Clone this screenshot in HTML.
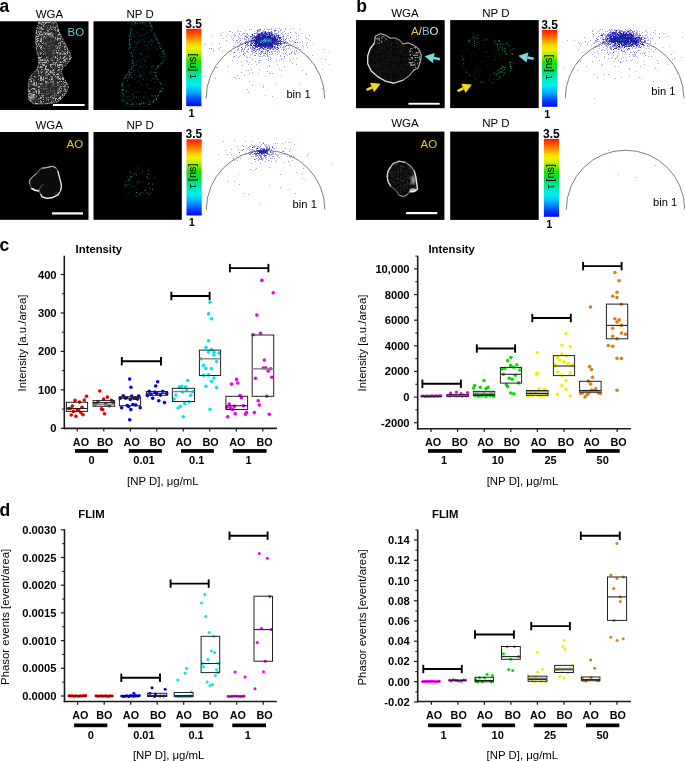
<!DOCTYPE html><html><head><meta charset="utf-8"><style>html,body{margin:0;padding:0;background:#fff}body{width:685px;height:761px;overflow:hidden}svg{display:block}text{font-family:"Liberation Sans",sans-serif}</style></head><body>
<svg width="685" height="761" viewBox="0 0 685 761"><g style="will-change:transform">
<defs>
<linearGradient id="cb" x1="0" y1="0" x2="0" y2="1">
<stop offset="0" stop-color="#ff1800"/>
<stop offset="0.1" stop-color="#ff7000"/>
<stop offset="0.2" stop-color="#ffd800"/>
<stop offset="0.25" stop-color="#f0f000"/>
<stop offset="0.32" stop-color="#b0f000"/>
<stop offset="0.42" stop-color="#20e000"/>
<stop offset="0.52" stop-color="#00e050"/>
<stop offset="0.62" stop-color="#00e8b0"/>
<stop offset="0.72" stop-color="#00f0f0"/>
<stop offset="0.82" stop-color="#00a8ff"/>
<stop offset="0.92" stop-color="#0040ff"/>
<stop offset="1" stop-color="#0808f0"/>
</linearGradient>
<filter id="mesh" x="0" y="0" width="100%" height="100%" color-interpolation-filters="sRGB">
<feTurbulence type="turbulence" baseFrequency="0.42" numOctaves="3" seed="4" result="t"/>
<feColorMatrix in="t" type="matrix" values="0 0 0 0 1  0 0 0 0 1  0 0 0 0 1  4.2 0 0 0 -1.05" result="w"/>
<feGaussianBlur stdDeviation="0.5"/>
<feComposite in2="SourceGraphic" operator="in"/>
</filter>
<filter id="speckg" x="0" y="0" width="100%" height="100%" color-interpolation-filters="sRGB">
<feTurbulence type="fractalNoise" baseFrequency="0.8" numOctaves="1" seed="9" result="t"/>
<feColorMatrix in="t" type="matrix" values="0 0 0 0 0.15  0 0 0 0 0.75  0 0 0 0 0.6  0 0 0 12 -8.2" result="w"/>
<feComposite in2="SourceGraphic" operator="in"/>
</filter>
<filter id="blur1" color-interpolation-filters="sRGB"><feGaussianBlur stdDeviation="1.2"/></filter>
<filter id="blur03" x="-5%" y="-5%" width="110%" height="110%" color-interpolation-filters="sRGB"><feGaussianBlur stdDeviation="0.3"/></filter>
<filter id="blur05" color-interpolation-filters="sRGB"><feGaussianBlur stdDeviation="0.5"/></filter>
</defs>
<text x="-0.6" y="12" font-size="17.5" font-weight="bold" text-anchor="start" fill="#000" >a</text>
<text x="356.2" y="12" font-size="17.5" font-weight="bold" text-anchor="start" fill="#000" >b</text>
<text x="-0.6" y="250.6" font-size="17.5" font-weight="bold" text-anchor="start" fill="#000" >c</text>
<text x="-0.6" y="515.6" font-size="17.5" font-weight="bold" text-anchor="start" fill="#000" >d</text>
<rect x="0" y="21.3" width="88.5" height="88.7" fill="#000" />
<rect x="93.5" y="21.3" width="88.5" height="88.7" fill="#000" />
<rect x="0" y="132" width="88.5" height="87.8" fill="#000" />
<rect x="93.5" y="132" width="88.3" height="87.8" fill="#000" />
<rect x="356" y="20.1" width="88.7" height="88.1" fill="#000" />
<rect x="450.2" y="20.1" width="88.5" height="88.0" fill="#000" />
<rect x="356" y="131.6" width="88.4" height="88.3" fill="#000" />
<rect x="450.2" y="131.6" width="88.5" height="88.3" fill="#000" />
<path d="M38.9,22 L56.4,22 L59,31.4 L63.1,39.5 L67.1,47.5 L70.5,54.3 L71.2,58.3 L68.5,62.3 L63.1,67.7 L61.1,71.7 L63.8,78.4 L67.8,83.8 L68.5,87.8 L65.8,93.2 L61.8,98.6 L56.4,102.6 L44.3,104 L33.6,104 L28.9,99.9 L28.2,90.5 L28.9,79.8 L32.2,74.4 L36.9,69 L38.9,63.7 L38.3,57 L36.3,48.9 L35.6,39.5 L36.3,30.1 Z" fill="#262626" stroke="#a0a0a0" stroke-width="1.0" stroke-dasharray="2 1 1 1"/>
<path d="M38.9,22 L56.4,22 L59,31.4 L63.1,39.5 L67.1,47.5 L70.5,54.3 L71.2,58.3 L68.5,62.3 L63.1,67.7 L61.1,71.7 L63.8,78.4 L67.8,83.8 L68.5,87.8 L65.8,93.2 L61.8,98.6 L56.4,102.6 L44.3,104 L33.6,104 L28.9,99.9 L28.2,90.5 L28.9,79.8 L32.2,74.4 L36.9,69 L38.9,63.7 L38.3,57 L36.3,48.9 L35.6,39.5 L36.3,30.1 Z" fill="#fff" filter="url(#mesh)" opacity="0.62"/>
<ellipse cx="50" cy="46" rx="6" ry="11" fill="#2a2a2a" opacity="0.7" filter="url(#blur1)"/>
<ellipse cx="49" cy="89" rx="9" ry="7" fill="#2a2a2a" opacity="0.65" filter="url(#blur1)"/>
<ellipse cx="32" cy="97" rx="3" ry="3" fill="#fff" opacity="0.45" filter="url(#blur1)"/>
<ellipse cx="51" cy="35" rx="2" ry="2.5" fill="#fff" opacity="0.4" filter="url(#blur1)"/>
<rect x="138.1" y="40.9" width="1" height="1" fill="#1a5a9a" opacity="0.66"/>
<rect x="138.3" y="95.5" width="1" height="1" fill="#188a60" opacity="0.50"/>
<rect x="138.2" y="82.0" width="1" height="1" fill="#30b070" opacity="0.25"/>
<rect x="132.4" y="103.8" width="1" height="1" fill="#137a7a" opacity="0.45"/>
<rect x="152.8" y="35.7" width="1" height="1" fill="#0e4a6a" opacity="0.56"/>
<rect x="146.8" y="31.8" width="1" height="1" fill="#30b070" opacity="0.26"/>
<rect x="159.0" y="91.0" width="1" height="1" fill="#1a5a9a" opacity="0.28"/>
<rect x="137.2" y="61.0" width="1" height="1" fill="#30b070" opacity="0.55"/>
<rect x="127.0" y="96.9" width="1" height="1" fill="#0e4a6a" opacity="0.66"/>
<rect x="146.5" y="57.7" width="1" height="1" fill="#137a7a" opacity="0.39"/>
<rect x="128.0" y="76.7" width="1" height="1" fill="#2a9a9a" opacity="0.26"/>
<rect x="149.9" y="92.5" width="1" height="1" fill="#1a5a9a" opacity="0.26"/>
<rect x="153.0" y="56.9" width="1" height="1" fill="#0e4a6a" opacity="0.38"/>
<rect x="141.6" y="36.5" width="1" height="1" fill="#137a7a" opacity="0.57"/>
<rect x="152.7" y="77.9" width="1" height="1" fill="#137a7a" opacity="0.69"/>
<rect x="152.0" y="95.4" width="1" height="1" fill="#2a9a9a" opacity="0.54"/>
<rect x="153.9" y="71.9" width="1" height="1" fill="#2a9a9a" opacity="0.52"/>
<rect x="126.0" y="99.5" width="1" height="1" fill="#1a5a9a" opacity="0.45"/>
<rect x="153.2" y="77.8" width="1" height="1" fill="#2a9a9a" opacity="0.61"/>
<rect x="125.3" y="76.8" width="1" height="1" fill="#30b070" opacity="0.35"/>
<rect x="151.2" y="44.7" width="1" height="1" fill="#0e4a6a" opacity="0.40"/>
<rect x="161.5" y="53.1" width="1" height="1" fill="#188a60" opacity="0.59"/>
<rect x="153.2" y="39.6" width="1" height="1" fill="#1a5a9a" opacity="0.35"/>
<rect x="132.1" y="103.0" width="1" height="1" fill="#30b070" opacity="0.51"/>
<rect x="131.5" y="77.4" width="1" height="1" fill="#137a7a" opacity="0.62"/>
<rect x="140.9" y="82.7" width="1" height="1" fill="#1a5a9a" opacity="0.50"/>
<rect x="143.1" y="101.6" width="1" height="1" fill="#188a60" opacity="0.62"/>
<rect x="143.8" y="75.3" width="1" height="1" fill="#1a5a9a" opacity="0.44"/>
<rect x="151.5" y="39.6" width="1" height="1" fill="#2a9a9a" opacity="0.66"/>
<rect x="128.2" y="92.0" width="1" height="1" fill="#30b070" opacity="0.35"/>
<rect x="127.0" y="79.9" width="1" height="1" fill="#30b070" opacity="0.51"/>
<rect x="134.7" y="87.4" width="1" height="1" fill="#0e4a6a" opacity="0.63"/>
<rect x="140.7" y="61.7" width="1" height="1" fill="#2a9a9a" opacity="0.38"/>
<rect x="132.3" y="60.7" width="1" height="1" fill="#30b070" opacity="0.62"/>
<rect x="124.0" y="89.7" width="1" height="1" fill="#0e4a6a" opacity="0.62"/>
<rect x="144.7" y="84.1" width="1" height="1" fill="#0e4a6a" opacity="0.34"/>
<rect x="156.2" y="48.4" width="1" height="1" fill="#188a60" opacity="0.51"/>
<rect x="140.1" y="23.3" width="1" height="1" fill="#1a5a9a" opacity="0.64"/>
<rect x="143.8" y="34.2" width="1" height="1" fill="#0e4a6a" opacity="0.52"/>
<rect x="137.8" y="41.1" width="1" height="1" fill="#188a60" opacity="0.53"/>
<rect x="145.6" y="65.1" width="1" height="1" fill="#1a5a9a" opacity="0.42"/>
<rect x="146.9" y="78.5" width="1" height="1" fill="#2a9a9a" opacity="0.28"/>
<rect x="144.8" y="25.3" width="1" height="1" fill="#188a60" opacity="0.33"/>
<rect x="142.5" y="83.8" width="1" height="1" fill="#2a9a9a" opacity="0.26"/>
<rect x="135.0" y="47.0" width="1" height="1" fill="#137a7a" opacity="0.50"/>
<rect x="160.1" y="48.1" width="1" height="1" fill="#2a9a9a" opacity="0.59"/>
<rect x="137.7" y="87.2" width="1" height="1" fill="#137a7a" opacity="0.28"/>
<rect x="138.4" y="35.2" width="1" height="1" fill="#2a9a9a" opacity="0.33"/>
<rect x="157.9" y="47.9" width="1" height="1" fill="#188a60" opacity="0.40"/>
<rect x="139.9" y="89.6" width="1" height="1" fill="#0e4a6a" opacity="0.30"/>
<rect x="152.7" y="65.1" width="1" height="1" fill="#188a60" opacity="0.41"/>
<rect x="128.9" y="95.8" width="1" height="1" fill="#2a9a9a" opacity="0.60"/>
<rect x="154.9" y="55.1" width="1" height="1" fill="#0e4a6a" opacity="0.36"/>
<rect x="151.2" y="65.7" width="1" height="1" fill="#188a60" opacity="0.51"/>
<rect x="128.6" y="98.9" width="1" height="1" fill="#137a7a" opacity="0.59"/>
<rect x="144.2" y="37.8" width="1" height="1" fill="#0e4a6a" opacity="0.39"/>
<rect x="133.9" y="98.0" width="1" height="1" fill="#188a60" opacity="0.37"/>
<rect x="125.7" y="91.3" width="1" height="1" fill="#30b070" opacity="0.39"/>
<rect x="139.1" y="66.7" width="1" height="1" fill="#0e4a6a" opacity="0.26"/>
<rect x="149.6" y="41.2" width="1" height="1" fill="#2a9a9a" opacity="0.52"/>
<rect x="150.3" y="56.4" width="1" height="1" fill="#1a5a9a" opacity="0.27"/>
<rect x="130.4" y="46.3" width="1" height="1" fill="#188a60" opacity="0.26"/>
<rect x="143.0" y="78.6" width="1" height="1" fill="#30b070" opacity="0.50"/>
<rect x="148.4" y="102.5" width="1" height="1" fill="#0e4a6a" opacity="0.30"/>
<rect x="139.1" y="75.9" width="1" height="1" fill="#30b070" opacity="0.65"/>
<rect x="160.2" y="88.0" width="1" height="1" fill="#0e4a6a" opacity="0.29"/>
<rect x="154.3" y="79.1" width="1" height="1" fill="#137a7a" opacity="0.29"/>
<rect x="151.0" y="44.5" width="1" height="1" fill="#2a9a9a" opacity="0.42"/>
<rect x="155.7" y="74.8" width="1" height="1" fill="#30b070" opacity="0.43"/>
<rect x="136.9" y="38.4" width="1" height="1" fill="#0e4a6a" opacity="0.68"/>
<rect x="144.1" y="63.9" width="1" height="1" fill="#0e4a6a" opacity="0.56"/>
<rect x="130.6" y="99.4" width="1" height="1" fill="#0e4a6a" opacity="0.37"/>
<rect x="133.3" y="62.4" width="1" height="1" fill="#137a7a" opacity="0.36"/>
<rect x="150.1" y="29.2" width="1" height="1" fill="#188a60" opacity="0.67"/>
<rect x="135.7" y="42.2" width="1" height="1" fill="#1a5a9a" opacity="0.31"/>
<rect x="132.6" y="36.0" width="1" height="1" fill="#30b070" opacity="0.25"/>
<rect x="142.9" y="28.7" width="1" height="1" fill="#30b070" opacity="0.57"/>
<rect x="133.7" y="41.9" width="1" height="1" fill="#137a7a" opacity="0.32"/>
<rect x="134.6" y="99.7" width="1" height="1" fill="#0e4a6a" opacity="0.28"/>
<rect x="152.5" y="41.9" width="1" height="1" fill="#1a5a9a" opacity="0.36"/>
<rect x="131.1" y="28.9" width="1" height="1" fill="#30b070" opacity="0.63"/>
<rect x="143.1" y="58.5" width="1" height="1" fill="#188a60" opacity="0.60"/>
<rect x="148.5" y="46.9" width="1" height="1" fill="#137a7a" opacity="0.26"/>
<rect x="141.4" y="34.6" width="1" height="1" fill="#2a9a9a" opacity="0.62"/>
<rect x="136.6" y="31.2" width="1" height="1" fill="#188a60" opacity="0.38"/>
<rect x="149.1" y="72.8" width="1" height="1" fill="#2a9a9a" opacity="0.59"/>
<rect x="150.5" y="70.6" width="1" height="1" fill="#137a7a" opacity="0.52"/>
<rect x="143.4" y="40.8" width="1" height="1" fill="#137a7a" opacity="0.53"/>
<rect x="128.4" y="74.5" width="1" height="1" fill="#30b070" opacity="0.68"/>
<rect x="132.3" y="55.5" width="1" height="1" fill="#188a60" opacity="0.68"/>
<rect x="138.8" y="80.4" width="1" height="1" fill="#2a9a9a" opacity="0.38"/>
<rect x="138.8" y="57.5" width="1" height="1" fill="#0e4a6a" opacity="0.39"/>
<rect x="151.0" y="73.7" width="1" height="1" fill="#137a7a" opacity="0.60"/>
<rect x="146.4" y="100.2" width="1" height="1" fill="#0e4a6a" opacity="0.28"/>
<rect x="141.9" y="66.4" width="1" height="1" fill="#2a9a9a" opacity="0.61"/>
<rect x="133.7" y="35.8" width="1" height="1" fill="#30b070" opacity="0.45"/>
<rect x="140.9" y="85.1" width="1" height="1" fill="#1a5a9a" opacity="0.61"/>
<rect x="143.4" y="23.7" width="1" height="1" fill="#1a5a9a" opacity="0.32"/>
<rect x="156.1" y="76.3" width="1" height="1" fill="#30b070" opacity="0.48"/>
<rect x="135.6" y="91.4" width="1" height="1" fill="#137a7a" opacity="0.67"/>
<rect x="145.2" y="23.2" width="1" height="1" fill="#137a7a" opacity="0.57"/>
<rect x="141.4" y="22.5" width="1" height="1" fill="#0e4a6a" opacity="0.52"/>
<rect x="128.5" y="76.2" width="1" height="1" fill="#137a7a" opacity="0.49"/>
<rect x="127.4" y="76.9" width="1" height="1" fill="#30b070" opacity="0.34"/>
<rect x="154.6" y="94.9" width="1" height="1" fill="#2a9a9a" opacity="0.59"/>
<rect x="128.5" y="85.5" width="1" height="1" fill="#1a5a9a" opacity="0.69"/>
<rect x="157.7" y="66.1" width="1" height="1" fill="#137a7a" opacity="0.43"/>
<rect x="125.1" y="100.1" width="1" height="1" fill="#188a60" opacity="0.27"/>
<rect x="129.7" y="44.7" width="1" height="1" fill="#2a9a9a" opacity="0.31"/>
<rect x="162.2" y="58.5" width="1" height="1" fill="#1a5a9a" opacity="0.38"/>
<rect x="140.5" y="75.4" width="1" height="1" fill="#30b070" opacity="0.48"/>
<rect x="136.1" y="43.4" width="1" height="1" fill="#137a7a" opacity="0.54"/>
<rect x="147.2" y="84.2" width="1" height="1" fill="#30b070" opacity="0.64"/>
<rect x="149.4" y="100.0" width="1" height="1" fill="#30b070" opacity="0.33"/>
<rect x="130.1" y="74.3" width="1" height="1" fill="#1a5a9a" opacity="0.37"/>
<rect x="150.8" y="39.6" width="1" height="1" fill="#137a7a" opacity="0.54"/>
<rect x="134.0" y="64.8" width="1" height="1" fill="#137a7a" opacity="0.46"/>
<rect x="129.1" y="90.8" width="1" height="1" fill="#0e4a6a" opacity="0.40"/>
<rect x="149.1" y="88.1" width="1" height="1" fill="#188a60" opacity="0.67"/>
<rect x="140.0" y="40.4" width="1" height="1" fill="#0e4a6a" opacity="0.59"/>
<rect x="145.2" y="92.2" width="1" height="1" fill="#30b070" opacity="0.56"/>
<rect x="155.1" y="95.9" width="1" height="1" fill="#30b070" opacity="0.26"/>
<rect x="136.8" y="103.1" width="1" height="1" fill="#188a60" opacity="0.46"/>
<rect x="136.1" y="64.2" width="1" height="1" fill="#1a5a9a" opacity="0.52"/>
<rect x="136.1" y="103.6" width="1" height="1" fill="#0e4a6a" opacity="0.70"/>
<rect x="145.9" y="37.4" width="1" height="1" fill="#0e4a6a" opacity="0.59"/>
<rect x="134.2" y="62.2" width="1" height="1" fill="#0e4a6a" opacity="0.38"/>
<rect x="155.6" y="65.2" width="1" height="1" fill="#0e4a6a" opacity="0.45"/>
<rect x="152.4" y="65.5" width="1" height="1" fill="#30b070" opacity="0.50"/>
<rect x="151.4" y="67.5" width="1" height="1" fill="#2a9a9a" opacity="0.69"/>
<rect x="134.3" y="73.8" width="1" height="1" fill="#137a7a" opacity="0.36"/>
<rect x="130.0" y="74.4" width="1" height="1" fill="#1a5a9a" opacity="0.67"/>
<rect x="130.7" y="76.3" width="1" height="1" fill="#2a9a9a" opacity="0.45"/>
<rect x="133.0" y="95.8" width="1" height="1" fill="#188a60" opacity="0.35"/>
<rect x="160.8" y="56.3" width="1" height="1" fill="#188a60" opacity="0.47"/>
<rect x="145.3" y="33.8" width="1" height="1" fill="#1a5a9a" opacity="0.57"/>
<rect x="161.2" y="84.1" width="1" height="1" fill="#137a7a" opacity="0.57"/>
<rect x="123.4" y="95.3" width="1" height="1" fill="#1a5a9a" opacity="0.61"/>
<rect x="136.5" y="75.7" width="1" height="1" fill="#188a60" opacity="0.50"/>
<rect x="159.0" y="92.3" width="1" height="1" fill="#30b070" opacity="0.43"/>
<rect x="150.9" y="79.8" width="1" height="1" fill="#2a9a9a" opacity="0.29"/>
<rect x="148.6" y="44.3" width="1" height="1" fill="#137a7a" opacity="0.35"/>
<rect x="140.3" y="53.4" width="1" height="1" fill="#137a7a" opacity="0.48"/>
<rect x="131.4" y="94.1" width="1" height="1" fill="#30b070" opacity="0.64"/>
<rect x="143.8" y="73.0" width="1" height="1" fill="#137a7a" opacity="0.32"/>
<rect x="157.0" y="88.6" width="1" height="1" fill="#1a5a9a" opacity="0.58"/>
<rect x="151.9" y="41.5" width="1" height="1" fill="#188a60" opacity="0.40"/>
<rect x="144.5" y="55.7" width="1" height="1" fill="#1a5a9a" opacity="0.41"/>
<rect x="139.7" y="66.0" width="1" height="1" fill="#1a5a9a" opacity="0.64"/>
<rect x="134.3" y="23.9" width="1" height="1" fill="#188a60" opacity="0.61"/>
<rect x="131.7" y="100.2" width="1" height="1" fill="#0e4a6a" opacity="0.38"/>
<rect x="131.3" y="89.2" width="1" height="1" fill="#1a5a9a" opacity="0.31"/>
<rect x="139.2" y="74.6" width="1" height="1" fill="#2a9a9a" opacity="0.33"/>
<rect x="156.4" y="92.5" width="1" height="1" fill="#137a7a" opacity="0.42"/>
<rect x="144.3" y="60.8" width="1" height="1" fill="#30b070" opacity="0.60"/>
<rect x="156.2" y="84.1" width="1" height="1" fill="#137a7a" opacity="0.29"/>
<rect x="136.0" y="96.9" width="1" height="1" fill="#188a60" opacity="0.59"/>
<rect x="142.7" y="72.0" width="1" height="1" fill="#137a7a" opacity="0.35"/>
<rect x="140.9" y="53.1" width="1" height="1" fill="#2a9a9a" opacity="0.43"/>
<rect x="133.6" y="90.6" width="1" height="1" fill="#2a9a9a" opacity="0.40"/>
<rect x="143.3" y="96.7" width="1" height="1" fill="#2a9a9a" opacity="0.64"/>
<rect x="131.1" y="72.1" width="1" height="1" fill="#2a9a9a" opacity="0.67"/>
<rect x="122.2" y="96.0" width="1" height="1" fill="#137a7a" opacity="0.51"/>
<rect x="134.0" y="36.7" width="1" height="1" fill="#0e4a6a" opacity="0.56"/>
<rect x="125.5" y="78.2" width="1" height="1" fill="#1a5a9a" opacity="0.60"/>
<rect x="135.1" y="65.1" width="1" height="1" fill="#2a9a9a" opacity="0.35"/>
<rect x="134.0" y="95.9" width="1" height="1" fill="#188a60" opacity="0.42"/>
<rect x="132.5" y="97.7" width="1" height="1" fill="#1a5a9a" opacity="0.55"/>
<rect x="149.4" y="62.4" width="1" height="1" fill="#0e4a6a" opacity="0.37"/>
<rect x="138.4" y="80.9" width="1" height="1" fill="#0e4a6a" opacity="0.28"/>
<rect x="150.0" y="26.3" width="1" height="1" fill="#30b070" opacity="0.27"/>
<rect x="127.1" y="102.6" width="1" height="1" fill="#1a5a9a" opacity="0.48"/>
<rect x="140.7" y="75.2" width="1" height="1" fill="#0e4a6a" opacity="0.56"/>
<rect x="139.6" y="38.8" width="1" height="1" fill="#30b070" opacity="0.30"/>
<rect x="129.3" y="70.5" width="1" height="1" fill="#188a60" opacity="0.46"/>
<rect x="134.4" y="78.8" width="1" height="1" fill="#137a7a" opacity="0.57"/>
<rect x="135.7" y="82.1" width="1" height="1" fill="#30b070" opacity="0.29"/>
<rect x="139.1" y="53.2" width="1" height="1" fill="#1a5a9a" opacity="0.27"/>
<rect x="151.0" y="26.7" width="1" height="1" fill="#188a60" opacity="0.30"/>
<rect x="145.8" y="49.9" width="1" height="1" fill="#137a7a" opacity="0.41"/>
<rect x="139.6" y="74.6" width="1" height="1" fill="#1a5a9a" opacity="0.29"/>
<rect x="126.3" y="96.1" width="1" height="1" fill="#188a60" opacity="0.49"/>
<rect x="145.6" y="25.4" width="1" height="1" fill="#137a7a" opacity="0.48"/>
<rect x="156.3" y="67.8" width="1" height="1" fill="#0e4a6a" opacity="0.53"/>
<rect x="136.2" y="46.4" width="1" height="1" fill="#1a5a9a" opacity="0.40"/>
<rect x="129.0" y="72.2" width="1" height="1" fill="#30b070" opacity="0.58"/>
<rect x="132.3" y="25.5" width="1" height="1" fill="#0e4a6a" opacity="0.70"/>
<rect x="151.4" y="71.7" width="1" height="1" fill="#30b070" opacity="0.51"/>
<rect x="144.4" y="59.6" width="1" height="1" fill="#0e4a6a" opacity="0.56"/>
<rect x="139.6" y="53.7" width="1" height="1" fill="#1a5a9a" opacity="0.61"/>
<rect x="130.0" y="36.9" width="1" height="1" fill="#2a9a9a" opacity="0.46"/>
<rect x="151.4" y="88.0" width="1" height="1" fill="#30b070" opacity="0.29"/>
<rect x="128.6" y="83.7" width="1" height="1" fill="#2a9a9a" opacity="0.37"/>
<rect x="151.0" y="95.3" width="1" height="1" fill="#2a9a9a" opacity="0.42"/>
<rect x="146.1" y="67.4" width="1" height="1" fill="#137a7a" opacity="0.60"/>
<rect x="133.4" y="50.0" width="1" height="1" fill="#30b070" opacity="0.51"/>
<rect x="129.8" y="73.2" width="1" height="1" fill="#188a60" opacity="0.30"/>
<rect x="150.3" y="39.3" width="1" height="1" fill="#0e4a6a" opacity="0.35"/>
<rect x="134.3" y="47.4" width="1" height="1" fill="#1a5a9a" opacity="0.58"/>
<rect x="122.7" y="99.2" width="1" height="1" fill="#2a9a9a" opacity="0.29"/>
<rect x="134.0" y="49.1" width="1" height="1" fill="#30b070" opacity="0.44"/>
<rect x="140.0" y="61.2" width="1" height="1" fill="#1a5a9a" opacity="0.33"/>
<rect x="134.7" y="56.4" width="1" height="1" fill="#1a5a9a" opacity="0.30"/>
<rect x="154.1" y="46.5" width="1" height="1" fill="#2a9a9a" opacity="0.34"/>
<rect x="130.9" y="37.2" width="1" height="1" fill="#188a60" opacity="0.26"/>
<rect x="128.9" y="77.7" width="1" height="1" fill="#30b070" opacity="0.25"/>
<rect x="139.3" y="35.6" width="1" height="1" fill="#188a60" opacity="0.37"/>
<rect x="146.1" y="87.0" width="1" height="1" fill="#137a7a" opacity="0.29"/>
<rect x="148.7" y="41.3" width="1" height="1" fill="#137a7a" opacity="0.68"/>
<rect x="140.3" y="73.8" width="1" height="1" fill="#137a7a" opacity="0.28"/>
<rect x="143.8" y="41.0" width="1" height="1" fill="#137a7a" opacity="0.52"/>
<rect x="132.9" y="69.8" width="1" height="1" fill="#137a7a" opacity="0.59"/>
<rect x="129.0" y="74.0" width="1" height="1" fill="#188a60" opacity="0.52"/>
<rect x="131.2" y="38.8" width="1" height="1" fill="#137a7a" opacity="0.53"/>
<rect x="153.5" y="33.9" width="1" height="1" fill="#0e4a6a" opacity="0.57"/>
<rect x="133.0" y="93.6" width="1" height="1" fill="#2a9a9a" opacity="0.46"/>
<rect x="137.3" y="42.5" width="1" height="1" fill="#30b070" opacity="0.50"/>
<rect x="157.6" y="79.5" width="1" height="1" fill="#137a7a" opacity="0.43"/>
<rect x="140.8" y="52.1" width="1" height="1" fill="#0e4a6a" opacity="0.46"/>
<rect x="159.2" y="54.2" width="1" height="1" fill="#188a60" opacity="0.40"/>
<rect x="133.1" y="92.1" width="1" height="1" fill="#0e4a6a" opacity="0.63"/>
<rect x="134.6" y="22.4" width="1" height="1" fill="#188a60" opacity="0.69"/>
<rect x="139.3" y="73.8" width="1" height="1" fill="#1a5a9a" opacity="0.62"/>
<rect x="139.0" y="33.3" width="1" height="1" fill="#137a7a" opacity="0.62"/>
<rect x="156.9" y="65.3" width="1" height="1" fill="#30b070" opacity="0.63"/>
<rect x="149.8" y="58.8" width="1" height="1" fill="#0e4a6a" opacity="0.39"/>
<rect x="142.8" y="38.9" width="1" height="1" fill="#188a60" opacity="0.45"/>
<rect x="130.6" y="100.0" width="1" height="1" fill="#2a9a9a" opacity="0.67"/>
<rect x="159.2" y="90.7" width="1" height="1" fill="#30b070" opacity="0.49"/>
<rect x="141.1" y="99.4" width="1" height="1" fill="#0e4a6a" opacity="0.66"/>
<rect x="143.7" y="45.2" width="1" height="1" fill="#137a7a" opacity="0.62"/>
<rect x="129.0" y="85.4" width="1" height="1" fill="#0e4a6a" opacity="0.37"/>
<rect x="147.3" y="55.8" width="1" height="1" fill="#1a5a9a" opacity="0.70"/>
<rect x="140.7" y="59.1" width="1" height="1" fill="#188a60" opacity="0.31"/>
<rect x="155.2" y="48.9" width="1" height="1" fill="#137a7a" opacity="0.47"/>
<rect x="131.8" y="33.7" width="1" height="1" fill="#1a5a9a" opacity="0.54"/>
<rect x="137.5" y="71.5" width="1" height="1" fill="#2a9a9a" opacity="0.49"/>
<rect x="143.1" y="75.1" width="1" height="1" fill="#2a9a9a" opacity="0.33"/>
<rect x="141.5" y="71.2" width="1" height="1" fill="#137a7a" opacity="0.39"/>
<rect x="161.3" y="62.6" width="1" height="1" fill="#2a9a9a" opacity="0.45"/>
<rect x="147.3" y="25.2" width="1" height="1" fill="#137a7a" opacity="0.67"/>
<rect x="148.2" y="47.7" width="1" height="1" fill="#2a9a9a" opacity="0.56"/>
<rect x="147.0" y="53.4" width="1" height="1" fill="#188a60" opacity="0.38"/>
<rect x="137.4" y="91.2" width="1" height="1" fill="#30b070" opacity="0.56"/>
<rect x="149.7" y="23.7" width="1" height="1" fill="#0e4a6a" opacity="0.34"/>
<rect x="155.0" y="82.0" width="1" height="1" fill="#0e4a6a" opacity="0.65"/>
<rect x="125.9" y="90.0" width="1" height="1" fill="#188a60" opacity="0.56"/>
<rect x="144.3" y="95.8" width="1" height="1" fill="#1a5a9a" opacity="0.47"/>
<rect x="135.2" y="52.3" width="1" height="1" fill="#0e4a6a" opacity="0.52"/>
<rect x="146.6" y="97.7" width="1" height="1" fill="#30b070" opacity="0.42"/>
<rect x="134.2" y="101.5" width="1" height="1" fill="#30b070" opacity="0.48"/>
<rect x="122.5" y="95.4" width="1" height="1" fill="#0e4a6a" opacity="0.54"/>
<rect x="157.8" y="81.5" width="1" height="1" fill="#30b070" opacity="0.43"/>
<rect x="139.1" y="59.3" width="1" height="1" fill="#0e4a6a" opacity="0.63"/>
<rect x="141.1" y="76.6" width="1" height="1" fill="#137a7a" opacity="0.47"/>
<rect x="136.3" y="32.2" width="1" height="1" fill="#0e4a6a" opacity="0.62"/>
<rect x="146.9" y="44.8" width="1" height="1" fill="#188a60" opacity="0.57"/>
<rect x="130.5" y="31.1" width="1" height="1" fill="#137a7a" opacity="0.67"/>
<rect x="146.7" y="31.9" width="1" height="1" fill="#1a5a9a" opacity="0.60"/>
<rect x="152.5" y="95.2" width="1" height="1" fill="#188a60" opacity="0.36"/>
<rect x="132.1" y="21.2" width="1.0" height="1.0" fill="#2a8fb0" opacity="0.87"/>
<rect x="134.8" y="21.9" width="1.0" height="1.0" fill="#30c070" opacity="0.57"/>
<rect x="134.9" y="22.6" width="1.0" height="1.0" fill="#1aa0a0" opacity="0.52"/>
<rect x="136.8" y="22.8" width="1.0" height="1.0" fill="#2a8fb0" opacity="0.76"/>
<rect x="139.3" y="22.6" width="1.0" height="1.0" fill="#1aa0a0" opacity="0.77"/>
<rect x="141.7" y="21.7" width="1.0" height="1.0" fill="#1aa0a0" opacity="0.68"/>
<rect x="142.3" y="22.6" width="1.0" height="1.0" fill="#20b8b0" opacity="0.78"/>
<rect x="143.8" y="21.8" width="1.0" height="1.0" fill="#20b8b0" opacity="0.55"/>
<rect x="148.8" y="21.7" width="1.0" height="1.0" fill="#2a8fb0" opacity="0.73"/>
<rect x="149.7" y="22.3" width="1.0" height="1.0" fill="#30c070" opacity="0.65"/>
<rect x="149.6" y="23.2" width="1.0" height="1.0" fill="#2a8fb0" opacity="0.64"/>
<rect x="151.3" y="24.6" width="1.0" height="1.0" fill="#2a8fb0" opacity="0.45"/>
<rect x="150.2" y="24.7" width="1.0" height="1.0" fill="#30c070" opacity="0.75"/>
<rect x="150.8" y="25.9" width="1.0" height="1.0" fill="#20b8b0" opacity="0.76"/>
<rect x="151.7" y="26.9" width="1.0" height="1.0" fill="#20b8b0" opacity="0.50"/>
<rect x="152.3" y="28.4" width="1.0" height="1.0" fill="#18a890" opacity="0.53"/>
<rect x="151.3" y="30.2" width="1.0" height="1.0" fill="#20b8b0" opacity="0.65"/>
<rect x="153.9" y="32.7" width="1.0" height="1.0" fill="#2a8fb0" opacity="0.78"/>
<rect x="153.7" y="34.8" width="1.0" height="1.0" fill="#2a8fb0" opacity="0.84"/>
<rect x="154.9" y="35.7" width="1.0" height="1.0" fill="#18a890" opacity="0.78"/>
<rect x="155.2" y="37.4" width="1.0" height="1.0" fill="#18a890" opacity="0.77"/>
<rect x="156.3" y="38.5" width="1.0" height="1.0" fill="#1aa0a0" opacity="0.58"/>
<rect x="156.6" y="39.4" width="1.0" height="1.0" fill="#20b8b0" opacity="0.90"/>
<rect x="157.4" y="41.0" width="1.0" height="1.0" fill="#2a8fb0" opacity="0.69"/>
<rect x="158.6" y="43.1" width="1.0" height="1.0" fill="#20b8b0" opacity="0.83"/>
<rect x="158.0" y="42.1" width="1.0" height="1.0" fill="#1aa0a0" opacity="0.58"/>
<rect x="159.1" y="46.0" width="1.0" height="1.0" fill="#2a8fb0" opacity="0.58"/>
<rect x="160.9" y="45.2" width="1.0" height="1.0" fill="#20b8b0" opacity="0.52"/>
<rect x="160.4" y="47.3" width="1.0" height="1.0" fill="#20b8b0" opacity="0.49"/>
<rect x="160.5" y="48.0" width="1.0" height="1.0" fill="#18a890" opacity="0.65"/>
<rect x="162.1" y="50.5" width="1.0" height="1.0" fill="#20b8b0" opacity="0.80"/>
<rect x="163.0" y="50.7" width="1.0" height="1.0" fill="#1fc0c0" opacity="0.84"/>
<rect x="162.8" y="52.4" width="1.0" height="1.0" fill="#30c070" opacity="0.54"/>
<rect x="163.8" y="53.8" width="1.0" height="1.0" fill="#1aa0a0" opacity="0.57"/>
<rect x="163.9" y="53.5" width="1.0" height="1.0" fill="#30c070" opacity="0.85"/>
<rect x="163.7" y="56.0" width="1.0" height="1.0" fill="#1aa0a0" opacity="0.70"/>
<rect x="163.8" y="58.6" width="1.0" height="1.0" fill="#30c070" opacity="0.54"/>
<rect x="163.2" y="60.7" width="1.0" height="1.0" fill="#1aa0a0" opacity="0.61"/>
<rect x="162.2" y="62.4" width="1.0" height="1.0" fill="#2a8fb0" opacity="0.70"/>
<rect x="160.3" y="63.2" width="1.0" height="1.0" fill="#30c070" opacity="0.64"/>
<rect x="159.7" y="64.8" width="1.0" height="1.0" fill="#2a8fb0" opacity="0.47"/>
<rect x="158.4" y="65.1" width="1.0" height="1.0" fill="#2a8fb0" opacity="0.68"/>
<rect x="157.6" y="66.6" width="1.0" height="1.0" fill="#1fc0c0" opacity="0.91"/>
<rect x="157.7" y="67.0" width="1.0" height="1.0" fill="#18a890" opacity="0.81"/>
<rect x="155.6" y="68.8" width="1.0" height="1.0" fill="#30c070" opacity="0.80"/>
<rect x="155.1" y="72.0" width="1.0" height="1.0" fill="#2a8fb0" opacity="0.60"/>
<rect x="153.7" y="71.6" width="1.0" height="1.0" fill="#1aa0a0" opacity="0.53"/>
<rect x="155.7" y="72.0" width="1.0" height="1.0" fill="#1aa0a0" opacity="0.73"/>
<rect x="154.9" y="75.0" width="1.0" height="1.0" fill="#1fc0c0" opacity="0.82"/>
<rect x="155.7" y="76.9" width="1.0" height="1.0" fill="#18a890" opacity="0.77"/>
<rect x="156.8" y="78.9" width="1.0" height="1.0" fill="#18a890" opacity="0.71"/>
<rect x="159.4" y="82.0" width="1.0" height="1.0" fill="#1fc0c0" opacity="0.64"/>
<rect x="159.9" y="83.2" width="1.0" height="1.0" fill="#18a890" opacity="0.78"/>
<rect x="161.1" y="83.6" width="1.0" height="1.0" fill="#20b8b0" opacity="0.47"/>
<rect x="161.8" y="87.8" width="1.0" height="1.0" fill="#30c070" opacity="0.67"/>
<rect x="163.0" y="88.6" width="1.0" height="1.0" fill="#20b8b0" opacity="0.50"/>
<rect x="159.9" y="90.0" width="1.0" height="1.0" fill="#18a890" opacity="0.53"/>
<rect x="161.2" y="90.2" width="1.0" height="1.0" fill="#1aa0a0" opacity="0.60"/>
<rect x="160.5" y="91.1" width="1.0" height="1.0" fill="#30c070" opacity="0.85"/>
<rect x="157.8" y="94.9" width="1.0" height="1.0" fill="#1fc0c0" opacity="0.94"/>
<rect x="157.7" y="96.5" width="1.0" height="1.0" fill="#30c070" opacity="0.75"/>
<rect x="155.6" y="97.0" width="1.0" height="1.0" fill="#18a890" opacity="0.53"/>
<rect x="155.8" y="98.5" width="1.0" height="1.0" fill="#1aa0a0" opacity="0.90"/>
<rect x="156.0" y="98.9" width="1.0" height="1.0" fill="#1fc0c0" opacity="0.86"/>
<rect x="154.2" y="99.6" width="1.0" height="1.0" fill="#30c070" opacity="0.70"/>
<rect x="153.3" y="99.6" width="1.0" height="1.0" fill="#1aa0a0" opacity="0.57"/>
<rect x="152.6" y="101.0" width="1.0" height="1.0" fill="#20b8b0" opacity="0.81"/>
<rect x="152.7" y="101.8" width="1.0" height="1.0" fill="#20b8b0" opacity="0.70"/>
<rect x="149.3" y="102.0" width="1.0" height="1.0" fill="#1aa0a0" opacity="0.80"/>
<rect x="149.5" y="103.7" width="1.0" height="1.0" fill="#1aa0a0" opacity="0.90"/>
<rect x="148.1" y="103.9" width="1.0" height="1.0" fill="#30c070" opacity="0.72"/>
<rect x="146.2" y="102.7" width="1.0" height="1.0" fill="#18a890" opacity="0.46"/>
<rect x="143.2" y="102.8" width="1.0" height="1.0" fill="#2a8fb0" opacity="0.77"/>
<rect x="143.5" y="103.1" width="1.0" height="1.0" fill="#2a8fb0" opacity="0.55"/>
<rect x="141.0" y="102.7" width="1.0" height="1.0" fill="#18a890" opacity="0.91"/>
<rect x="139.4" y="103.4" width="1.0" height="1.0" fill="#1fc0c0" opacity="0.86"/>
<rect x="138.9" y="104.0" width="1.0" height="1.0" fill="#2a8fb0" opacity="0.93"/>
<rect x="133.0" y="103.9" width="1.0" height="1.0" fill="#30c070" opacity="0.60"/>
<rect x="132.0" y="103.3" width="1.0" height="1.0" fill="#2a8fb0" opacity="0.84"/>
<rect x="130.3" y="104.6" width="1.0" height="1.0" fill="#2a8fb0" opacity="0.56"/>
<rect x="130.4" y="104.3" width="1.0" height="1.0" fill="#20b8b0" opacity="0.47"/>
<rect x="127.4" y="103.1" width="1.0" height="1.0" fill="#1fc0c0" opacity="0.56"/>
<rect x="126.4" y="103.4" width="1.0" height="1.0" fill="#1fc0c0" opacity="0.88"/>
<rect x="125.9" y="102.1" width="1.0" height="1.0" fill="#2a8fb0" opacity="0.56"/>
<rect x="123.7" y="100.8" width="1.0" height="1.0" fill="#20b8b0" opacity="0.70"/>
<rect x="121.8" y="100.4" width="1.0" height="1.0" fill="#30c070" opacity="0.81"/>
<rect x="122.3" y="99.1" width="1.0" height="1.0" fill="#1fc0c0" opacity="0.58"/>
<rect x="122.7" y="93.6" width="1.0" height="1.0" fill="#1aa0a0" opacity="0.82"/>
<rect x="122.6" y="94.4" width="1.0" height="1.0" fill="#18a890" opacity="0.50"/>
<rect x="121.4" y="92.0" width="1.0" height="1.0" fill="#20b8b0" opacity="0.70"/>
<rect x="121.5" y="90.0" width="1.0" height="1.0" fill="#1fc0c0" opacity="0.71"/>
<rect x="122.0" y="89.0" width="1.0" height="1.0" fill="#18a890" opacity="0.80"/>
<rect x="122.7" y="89.2" width="1.0" height="1.0" fill="#1fc0c0" opacity="0.71"/>
<rect x="121.8" y="85.6" width="1.0" height="1.0" fill="#30c070" opacity="0.93"/>
<rect x="121.5" y="84.5" width="1.0" height="1.0" fill="#18a890" opacity="0.52"/>
<rect x="121.3" y="84.4" width="1.0" height="1.0" fill="#1fc0c0" opacity="0.71"/>
<rect x="122.2" y="82.9" width="1.0" height="1.0" fill="#1fc0c0" opacity="0.90"/>
<rect x="123.6" y="78.1" width="1.0" height="1.0" fill="#18a890" opacity="0.61"/>
<rect x="124.1" y="77.3" width="1.0" height="1.0" fill="#20b8b0" opacity="0.55"/>
<rect x="124.8" y="76.5" width="1.0" height="1.0" fill="#30c070" opacity="0.51"/>
<rect x="125.6" y="75.7" width="1.0" height="1.0" fill="#1aa0a0" opacity="0.55"/>
<rect x="125.5" y="74.3" width="1.0" height="1.0" fill="#20b8b0" opacity="0.56"/>
<rect x="126.4" y="74.3" width="1.0" height="1.0" fill="#30c070" opacity="0.80"/>
<rect x="128.8" y="71.8" width="1.0" height="1.0" fill="#1fc0c0" opacity="0.63"/>
<rect x="127.8" y="70.6" width="1.0" height="1.0" fill="#30c070" opacity="0.69"/>
<rect x="129.1" y="69.0" width="1.0" height="1.0" fill="#18a890" opacity="0.84"/>
<rect x="131.1" y="68.4" width="1.0" height="1.0" fill="#1fc0c0" opacity="0.70"/>
<rect x="131.6" y="66.6" width="1.0" height="1.0" fill="#1aa0a0" opacity="0.59"/>
<rect x="131.1" y="66.8" width="1.0" height="1.0" fill="#1fc0c0" opacity="0.52"/>
<rect x="132.7" y="65.3" width="1.0" height="1.0" fill="#2a8fb0" opacity="0.90"/>
<rect x="132.4" y="62.6" width="1.0" height="1.0" fill="#30c070" opacity="0.80"/>
<rect x="131.5" y="62.7" width="1.0" height="1.0" fill="#18a890" opacity="0.81"/>
<rect x="131.6" y="60.9" width="1.0" height="1.0" fill="#2a8fb0" opacity="0.54"/>
<rect x="132.0" y="59.4" width="1.0" height="1.0" fill="#20b8b0" opacity="0.53"/>
<rect x="132.0" y="55.8" width="1.0" height="1.0" fill="#2a8fb0" opacity="0.57"/>
<rect x="131.8" y="55.7" width="1.0" height="1.0" fill="#1fc0c0" opacity="0.75"/>
<rect x="130.5" y="54.0" width="1.0" height="1.0" fill="#1fc0c0" opacity="0.52"/>
<rect x="130.9" y="52.1" width="1.0" height="1.0" fill="#1aa0a0" opacity="0.89"/>
<rect x="131.1" y="51.9" width="1.0" height="1.0" fill="#2a8fb0" opacity="0.86"/>
<rect x="128.6" y="48.3" width="1.0" height="1.0" fill="#20b8b0" opacity="0.85"/>
<rect x="129.7" y="46.8" width="1.0" height="1.0" fill="#1aa0a0" opacity="0.90"/>
<rect x="129.3" y="44.0" width="1.0" height="1.0" fill="#20b8b0" opacity="0.78"/>
<rect x="129.2" y="43.2" width="1.0" height="1.0" fill="#20b8b0" opacity="0.71"/>
<rect x="129.1" y="41.7" width="1.0" height="1.0" fill="#20b8b0" opacity="0.68"/>
<rect x="129.0" y="40.3" width="1.0" height="1.0" fill="#30c070" opacity="0.74"/>
<rect x="129.4" y="39.1" width="1.0" height="1.0" fill="#2a8fb0" opacity="0.93"/>
<rect x="129.2" y="38.5" width="1.0" height="1.0" fill="#2a8fb0" opacity="0.87"/>
<rect x="129.0" y="36.0" width="1.0" height="1.0" fill="#1fc0c0" opacity="0.58"/>
<rect x="128.6" y="35.2" width="1.0" height="1.0" fill="#1fc0c0" opacity="0.63"/>
<rect x="129.7" y="33.8" width="1.0" height="1.0" fill="#20b8b0" opacity="0.45"/>
<rect x="129.8" y="33.7" width="1.0" height="1.0" fill="#20b8b0" opacity="0.70"/>
<rect x="130.2" y="32.3" width="1.0" height="1.0" fill="#1fc0c0" opacity="0.73"/>
<rect x="130.6" y="30.0" width="1.0" height="1.0" fill="#1aa0a0" opacity="0.54"/>
<rect x="130.3" y="27.9" width="1.0" height="1.0" fill="#2a8fb0" opacity="0.85"/>
<rect x="131.9" y="23.5" width="1.0" height="1.0" fill="#2a8fb0" opacity="0.83"/>
<path d="M39.1,169.9 L42.1,168.2 L46.7,167.6 L52.6,166.2 L55.9,167.9 L57.9,171.2 L59.2,176.4 L60.8,182.3 L61.5,186.3 L60.5,190.9 L57.9,194.8 L52.6,197.5 L46.7,198.4 L42.1,196.8 L40.4,193.5 L38.8,190.9 L34.9,190.2 L31.6,188.3 L29.6,183.7 L29.6,180.4 L32.2,177.1 L36.2,173.8 L38.8,171.2 Z" fill="#0c0c0c" stroke="#555" stroke-width="1.3" filter="url(#blur05)"/>
<path d="M42.1,168.2 L46.7,167.6 L52.6,166.2 L55.9,167.9" fill="none" stroke="#c8c8c8" stroke-width="1.0" stroke-linecap="round" stroke-linejoin="round" opacity="1" filter="url(#blur05)"/>
<path d="M57.9,171.2 L59.2,176.4 L60.8,182.3 L61.5,186.3 L60.5,190.9" fill="none" stroke="#e8e8e8" stroke-width="1.2" stroke-linecap="round" stroke-linejoin="round" opacity="1" filter="url(#blur05)"/>
<path d="M59.5,192.5 L57.9,194.8 L52.6,197.5 L46.7,198.4 L42.1,196.8 L40.8,194.5" fill="none" stroke="#f0f0f0" stroke-width="1.3" stroke-linecap="round" stroke-linejoin="round" opacity="1" filter="url(#blur05)"/>
<path d="M38.5,190.9 L34.9,190.2 L31.6,188.3" fill="none" stroke="#f4f4f4" stroke-width="1.6" stroke-linecap="round" stroke-linejoin="round" opacity="1" filter="url(#blur05)"/>
<path d="M29.6,183.7 L29.6,180.4 L32.2,177.1 L36.2,173.8" fill="none" stroke="#b0b0b0" stroke-width="1.0" stroke-linecap="round" stroke-linejoin="round" opacity="1" filter="url(#blur05)"/>
<path d="M38.8,190.9 L40.5,187 L43,184.5" fill="none" stroke="#777" stroke-width="0.8" stroke-linecap="round" stroke-linejoin="round" opacity="1" filter="url(#blur05)"/>
<rect x="124.7" y="186.9" width="1" height="1" fill="#2a7fa0" opacity="0.60"/>
<rect x="147.7" y="170.5" width="1" height="1" fill="#2a7fa0" opacity="0.68"/>
<rect x="141.9" y="171.2" width="1" height="1" fill="#2fbf5f" opacity="0.64"/>
<rect x="148.9" y="173.7" width="1" height="1" fill="#2a7fa0" opacity="0.83"/>
<rect x="133.3" y="173.6" width="1" height="1" fill="#2fbf5f" opacity="0.77"/>
<rect x="152.6" y="188.3" width="1" height="1" fill="#3ad060" opacity="0.41"/>
<rect x="124.9" y="185.7" width="1" height="1" fill="#3ad060" opacity="0.51"/>
<rect x="136.4" y="191.9" width="1" height="1" fill="#30c040" opacity="0.58"/>
<rect x="138.3" y="182.1" width="1" height="1" fill="#30c040" opacity="0.54"/>
<rect x="140.2" y="192.1" width="1" height="1" fill="#2fbf5f" opacity="0.58"/>
<rect x="147.7" y="169.2" width="1" height="1" fill="#2fbf5f" opacity="0.50"/>
<rect x="149.3" y="177.0" width="1" height="1" fill="#2a7fa0" opacity="0.59"/>
<rect x="126.8" y="176.6" width="1" height="1" fill="#30c040" opacity="0.44"/>
<rect x="135.6" y="188.5" width="1" height="1" fill="#2fbf5f" opacity="0.46"/>
<rect x="135.8" y="170.1" width="1" height="1" fill="#2a7fa0" opacity="0.48"/>
<rect x="129.5" y="178.4" width="1" height="1" fill="#1a9a8a" opacity="0.59"/>
<rect x="127.5" y="193.1" width="1" height="1" fill="#2fbf5f" opacity="0.52"/>
<rect x="141.7" y="181.8" width="1" height="1" fill="#2fbf5f" opacity="0.49"/>
<rect x="134.5" y="186.0" width="1" height="1" fill="#2fbf5f" opacity="0.42"/>
<rect x="144.5" y="189.9" width="1" height="1" fill="#3ad060" opacity="0.55"/>
<rect x="136.2" y="191.9" width="1" height="1" fill="#3ad060" opacity="0.69"/>
<rect x="152.0" y="183.6" width="1" height="1" fill="#1a9a8a" opacity="0.83"/>
<rect x="124.4" y="183.9" width="1" height="1" fill="#1a9a8a" opacity="0.68"/>
<rect x="134.2" y="194.9" width="1" height="1" fill="#1a9a8a" opacity="0.47"/>
<rect x="129.7" y="172.1" width="1" height="1" fill="#2a7fa0" opacity="0.80"/>
<rect x="131.3" y="176.1" width="1" height="1" fill="#2fbf5f" opacity="0.63"/>
<rect x="138.6" y="194.4" width="1" height="1" fill="#2a7fa0" opacity="0.77"/>
<rect x="130.7" y="176.2" width="1" height="1" fill="#2fbf5f" opacity="0.46"/>
<rect x="126.1" y="184.1" width="1" height="1" fill="#2fbf5f" opacity="0.53"/>
<rect x="146.9" y="177.6" width="1" height="1" fill="#30c040" opacity="0.59"/>
<rect x="139.1" y="193.7" width="1" height="1" fill="#3ad060" opacity="0.66"/>
<rect x="149.0" y="193.7" width="1" height="1" fill="#30c040" opacity="0.70"/>
<rect x="135.4" y="172.6" width="1" height="1" fill="#2fbf5f" opacity="0.82"/>
<rect x="128.1" y="184.1" width="1" height="1" fill="#2fbf5f" opacity="0.41"/>
<rect x="130.0" y="171.4" width="1" height="1" fill="#30c040" opacity="0.46"/>
<rect x="149.2" y="187.6" width="1" height="1" fill="#2fbf5f" opacity="0.81"/>
<rect x="137.9" y="167.5" width="1" height="1" fill="#30c040" opacity="0.56"/>
<rect x="135.9" y="174.7" width="1" height="1" fill="#2a7fa0" opacity="0.82"/>
<rect x="147.9" y="184.1" width="1" height="1" fill="#2a7fa0" opacity="0.57"/>
<rect x="148.6" y="183.1" width="1" height="1" fill="#2fbf5f" opacity="0.85"/>
<rect x="147.4" y="174.0" width="1" height="1" fill="#3ad060" opacity="0.61"/>
<rect x="127.0" y="185.3" width="1" height="1" fill="#3ad060" opacity="0.41"/>
<rect x="130.6" y="175.8" width="1" height="1" fill="#2fbf5f" opacity="0.62"/>
<rect x="137.3" y="180.7" width="1" height="1" fill="#2fbf5f" opacity="0.57"/>
<rect x="146.7" y="192.5" width="1" height="1" fill="#30c040" opacity="0.70"/>
<rect x="136.3" y="183.4" width="1" height="1" fill="#30c040" opacity="0.49"/>
<rect x="131.5" y="185.9" width="1" height="1" fill="#1a9a8a" opacity="0.57"/>
<rect x="130.4" y="177.1" width="1" height="1" fill="#2a7fa0" opacity="0.56"/>
<rect x="146.5" y="176.3" width="1" height="1" fill="#30c040" opacity="0.77"/>
<rect x="150.4" y="192.6" width="1" height="1" fill="#2a7fa0" opacity="0.57"/>
<rect x="125.5" y="180.5" width="1" height="1" fill="#3ad060" opacity="0.60"/>
<rect x="152.1" y="189.3" width="1" height="1" fill="#2fbf5f" opacity="0.71"/>
<rect x="136.4" y="195.9" width="1" height="1" fill="#3ad060" opacity="0.41"/>
<rect x="145.0" y="189.6" width="1" height="1" fill="#30c040" opacity="0.51"/>
<rect x="147.3" y="192.9" width="1" height="1" fill="#2a7fa0" opacity="0.45"/>
<rect x="127.9" y="179.7" width="1" height="1" fill="#2fbf5f" opacity="0.71"/>
<rect x="142.2" y="192.4" width="1" height="1" fill="#2fbf5f" opacity="0.74"/>
<rect x="128.8" y="179.9" width="1" height="1" fill="#30c040" opacity="0.64"/>
<rect x="153.6" y="177.0" width="1" height="1" fill="#1a9a8a" opacity="0.58"/>
<rect x="139.2" y="181.5" width="1" height="1" fill="#2a7fa0" opacity="0.46"/>
<path d="M375.3,36.2 L380.4,33.7 L385.5,35.2 L390.7,38.3 L394.7,37.8 L399.9,40.3 L402.9,43.9 L408,42.9 L414.2,45.4 L419.3,49.5 L421.3,55.7 L420.3,61.8 L418.2,67.9 L413.1,71 L409,76.1 L402.9,80.2 L393.7,83.2 L385.5,81.2 L378.4,77.1 L371.2,71 L367.7,63.8 L367.7,55.7 L370.2,48.5 L374.3,43.4 L374.8,39.3 Z" fill="#080808" stroke="#404040" stroke-width="1.4" filter="url(#blur05)"/>
<path d="M375.3,36.2 L380.4,33.7 L385.5,35.2 L390.7,38.3 L394.7,37.8 L399.9,40.3 L402.9,43.9 L408,42.9 L414.2,45.4 L419.3,49.5 L421.3,55.7 L420.3,61.8 L418.2,67.9 L413.1,71 L409,76.1 L402.9,80.2 L393.7,83.2 L385.5,81.2 L378.4,77.1 L371.2,71 L367.7,63.8 L367.7,55.7 L370.2,48.5 L374.3,43.4 L374.8,39.3 Z" fill="#fff" filter="url(#mesh)" opacity="0.06"/>
<ellipse cx="414" cy="58" rx="6" ry="12" fill="#fff" filter="url(#mesh)" opacity="0.5"/>
<ellipse cx="381" cy="40" rx="6" ry="4" fill="#fff" filter="url(#mesh)" opacity="0.4"/>
<path d="M374.3,43.4 L374.8,39.3 L375.3,36.2 L380.4,33.7 L385.5,35.2 L390.7,38.3" fill="none" stroke="#b8b8b8" stroke-width="1.0" stroke-linecap="round" stroke-linejoin="round" opacity="1" filter="url(#blur05)"/>
<path d="M390.7,38.3 L394.7,37.8 L399.9,40.3 L402.9,43.9" fill="none" stroke="#909090" stroke-width="0.9" stroke-linecap="round" stroke-linejoin="round" opacity="1" filter="url(#blur05)"/>
<path d="M402.9,43.9 L408,42.9 L414.2,45.4 L419.3,49.5 L421.3,55.7 L420.3,61.8 L418.2,67.9" fill="none" stroke="#b0b0b0" stroke-width="1.0" stroke-linecap="round" stroke-linejoin="round" opacity="1" filter="url(#blur05)"/>
<path d="M418.2,67.9 L413.1,71 L409,76.1 L402.9,80.2" fill="none" stroke="#a8a8a8" stroke-width="1.0" stroke-linecap="round" stroke-linejoin="round" opacity="1" filter="url(#blur05)"/>
<path d="M402.9,80.2 L393.7,83.2 L385.5,81.2 L378.4,77.1" fill="none" stroke="#e0e0e0" stroke-width="1.2" stroke-linecap="round" stroke-linejoin="round" opacity="1" filter="url(#blur05)"/>
<path d="M378.4,77.1 L371.2,71 L367.7,63.8 L367.7,55.7 L370.2,48.5 L374.3,43.4" fill="none" stroke="#e8e8e8" stroke-width="1.2" stroke-linecap="round" stroke-linejoin="round" opacity="1" filter="url(#blur05)"/>
<rect x="469.6" y="56.6" width="1" height="1" fill="#0f5a5a" opacity="0.34"/>
<rect x="485.1" y="52.1" width="1" height="1" fill="#1a6a6a" opacity="0.32"/>
<rect x="470.5" y="75.0" width="1" height="1" fill="#1a4a7a" opacity="0.43"/>
<rect x="493.9" y="58.8" width="1" height="1" fill="#1a4a7a" opacity="0.31"/>
<rect x="477.8" y="77.7" width="1" height="1" fill="#0f5a5a" opacity="0.50"/>
<rect x="505.5" y="66.1" width="1" height="1" fill="#0f5a5a" opacity="0.23"/>
<rect x="495.3" y="72.7" width="1" height="1" fill="#187a50" opacity="0.30"/>
<rect x="497.5" y="55.4" width="1" height="1" fill="#1a4a7a" opacity="0.45"/>
<rect x="493.6" y="51.9" width="1" height="1" fill="#1a4a7a" opacity="0.40"/>
<rect x="497.4" y="48.4" width="1" height="1" fill="#187a50" opacity="0.41"/>
<rect x="490.6" y="55.6" width="1" height="1" fill="#0f5a5a" opacity="0.24"/>
<rect x="505.9" y="72.3" width="1" height="1" fill="#0f5a5a" opacity="0.42"/>
<rect x="488.6" y="80.1" width="1" height="1" fill="#1a6a6a" opacity="0.45"/>
<rect x="507.8" y="52.8" width="1" height="1" fill="#0f5a5a" opacity="0.23"/>
<rect x="483.6" y="67.6" width="1" height="1" fill="#1a6a6a" opacity="0.28"/>
<rect x="493.3" y="78.9" width="1" height="1" fill="#187a50" opacity="0.32"/>
<rect x="464.7" y="60.3" width="1" height="1" fill="#1a4a7a" opacity="0.41"/>
<rect x="472.0" y="44.4" width="1" height="1" fill="#1a6a6a" opacity="0.45"/>
<rect x="488.8" y="38.5" width="1" height="1" fill="#0f5a5a" opacity="0.36"/>
<rect x="494.8" y="59.0" width="1" height="1" fill="#0f5a5a" opacity="0.37"/>
<rect x="476.0" y="40.1" width="1" height="1" fill="#1a6a6a" opacity="0.25"/>
<rect x="468.6" y="64.5" width="1" height="1" fill="#1a4a7a" opacity="0.31"/>
<rect x="468.1" y="49.2" width="1" height="1" fill="#1a4a7a" opacity="0.36"/>
<rect x="470.0" y="45.7" width="1" height="1" fill="#1a4a7a" opacity="0.21"/>
<rect x="476.3" y="68.3" width="1" height="1" fill="#187a50" opacity="0.45"/>
<rect x="504.5" y="57.5" width="1" height="1" fill="#187a50" opacity="0.24"/>
<rect x="473.9" y="69.8" width="1" height="1" fill="#1a6a6a" opacity="0.49"/>
<rect x="470.0" y="61.9" width="1" height="1" fill="#1a6a6a" opacity="0.29"/>
<rect x="487.7" y="55.7" width="1" height="1" fill="#1a6a6a" opacity="0.45"/>
<rect x="494.6" y="69.5" width="1" height="1" fill="#0f5a5a" opacity="0.26"/>
<rect x="511.8" y="65.3" width="1" height="1" fill="#1a4a7a" opacity="0.38"/>
<rect x="509.2" y="68.3" width="1" height="1" fill="#1a4a7a" opacity="0.26"/>
<rect x="472.5" y="73.0" width="1" height="1" fill="#0f5a5a" opacity="0.28"/>
<rect x="488.0" y="56.6" width="1" height="1" fill="#187a50" opacity="0.22"/>
<rect x="486.5" y="68.1" width="1" height="1" fill="#1a6a6a" opacity="0.24"/>
<rect x="505.0" y="51.4" width="1" height="1" fill="#187a50" opacity="0.23"/>
<rect x="479.4" y="75.1" width="1" height="1" fill="#1a4a7a" opacity="0.27"/>
<rect x="486.7" y="52.2" width="1" height="1" fill="#1a6a6a" opacity="0.27"/>
<rect x="493.7" y="59.8" width="1" height="1" fill="#0f5a5a" opacity="0.48"/>
<rect x="478.1" y="40.2" width="1" height="1" fill="#1a4a7a" opacity="0.26"/>
<rect x="493.5" y="69.2" width="1" height="1" fill="#1a4a7a" opacity="0.28"/>
<rect x="488.7" y="78.9" width="1" height="1" fill="#1a4a7a" opacity="0.50"/>
<rect x="501.9" y="51.7" width="1" height="1" fill="#0f5a5a" opacity="0.45"/>
<rect x="478.4" y="71.2" width="1" height="1" fill="#187a50" opacity="0.23"/>
<rect x="492.5" y="59.3" width="1" height="1" fill="#0f5a5a" opacity="0.31"/>
<rect x="485.4" y="56.4" width="1" height="1" fill="#1a6a6a" opacity="0.36"/>
<rect x="500.4" y="57.5" width="1" height="1" fill="#0f5a5a" opacity="0.29"/>
<rect x="497.6" y="43.9" width="1" height="1" fill="#0f5a5a" opacity="0.40"/>
<rect x="491.1" y="57.4" width="1" height="1" fill="#1a4a7a" opacity="0.31"/>
<rect x="466.3" y="50.1" width="1" height="1" fill="#0f5a5a" opacity="0.23"/>
<rect x="491.7" y="49.6" width="1" height="1" fill="#0f5a5a" opacity="0.39"/>
<rect x="472.9" y="76.0" width="1" height="1" fill="#1a6a6a" opacity="0.34"/>
<rect x="473.6" y="38.9" width="1" height="1" fill="#1a4a7a" opacity="0.38"/>
<rect x="475.0" y="72.0" width="1" height="1" fill="#0f5a5a" opacity="0.47"/>
<rect x="494.9" y="58.5" width="1" height="1" fill="#1a4a7a" opacity="0.28"/>
<rect x="483.2" y="42.9" width="1" height="1" fill="#1a4a7a" opacity="0.39"/>
<rect x="479.1" y="73.3" width="1" height="1" fill="#1a6a6a" opacity="0.48"/>
<rect x="499.7" y="53.8" width="1" height="1" fill="#187a50" opacity="0.34"/>
<rect x="493.6" y="43.8" width="1" height="1" fill="#1a6a6a" opacity="0.39"/>
<rect x="489.9" y="74.2" width="1" height="1" fill="#1a6a6a" opacity="0.21"/>
<rect x="492.9" y="71.7" width="1" height="1" fill="#0f5a5a" opacity="0.22"/>
<rect x="505.5" y="53.2" width="1" height="1" fill="#1a6a6a" opacity="0.43"/>
<rect x="462.5" y="59.6" width="1" height="1" fill="#0f5a5a" opacity="0.40"/>
<rect x="465.3" y="70.1" width="1" height="1" fill="#0f5a5a" opacity="0.37"/>
<rect x="509.4" y="49.6" width="1" height="1" fill="#187a50" opacity="0.40"/>
<rect x="491.0" y="55.4" width="1" height="1" fill="#0f5a5a" opacity="0.21"/>
<rect x="476.4" y="75.5" width="1" height="1" fill="#187a50" opacity="0.21"/>
<rect x="512.2" y="53.4" width="1" height="1" fill="#187a50" opacity="0.43"/>
<rect x="501.6" y="60.5" width="1" height="1" fill="#1a6a6a" opacity="0.30"/>
<rect x="492.4" y="47.7" width="1" height="1" fill="#0f5a5a" opacity="0.35"/>
<rect x="488.9" y="42.9" width="1" height="1" fill="#0f5a5a" opacity="0.33"/>
<rect x="485.1" y="42.3" width="1" height="1" fill="#187a50" opacity="0.28"/>
<rect x="478.8" y="48.0" width="1" height="1" fill="#1a6a6a" opacity="0.43"/>
<rect x="503.5" y="66.4" width="1" height="1" fill="#1a6a6a" opacity="0.43"/>
<rect x="477.5" y="70.6" width="1" height="1" fill="#187a50" opacity="0.25"/>
<rect x="494.0" y="55.5" width="1" height="1" fill="#1a6a6a" opacity="0.37"/>
<rect x="476.4" y="65.0" width="1" height="1" fill="#187a50" opacity="0.29"/>
<rect x="465.1" y="68.9" width="1" height="1" fill="#1a4a7a" opacity="0.47"/>
<rect x="479.9" y="41.0" width="1" height="1" fill="#1a4a7a" opacity="0.21"/>
<rect x="504.7" y="46.9" width="1" height="1" fill="#1a4a7a" opacity="0.37"/>
<rect x="477.9" y="69.1" width="1" height="1" fill="#1a4a7a" opacity="0.36"/>
<rect x="496.2" y="71.0" width="1" height="1" fill="#0f5a5a" opacity="0.31"/>
<rect x="485.9" y="51.5" width="1" height="1" fill="#0f5a5a" opacity="0.40"/>
<rect x="484.2" y="50.9" width="1" height="1" fill="#0f5a5a" opacity="0.32"/>
<rect x="495.5" y="56.3" width="1" height="1" fill="#187a50" opacity="0.29"/>
<rect x="512.0" y="62.4" width="1" height="1" fill="#1a4a7a" opacity="0.45"/>
<rect x="480.0" y="69.6" width="1" height="1" fill="#1a6a6a" opacity="0.41"/>
<rect x="477.8" y="41.7" width="1" height="1" fill="#1a4a7a" opacity="0.33"/>
<rect x="493.4" y="52.3" width="1" height="1" fill="#187a50" opacity="0.27"/>
<rect x="474.7" y="45.1" width="1" height="1" fill="#0f5a5a" opacity="0.29"/>
<rect x="479.4" y="47.7" width="1" height="1" fill="#1a6a6a" opacity="0.38"/>
<rect x="464.0" y="62.0" width="1" height="1" fill="#0f5a5a" opacity="0.21"/>
<rect x="483.3" y="39.9" width="1" height="1" fill="#1a4a7a" opacity="0.48"/>
<rect x="492.4" y="73.7" width="1" height="1" fill="#0f5a5a" opacity="0.50"/>
<rect x="475.2" y="73.3" width="1" height="1" fill="#0f5a5a" opacity="0.34"/>
<rect x="503.9" y="49.9" width="1" height="1" fill="#1a6a6a" opacity="0.39"/>
<rect x="506.9" y="67.1" width="1" height="1" fill="#187a50" opacity="0.40"/>
<rect x="510.6" y="64.0" width="1" height="1" fill="#1a6a6a" opacity="0.37"/>
<rect x="466.9" y="48.2" width="1" height="1" fill="#1a6a6a" opacity="0.34"/>
<rect x="506.6" y="63.1" width="1" height="1" fill="#0f5a5a" opacity="0.47"/>
<rect x="486.3" y="66.0" width="1" height="1" fill="#187a50" opacity="0.32"/>
<rect x="471.0" y="54.3" width="1" height="1" fill="#1a6a6a" opacity="0.36"/>
<rect x="468.2" y="72.8" width="1" height="1" fill="#0f5a5a" opacity="0.32"/>
<rect x="509.4" y="66.6" width="1" height="1" fill="#1a6a6a" opacity="0.28"/>
<rect x="504.9" y="50.0" width="1" height="1" fill="#187a50" opacity="0.46"/>
<rect x="482.4" y="60.9" width="1" height="1" fill="#187a50" opacity="0.42"/>
<rect x="490.3" y="63.8" width="1" height="1" fill="#0f5a5a" opacity="0.30"/>
<rect x="481.2" y="40.2" width="1" height="1" fill="#1a6a6a" opacity="0.49"/>
<rect x="489.1" y="75.0" width="1" height="1" fill="#1a4a7a" opacity="0.40"/>
<rect x="492.4" y="79.1" width="1" height="1" fill="#1a4a7a" opacity="0.35"/>
<rect x="482.1" y="44.4" width="1" height="1" fill="#1a6a6a" opacity="0.35"/>
<rect x="485.5" y="44.4" width="1" height="1" fill="#1a4a7a" opacity="0.27"/>
<rect x="475.8" y="38.1" width="1" height="1" fill="#0f5a5a" opacity="0.25"/>
<rect x="512.0" y="49.0" width="1" height="1" fill="#0f5a5a" opacity="0.34"/>
<rect x="498.9" y="44.9" width="1" height="1" fill="#0f5a5a" opacity="0.40"/>
<rect x="476.8" y="54.1" width="1" height="1" fill="#1a4a7a" opacity="0.47"/>
<rect x="468.5" y="44.4" width="1" height="1" fill="#1a6a6a" opacity="0.26"/>
<rect x="476.0" y="50.3" width="1" height="1" fill="#187a50" opacity="0.22"/>
<rect x="499.5" y="46.0" width="1" height="1" fill="#187a50" opacity="0.50"/>
<rect x="473.3" y="53.3" width="1" height="1" fill="#1a6a6a" opacity="0.42"/>
<rect x="472.6" y="33.3" width="1.0" height="1.0" fill="#309050" opacity="0.54"/>
<rect x="486.6" y="38.7" width="1.0" height="1.0" fill="#1a7a7a" opacity="0.82"/>
<rect x="492.4" y="40.6" width="1.0" height="1.0" fill="#208a80" opacity="0.51"/>
<rect x="494.6" y="40.2" width="1.0" height="1.0" fill="#208a80" opacity="0.95"/>
<rect x="494.5" y="42.2" width="1.0" height="1.0" fill="#208a80" opacity="0.71"/>
<rect x="495.6" y="43.4" width="1.0" height="1.0" fill="#309050" opacity="0.65"/>
<rect x="497.2" y="44.0" width="1.0" height="1.0" fill="#309050" opacity="0.88"/>
<rect x="499.7" y="44.2" width="1.0" height="1.0" fill="#1a7a7a" opacity="0.48"/>
<rect x="500.6" y="43.6" width="1.0" height="1.0" fill="#2a6f90" opacity="0.68"/>
<rect x="509.0" y="45.7" width="1.0" height="1.0" fill="#2a6f90" opacity="0.83"/>
<rect x="513.0" y="48.1" width="1.0" height="1.0" fill="#187858" opacity="0.89"/>
<rect x="514.2" y="63.2" width="1.0" height="1.0" fill="#2a6f90" opacity="0.58"/>
<rect x="511.5" y="68.6" width="1.0" height="1.0" fill="#187858" opacity="0.53"/>
<rect x="509.8" y="69.8" width="1.0" height="1.0" fill="#208a80" opacity="0.83"/>
<rect x="492.9" y="82.0" width="1.0" height="1.0" fill="#309050" opacity="0.49"/>
<rect x="491.2" y="81.9" width="1.0" height="1.0" fill="#309050" opacity="0.49"/>
<rect x="483.0" y="81.6" width="1.0" height="1.0" fill="#1a7a7a" opacity="0.86"/>
<rect x="481.2" y="81.6" width="1.0" height="1.0" fill="#208a80" opacity="0.85"/>
<rect x="480.1" y="81.6" width="1.0" height="1.0" fill="#2a6f90" opacity="0.88"/>
<rect x="475.2" y="78.0" width="1.0" height="1.0" fill="#309050" opacity="0.61"/>
<rect x="469.4" y="75.7" width="1.0" height="1.0" fill="#187858" opacity="0.55"/>
<rect x="469.1" y="74.4" width="1.0" height="1.0" fill="#1a7a7a" opacity="0.54"/>
<rect x="465.9" y="72.1" width="1.0" height="1.0" fill="#187858" opacity="0.77"/>
<rect x="465.6" y="71.0" width="1.0" height="1.0" fill="#187858" opacity="0.54"/>
<rect x="463.2" y="67.4" width="1.0" height="1.0" fill="#2a6f90" opacity="0.67"/>
<rect x="462.5" y="64.8" width="1.0" height="1.0" fill="#1a7a7a" opacity="0.59"/>
<rect x="462.9" y="62.7" width="1.0" height="1.0" fill="#208a80" opacity="0.77"/>
<rect x="462.0" y="58.8" width="1.0" height="1.0" fill="#208a80" opacity="0.79"/>
<rect x="462.6" y="58.4" width="1.0" height="1.0" fill="#309050" opacity="0.89"/>
<rect x="461.6" y="55.4" width="1.0" height="1.0" fill="#208a80" opacity="0.89"/>
<rect x="463.5" y="50.3" width="1.0" height="1.0" fill="#2a6f90" opacity="0.57"/>
<rect x="468.8" y="41.0" width="1.0" height="1.0" fill="#208a80" opacity="0.86"/>
<rect x="469.2" y="39.8" width="1.0" height="1.0" fill="#208a80" opacity="0.87"/>
<rect x="469.3" y="38.8" width="1.0" height="1.0" fill="#309050" opacity="0.66"/>
<rect x="509.9" y="66.0" width="1" height="1" fill="#30d040" opacity="0.8"/>
<rect x="503.2" y="74.9" width="1" height="1" fill="#28b868" opacity="0.8"/>
<rect x="510.9" y="67.8" width="1" height="1" fill="#30d040" opacity="0.8"/>
<rect x="511.7" y="53.3" width="1" height="1" fill="#2a9a7a" opacity="0.8"/>
<rect x="509.2" y="61.9" width="1" height="1" fill="#30d040" opacity="0.8"/>
<rect x="504.2" y="68.8" width="1" height="1" fill="#28b868" opacity="0.8"/>
<rect x="499.6" y="76.9" width="1" height="1" fill="#28b868" opacity="0.8"/>
<rect x="500.6" y="67.7" width="1" height="1" fill="#2a9a7a" opacity="0.8"/>
<rect x="498.2" y="49.2" width="1" height="1" fill="#30d040" opacity="0.8"/>
<rect x="502.0" y="49.7" width="1" height="1" fill="#28b868" opacity="0.8"/>
<rect x="498.9" y="71.9" width="1" height="1" fill="#28b868" opacity="0.8"/>
<rect x="510.3" y="61.9" width="1" height="1" fill="#28b868" opacity="0.8"/>
<rect x="507.2" y="43.9" width="1" height="1" fill="#28b868" opacity="0.8"/>
<rect x="497.6" y="79.2" width="1" height="1" fill="#40e040" opacity="0.8"/>
<rect x="497.0" y="43.7" width="1" height="1" fill="#28b868" opacity="0.8"/>
<rect x="504.3" y="50.8" width="1" height="1" fill="#30d040" opacity="0.8"/>
<rect x="510.0" y="64.6" width="1" height="1" fill="#30d040" opacity="0.8"/>
<rect x="510.0" y="50.4" width="1" height="1" fill="#2a9a7a" opacity="0.8"/>
<rect x="503.0" y="66.5" width="1" height="1" fill="#2a9a7a" opacity="0.8"/>
<rect x="501.7" y="66.0" width="1" height="1" fill="#30d040" opacity="0.8"/>
<rect x="496.3" y="73.9" width="1" height="1" fill="#2a9a7a" opacity="0.8"/>
<rect x="498.5" y="40.3" width="1" height="1" fill="#40e040" opacity="0.8"/>
<rect x="511.5" y="53.6" width="1" height="1" fill="#2a9a7a" opacity="0.8"/>
<rect x="496.9" y="46.2" width="1" height="1" fill="#28b868" opacity="0.8"/>
<rect x="499.7" y="47.2" width="1" height="1" fill="#2a9a7a" opacity="0.8"/>
<rect x="506.1" y="53.6" width="1" height="1" fill="#40e040" opacity="0.8"/>
<rect x="500.5" y="68.2" width="1" height="1" fill="#40e040" opacity="0.8"/>
<rect x="497.7" y="69.6" width="1" height="1" fill="#30d040" opacity="0.8"/>
<rect x="504.5" y="47.9" width="1" height="1" fill="#40e040" opacity="0.8"/>
<rect x="497.5" y="73.2" width="1" height="1" fill="#30d040" opacity="0.8"/>
<rect x="505.2" y="52.6" width="1" height="1" fill="#28b868" opacity="0.8"/>
<rect x="503.8" y="72.5" width="1" height="1" fill="#40e040" opacity="0.8"/>
<rect x="493.8" y="72.7" width="1" height="1" fill="#30d040" opacity="0.8"/>
<rect x="500.5" y="43.4" width="1" height="1" fill="#2a9a7a" opacity="0.8"/>
<rect x="499.0" y="41.0" width="1" height="1" fill="#40e040" opacity="0.8"/>
<rect x="501.6" y="72.1" width="1" height="1" fill="#2a9a7a" opacity="0.8"/>
<rect x="505.8" y="42.4" width="1" height="1" fill="#30d040" opacity="0.8"/>
<rect x="501.5" y="70.5" width="1" height="1" fill="#28b868" opacity="0.8"/>
<rect x="503.4" y="43.8" width="1" height="1" fill="#28b868" opacity="0.8"/>
<rect x="510.2" y="66.5" width="1" height="1" fill="#30d040" opacity="0.8"/>
<rect x="502.2" y="47.5" width="1" height="1" fill="#30d040" opacity="0.8"/>
<rect x="499.9" y="71.3" width="1" height="1" fill="#2a9a7a" opacity="0.8"/>
<rect x="498.7" y="75.8" width="1" height="1" fill="#28b868" opacity="0.8"/>
<rect x="495.5" y="75.2" width="1" height="1" fill="#2a9a7a" opacity="0.8"/>
<rect x="504.4" y="66.9" width="1" height="1" fill="#40e040" opacity="0.8"/>
<rect x="474.0" y="43.0" width="1" height="1" fill="#30c060" opacity="0.7"/>
<rect x="477.4" y="42.3" width="1" height="1" fill="#30c060" opacity="0.7"/>
<rect x="485.1" y="39.4" width="1" height="1" fill="#30c060" opacity="0.7"/>
<rect x="471.7" y="37.5" width="1" height="1" fill="#30c060" opacity="0.7"/>
<rect x="474.1" y="41.1" width="1" height="1" fill="#30c060" opacity="0.7"/>
<rect x="474.0" y="45.2" width="1" height="1" fill="#30c060" opacity="0.7"/>
<rect x="477.5" y="37.9" width="1" height="1" fill="#30c060" opacity="0.7"/>
<rect x="476.6" y="35.0" width="1" height="1" fill="#30c060" opacity="0.7"/>
<rect x="473.0" y="35.8" width="1" height="1" fill="#30c060" opacity="0.7"/>
<rect x="475.2" y="37.2" width="1" height="1" fill="#30c060" opacity="0.7"/>
<rect x="474.1" y="37.7" width="1" height="1" fill="#30c060" opacity="0.7"/>
<rect x="468.2" y="40.5" width="1" height="1" fill="#30c060" opacity="0.7"/>
<path d="M389.9,168.1 L393.1,163.5 L399.1,161.2 L405,162.2 L410.2,165.5 L414.2,170.8 L415.8,176.7 L416.8,183.9 L417.5,189.2 L414.2,191.5 L409.6,191.8 L407.6,194.4 L403.7,196.7 L399.1,195.1 L395.8,190.5 L390.5,185.9 L387.9,181.3 L387.2,176 L387.9,171.4 Z" fill="#0a0a0a" stroke="#505050" stroke-width="1.3" filter="url(#blur05)"/>
<path d="M389.9,168.1 L393.1,163.5 L399.1,161.2 L405,162.2" fill="none" stroke="#d0d0d0" stroke-width="1.1" stroke-linecap="round" stroke-linejoin="round" opacity="1" filter="url(#blur05)"/>
<path d="M405,162.2 L410.2,165.5 L414.2,170.8" fill="none" stroke="#a0a0a0" stroke-width="0.9" stroke-linecap="round" stroke-linejoin="round" opacity="1" filter="url(#blur05)"/>
<path d="M414.2,170.8 L415.8,176.7 L416.8,183.9 L417.5,189.2 L414.2,191.5 L409.6,191.8" fill="none" stroke="#e8e8e8" stroke-width="1.3" stroke-linecap="round" stroke-linejoin="round" opacity="1" filter="url(#blur05)"/>
<path d="M407.6,194.4 L403.7,196.7 L399.1,195.1" fill="none" stroke="#909090" stroke-width="0.9" stroke-linecap="round" stroke-linejoin="round" opacity="1" filter="url(#blur05)"/>
<path d="M390.5,185.9 L387.9,181.3 L387.2,176 L387.9,171.4 L389.9,168.1" fill="none" stroke="#e0e0e0" stroke-width="1.2" stroke-linecap="round" stroke-linejoin="round" opacity="1" filter="url(#blur05)"/>
<path d="M389.9,168.1 L393.1,163.5 L399.1,161.2 L405,162.2 L410.2,165.5 L414.2,170.8 L415.8,176.7 L416.8,183.9 L417.5,189.2 L414.2,191.5 L409.6,191.8 L407.6,194.4 L403.7,196.7 L399.1,195.1 L395.8,190.5 L390.5,185.9 L387.9,181.3 L387.2,176 L387.9,171.4 Z" fill="#fff" filter="url(#mesh)" opacity="0.12"/>
<ellipse cx="413.2" cy="180" rx="2.3" ry="4.5" fill="#e8e8e8" opacity="0.6" filter="url(#blur1)"/>
<ellipse cx="413" cy="190" rx="3.5" ry="1.8" fill="#f0f0f0" opacity="0.75" filter="url(#blur05)"/>
<rect x="53" y="104" width="31.6" height="2" fill="#fff" />
<rect x="52.1" y="212.3" width="30.9" height="2.2" fill="#fff" />
<rect x="408.4" y="102.8" width="31.3" height="1.9" fill="#fff" />
<rect x="406.1" y="212" width="31.2" height="2.2" fill="#fff" />
<text x="67.6" y="35.6" font-size="11.5" font-weight="normal" text-anchor="start" fill="#62c8d2" >BO</text>
<text x="66.6" y="148.3" font-size="11.5" font-weight="normal" text-anchor="start" fill="#eec810" >AO</text>
<text x="420.6" y="147.6" font-size="11.5" font-weight="normal" text-anchor="start" fill="#eec810" >AO</text>
<text x="411" y="35.2" font-size="11.5" fill="#eec810">A<tspan fill="#e8e8e8">/</tspan><tspan fill="#62c8d2">B</tspan><tspan fill="#e8e8e8">O</tspan></text>
<line x1="366.6" y1="89.9" x2="372.1" y2="87.5" stroke="#f6da12" stroke-width="2.6"/>
<polygon points="380.6,83.8 374.1,92.2 370.0,82.8" fill="#f6da12"/>
<line x1="439.9" y1="59.2" x2="433.7" y2="58.0" stroke="#7ad8e0" stroke-width="2.6"/>
<polygon points="424.6,56.3 434.7,53.0 432.8,63.0" fill="#7ad8e0"/>
<line x1="457.5" y1="91.1" x2="463.5" y2="88.3" stroke="#f6da12" stroke-width="2.6"/>
<polygon points="471.9,84.4 465.6,92.9 461.3,83.7" fill="#f6da12"/>
<line x1="533.7" y1="58.7" x2="527.4" y2="57.5" stroke="#7ad8e0" stroke-width="2.6"/>
<polygon points="518.3,55.7 528.4,52.5 526.5,62.5" fill="#7ad8e0"/>
<text x="49.4" y="17.8" font-size="11.5" font-weight="normal" text-anchor="middle" fill="#000" >WGA</text>
<text x="140.1" y="17.8" font-size="11.5" font-weight="normal" text-anchor="middle" fill="#000" >NP D</text>
<text x="49.2" y="129" font-size="11.5" font-weight="normal" text-anchor="middle" fill="#000" >WGA</text>
<text x="140.1" y="129" font-size="11.5" font-weight="normal" text-anchor="middle" fill="#000" >NP D</text>
<text x="405" y="16.5" font-size="11.5" font-weight="normal" text-anchor="middle" fill="#000" >WGA</text>
<text x="495.9" y="16.5" font-size="11.5" font-weight="normal" text-anchor="middle" fill="#000" >NP D</text>
<text x="405" y="127.2" font-size="11.5" font-weight="normal" text-anchor="middle" fill="#000" >WGA</text>
<text x="495.9" y="127.2" font-size="11.5" font-weight="normal" text-anchor="middle" fill="#000" >NP D</text>
<rect x="186.2" y="28.8" width="15.2" height="77.4" fill="url(#cb)" />
<text x="196.1" y="66.1" font-size="11" text-anchor="middle" fill="#000" transform="rotate(-90 196.1 66.1)">τ [ns]</text>
<text x="193.6" y="27.900000000000002" font-size="12" font-weight="bold" text-anchor="middle" fill="#000" >3.5</text>
<text x="191.49999999999997" y="117.10000000000001" font-size="11" font-weight="bold" text-anchor="middle" fill="#000" >1</text>
<rect x="186.5" y="139.3" width="15.2" height="76.19999999999999" fill="url(#cb)" />
<text x="196.4" y="176.0" font-size="11" text-anchor="middle" fill="#000" transform="rotate(-90 196.4 176.0)">τ [ns]</text>
<text x="193.9" y="138.4" font-size="12" font-weight="bold" text-anchor="middle" fill="#000" >3.5</text>
<text x="191.79999999999998" y="226.4" font-size="11" font-weight="bold" text-anchor="middle" fill="#000" >1</text>
<rect x="542.1" y="29.9" width="15.2" height="76.9" fill="url(#cb)" />
<text x="552.0" y="66.9" font-size="11" text-anchor="middle" fill="#000" transform="rotate(-90 552.0 66.9)">τ [ns]</text>
<text x="549.5" y="29.0" font-size="12" font-weight="bold" text-anchor="middle" fill="#000" >3.5</text>
<text x="547.4000000000001" y="117.7" font-size="11" font-weight="bold" text-anchor="middle" fill="#000" >1</text>
<rect x="543.9" y="138.9" width="15.2" height="77.9" fill="url(#cb)" />
<text x="553.8" y="176.5" font-size="11" text-anchor="middle" fill="#000" transform="rotate(-90 553.8 176.5)">τ [ns]</text>
<text x="551.3" y="138.0" font-size="12" font-weight="bold" text-anchor="middle" fill="#000" >3.5</text>
<text x="549.2" y="227.70000000000002" font-size="11" font-weight="bold" text-anchor="middle" fill="#000" >1</text>
<path d="M206.09999999999997,98.4 A59.3,59.3 0 0 1 324.7,98.4" fill="none" stroke="#707070" stroke-width="0.9"/>
<g filter="url(#blur03)">
<rect x="268" y="40" width="1" height="1" fill="#20c0a8"/>
<rect x="271" y="43" width="1" height="1" fill="#1a1a98"/>
<rect x="267" y="37" width="1" height="1" fill="#1a1a98"/>
<rect x="256" y="40" width="1" height="1" fill="#1a1a98"/>
<rect x="271" y="44" width="1" height="1" fill="#1a1a98"/>
<rect x="268" y="41" width="1" height="1" fill="#1088b8"/>
<rect x="261" y="35" width="1" height="1" fill="#2525b0" opacity="0.95"/>
<rect x="269" y="36" width="1" height="1" fill="#1a1a98"/>
<rect x="268" y="34" width="1" height="1" fill="#3535c0" opacity="0.75"/>
<rect x="267" y="48" width="1" height="1" fill="#2525b0" opacity="0.95"/>
<rect x="265" y="34" width="1" height="1" fill="#2525b0" opacity="0.95"/>
<rect x="269" y="40" width="1" height="1" fill="#1088b8"/>
<rect x="260" y="48" width="1" height="1" fill="#3535c0" opacity="0.75"/>
<rect x="264" y="45" width="1" height="1" fill="#1a1a98"/>
<rect x="262" y="46" width="1" height="1" fill="#3535c0" opacity="0.75"/>
<rect x="269" y="38" width="1" height="1" fill="#1a40a8"/>
<rect x="265" y="43" width="1" height="1" fill="#1a40a8"/>
<rect x="263" y="53" width="1" height="1" fill="#5050d0" opacity="0.5"/>
<rect x="260" y="40" width="1" height="1" fill="#1a40a8"/>
<rect x="263" y="42" width="1" height="1" fill="#1088b8"/>
<rect x="265" y="39" width="1" height="1" fill="#1088b8"/>
<rect x="263" y="40" width="1" height="1" fill="#20c0a8"/>
<rect x="274" y="42" width="1" height="1" fill="#1a1a98"/>
<rect x="272" y="46" width="1" height="1" fill="#2525b0" opacity="0.95"/>
<rect x="246" y="37" width="1" height="1" fill="#3535c0" opacity="0.75"/>
<rect x="252" y="35" width="1" height="1" fill="#3535c0" opacity="0.75"/>
<rect x="264" y="40" width="1" height="1" fill="#1088b8"/>
<rect x="262" y="41" width="1" height="1" fill="#1088b8"/>
<rect x="267" y="46" width="1" height="1" fill="#1a1a98"/>
<rect x="267" y="43" width="1" height="1" fill="#1a40a8"/>
<rect x="280" y="38" width="1" height="1" fill="#2525b0" opacity="0.95"/>
<rect x="257" y="43" width="1" height="1" fill="#2525b0" opacity="0.95"/>
<rect x="262" y="45" width="1" height="1" fill="#1a1a98"/>
<rect x="279" y="41" width="1" height="1" fill="#2525b0" opacity="0.95"/>
<rect x="270" y="39" width="1" height="1" fill="#1088b8"/>
<rect x="270" y="43" width="1" height="1" fill="#1a1a98"/>
<rect x="262" y="39" width="1" height="1" fill="#1a40a8"/>
<rect x="254" y="33" width="1" height="1" fill="#3535c0" opacity="0.75"/>
<rect x="266" y="46" width="1" height="1" fill="#3535c0" opacity="0.75"/>
<rect x="266" y="35" width="1" height="1" fill="#5050d0" opacity="0.5"/>
<rect x="257" y="39" width="1" height="1" fill="#1a1a98"/>
<rect x="260" y="39" width="1" height="1" fill="#1a1a98"/>
<rect x="258" y="39" width="1" height="1" fill="#1a1a98"/>
<rect x="264" y="35" width="1" height="1" fill="#1a1a98"/>
<rect x="266" y="42" width="1" height="1" fill="#1a40a8"/>
<rect x="265" y="40" width="1" height="1" fill="#20c0a8"/>
<rect x="262" y="40" width="1" height="1" fill="#1088b8"/>
<rect x="269" y="45" width="1" height="1" fill="#1a1a98"/>
<rect x="271" y="45" width="1" height="1" fill="#2525b0" opacity="0.95"/>
<rect x="259" y="48" width="1" height="1" fill="#3535c0" opacity="0.75"/>
<rect x="270" y="42" width="1" height="1" fill="#1a40a8"/>
<rect x="262" y="34" width="1" height="1" fill="#2525b0" opacity="0.95"/>
<rect x="271" y="41" width="1" height="1" fill="#1088b8"/>
<rect x="258" y="40" width="1" height="1" fill="#1a40a8"/>
<rect x="272" y="41" width="1" height="1" fill="#1a1a98"/>
<rect x="265" y="38" width="1" height="1" fill="#1a40a8"/>
<rect x="256" y="37" width="1" height="1" fill="#1a1a98"/>
<rect x="263" y="43" width="1" height="1" fill="#1a40a8"/>
<rect x="265" y="44" width="1" height="1" fill="#1a1a98"/>
<rect x="267" y="36" width="1" height="1" fill="#1a1a98"/>
<rect x="258" y="42" width="1" height="1" fill="#1a40a8"/>
<rect x="257" y="40" width="1" height="1" fill="#1a40a8"/>
<rect x="266" y="39" width="1" height="1" fill="#1088b8"/>
<rect x="262" y="43" width="1" height="1" fill="#1a40a8"/>
<rect x="267" y="40" width="1" height="1" fill="#1088b8"/>
<rect x="270" y="38" width="1" height="1" fill="#1a1a98"/>
<rect x="254" y="41" width="1" height="1" fill="#3535c0" opacity="0.75"/>
<rect x="267" y="32" width="1" height="1" fill="#3535c0" opacity="0.75"/>
<rect x="274" y="38" width="1" height="1" fill="#1a1a98"/>
<rect x="263" y="39" width="1" height="1" fill="#1a40a8"/>
<rect x="259" y="35" width="1" height="1" fill="#1a1a98"/>
<rect x="270" y="41" width="1" height="1" fill="#1088b8"/>
<rect x="267" y="41" width="1" height="1" fill="#1a40a8"/>
<rect x="271" y="38" width="1" height="1" fill="#1a40a8"/>
<rect x="255" y="43" width="1" height="1" fill="#2525b0" opacity="0.95"/>
<rect x="262" y="37" width="1" height="1" fill="#1a1a98"/>
<rect x="271" y="42" width="1" height="1" fill="#1a40a8"/>
<rect x="266" y="44" width="1" height="1" fill="#1a1a98"/>
<rect x="254" y="40" width="1" height="1" fill="#1a1a98"/>
<rect x="257" y="37" width="1" height="1" fill="#2525b0" opacity="0.95"/>
<rect x="271" y="37" width="1" height="1" fill="#1a40a8"/>
<rect x="261" y="36" width="1" height="1" fill="#5050d0" opacity="0.5"/>
<rect x="265" y="48" width="1" height="1" fill="#5050d0" opacity="0.5"/>
<rect x="268" y="38" width="1" height="1" fill="#1a1a98"/>
<rect x="268" y="42" width="1" height="1" fill="#1a40a8"/>
<rect x="264" y="39" width="1" height="1" fill="#20c0a8"/>
<rect x="263" y="35" width="1" height="1" fill="#1a1a98"/>
<rect x="272" y="47" width="1" height="1" fill="#2525b0" opacity="0.95"/>
<rect x="249" y="40" width="1" height="1" fill="#5050d0" opacity="0.5"/>
<rect x="264" y="41" width="1" height="1" fill="#20c0a8"/>
<rect x="265" y="41" width="1" height="1" fill="#1088b8"/>
<rect x="255" y="45" width="1" height="1" fill="#2525b0" opacity="0.95"/>
<rect x="261" y="45" width="1" height="1" fill="#1a1a98"/>
<rect x="274" y="37" width="1" height="1" fill="#1a1a98"/>
<rect x="268" y="32" width="1" height="1" fill="#3535c0" opacity="0.75"/>
<rect x="259" y="39" width="1" height="1" fill="#1a40a8"/>
<rect x="254" y="36" width="1" height="1" fill="#2525b0" opacity="0.95"/>
<rect x="277" y="51" width="1" height="1" fill="#5050d0" opacity="0.5"/>
<rect x="264" y="46" width="1" height="1" fill="#2525b0" opacity="0.95"/>
<rect x="260" y="45" width="1" height="1" fill="#1a1a98"/>
<rect x="266" y="38" width="1" height="1" fill="#1a40a8"/>
<rect x="264" y="48" width="1" height="1" fill="#5050d0" opacity="0.5"/>
<rect x="271" y="33" width="1" height="1" fill="#2525b0" opacity="0.95"/>
<rect x="265" y="35" width="1" height="1" fill="#1a1a98"/>
<rect x="265" y="37" width="1" height="1" fill="#1a40a8"/>
<rect x="260" y="36" width="1" height="1" fill="#3535c0" opacity="0.75"/>
<rect x="258" y="41" width="1" height="1" fill="#1a40a8"/>
<rect x="270" y="48" width="1" height="1" fill="#2525b0" opacity="0.95"/>
<rect x="276" y="44" width="1" height="1" fill="#2525b0" opacity="0.95"/>
<rect x="254" y="45" width="1" height="1" fill="#2525b0" opacity="0.95"/>
<rect x="248" y="42" width="1" height="1" fill="#3535c0" opacity="0.75"/>
<rect x="283" y="37" width="1" height="1" fill="#5050d0" opacity="0.5"/>
<rect x="258" y="34" width="1" height="1" fill="#1a1a98"/>
<rect x="269" y="39" width="1" height="1" fill="#1088b8"/>
<rect x="259" y="43" width="1" height="1" fill="#1a1a98"/>
<rect x="262" y="33" width="1" height="1" fill="#2525b0" opacity="0.95"/>
<rect x="269" y="41" width="1" height="1" fill="#1a40a8"/>
<rect x="262" y="36" width="1" height="1" fill="#1a1a98"/>
<rect x="267" y="42" width="1" height="1" fill="#1a40a8"/>
<rect x="259" y="37" width="1" height="1" fill="#1a1a98"/>
<rect x="257" y="38" width="1" height="1" fill="#1a1a98"/>
<rect x="275" y="41" width="1" height="1" fill="#2525b0" opacity="0.95"/>
<rect x="265" y="33" width="1" height="1" fill="#1a1a98"/>
<rect x="262" y="42" width="1" height="1" fill="#1a1a98"/>
<rect x="264" y="44" width="1" height="1" fill="#1a40a8"/>
<rect x="268" y="43" width="1" height="1" fill="#1a1a98"/>
<rect x="257" y="36" width="1" height="1" fill="#1a1a98"/>
<rect x="261" y="44" width="1" height="1" fill="#1a1a98"/>
<rect x="258" y="37" width="1" height="1" fill="#1a1a98"/>
<rect x="259" y="44" width="1" height="1" fill="#1a1a98"/>
<rect x="276" y="36" width="1" height="1" fill="#3535c0" opacity="0.75"/>
<rect x="257" y="42" width="1" height="1" fill="#1a1a98"/>
<rect x="266" y="40" width="1" height="1" fill="#1088b8"/>
<rect x="250" y="48" width="1" height="1" fill="#5050d0" opacity="0.5"/>
<rect x="261" y="37" width="1" height="1" fill="#1a1a98"/>
<rect x="261" y="33" width="1" height="1" fill="#2525b0" opacity="0.95"/>
<rect x="266" y="37" width="1" height="1" fill="#1a40a8"/>
<rect x="265" y="49" width="1" height="1" fill="#5050d0" opacity="0.5"/>
<rect x="266" y="45" width="1" height="1" fill="#1a1a98"/>
<rect x="253" y="40" width="1" height="1" fill="#1a1a98"/>
<rect x="271" y="34" width="1" height="1" fill="#2525b0" opacity="0.95"/>
<rect x="270" y="44" width="1" height="1" fill="#1a1a98"/>
<rect x="274" y="39" width="1" height="1" fill="#1a1a98"/>
<rect x="266" y="41" width="1" height="1" fill="#1088b8"/>
<rect x="285" y="33" width="1" height="1" fill="#5050d0" opacity="0.5"/>
<rect x="260" y="44" width="1" height="1" fill="#1a40a8"/>
<rect x="274" y="41" width="1" height="1" fill="#1a1a98"/>
<rect x="246" y="42" width="1" height="1" fill="#2525b0" opacity="0.95"/>
<rect x="265" y="36" width="1" height="1" fill="#1a1a98"/>
<rect x="273" y="46" width="1" height="1" fill="#2525b0" opacity="0.95"/>
<rect x="269" y="47" width="1" height="1" fill="#3535c0" opacity="0.75"/>
<rect x="278" y="34" width="1" height="1" fill="#5050d0" opacity="0.5"/>
<rect x="279" y="43" width="1" height="1" fill="#2525b0" opacity="0.95"/>
<rect x="258" y="45" width="1" height="1" fill="#2525b0" opacity="0.95"/>
<rect x="260" y="33" width="1" height="1" fill="#3535c0" opacity="0.75"/>
<rect x="278" y="41" width="1" height="1" fill="#2525b0" opacity="0.95"/>
<rect x="258" y="29" width="1" height="1" fill="#5050d0" opacity="0.5"/>
<rect x="269" y="29" width="1" height="1" fill="#5050d0" opacity="0.5"/>
<rect x="263" y="44" width="1" height="1" fill="#1a1a98"/>
<rect x="264" y="33" width="1" height="1" fill="#2525b0" opacity="0.95"/>
<rect x="262" y="47" width="1" height="1" fill="#2525b0" opacity="0.95"/>
<rect x="264" y="47" width="1" height="1" fill="#2525b0" opacity="0.95"/>
<rect x="263" y="38" width="1" height="1" fill="#1a40a8"/>
<rect x="264" y="37" width="1" height="1" fill="#1a40a8"/>
<rect x="260" y="43" width="1" height="1" fill="#1a1a98"/>
<rect x="256" y="51" width="1" height="1" fill="#5050d0" opacity="0.5"/>
<rect x="269" y="44" width="1" height="1" fill="#1a1a98"/>
<rect x="257" y="30" width="1" height="1" fill="#2525b0" opacity="0.95"/>
<rect x="260" y="35" width="1" height="1" fill="#2525b0" opacity="0.95"/>
<rect x="251" y="40" width="1" height="1" fill="#2525b0" opacity="0.95"/>
<rect x="268" y="39" width="1" height="1" fill="#1a40a8"/>
<rect x="255" y="40" width="1" height="1" fill="#1a1a98"/>
<rect x="260" y="46" width="1" height="1" fill="#1a1a98"/>
<rect x="266" y="36" width="1" height="1" fill="#1a1a98"/>
<rect x="267" y="38" width="1" height="1" fill="#1088b8"/>
<rect x="278" y="38" width="1" height="1" fill="#5050d0" opacity="0.5"/>
<rect x="261" y="39" width="1" height="1" fill="#1a40a8"/>
<rect x="267" y="44" width="1" height="1" fill="#2525b0" opacity="0.95"/>
<rect x="265" y="42" width="1" height="1" fill="#1a40a8"/>
<rect x="259" y="40" width="1" height="1" fill="#1a40a8"/>
<rect x="259" y="41" width="1" height="1" fill="#1a1a98"/>
<rect x="265" y="47" width="1" height="1" fill="#2525b0" opacity="0.95"/>
<rect x="271" y="46" width="1" height="1" fill="#2525b0" opacity="0.95"/>
<rect x="267" y="39" width="1" height="1" fill="#1a40a8"/>
<rect x="248" y="39" width="1" height="1" fill="#5050d0" opacity="0.5"/>
<rect x="287" y="45" width="1" height="1" fill="#5050d0" opacity="0.5"/>
<rect x="260" y="29" width="1" height="1" fill="#2525b0" opacity="0.95"/>
<rect x="260" y="41" width="1" height="1" fill="#1088b8"/>
<rect x="271" y="32" width="1" height="1" fill="#3535c0" opacity="0.75"/>
<rect x="253" y="45" width="1" height="1" fill="#2525b0" opacity="0.95"/>
<rect x="269" y="37" width="1" height="1" fill="#1a1a98"/>
<rect x="271" y="31" width="1" height="1" fill="#3535c0" opacity="0.75"/>
<rect x="263" y="46" width="1" height="1" fill="#1a1a98"/>
<rect x="269" y="42" width="1" height="1" fill="#1a40a8"/>
<rect x="259" y="45" width="1" height="1" fill="#2525b0" opacity="0.95"/>
<rect x="268" y="37" width="1" height="1" fill="#1a1a98"/>
<rect x="260" y="47" width="1" height="1" fill="#3535c0" opacity="0.75"/>
<rect x="272" y="45" width="1" height="1" fill="#1a1a98"/>
<rect x="266" y="43" width="1" height="1" fill="#1a1a98"/>
<rect x="278" y="43" width="1" height="1" fill="#1a1a98"/>
<rect x="264" y="36" width="1" height="1" fill="#1a1a98"/>
<rect x="266" y="33" width="1" height="1" fill="#1a1a98"/>
<rect x="275" y="40" width="1" height="1" fill="#1a40a8"/>
<rect x="272" y="42" width="1" height="1" fill="#1a1a98"/>
<rect x="263" y="37" width="1" height="1" fill="#1a1a98"/>
<rect x="261" y="40" width="1" height="1" fill="#1088b8"/>
<rect x="259" y="38" width="1" height="1" fill="#1a1a98"/>
<rect x="255" y="38" width="1" height="1" fill="#1a1a98"/>
<rect x="253" y="41" width="1" height="1" fill="#3535c0" opacity="0.75"/>
<rect x="275" y="48" width="1" height="1" fill="#3535c0" opacity="0.75"/>
<rect x="261" y="42" width="1" height="1" fill="#1088b8"/>
<rect x="259" y="34" width="1" height="1" fill="#1a1a98"/>
<rect x="261" y="34" width="1" height="1" fill="#2525b0" opacity="0.95"/>
<rect x="273" y="39" width="1" height="1" fill="#1a1a98"/>
<rect x="256" y="43" width="1" height="1" fill="#1a1a98"/>
<rect x="268" y="45" width="1" height="1" fill="#2525b0" opacity="0.95"/>
<rect x="276" y="34" width="1" height="1" fill="#5050d0" opacity="0.5"/>
<rect x="249" y="38" width="1" height="1" fill="#5050d0" opacity="0.5"/>
<rect x="262" y="38" width="1" height="1" fill="#2525b0" opacity="0.95"/>
<rect x="269" y="34" width="1" height="1" fill="#1a1a98"/>
<rect x="261" y="38" width="1" height="1" fill="#1a1a98"/>
<rect x="253" y="47" width="1" height="1" fill="#3535c0" opacity="0.75"/>
<rect x="271" y="39" width="1" height="1" fill="#1a40a8"/>
<rect x="258" y="46" width="1" height="1" fill="#2525b0" opacity="0.95"/>
<rect x="269" y="33" width="1" height="1" fill="#2525b0" opacity="0.95"/>
<rect x="270" y="40" width="1" height="1" fill="#1088b8"/>
<rect x="272" y="39" width="1" height="1" fill="#1a1a98"/>
<rect x="260" y="34" width="1" height="1" fill="#3535c0" opacity="0.75"/>
<rect x="273" y="37" width="1" height="1" fill="#3535c0" opacity="0.75"/>
<rect x="280" y="35" width="1" height="1" fill="#5050d0" opacity="0.5"/>
<rect x="253" y="38" width="1" height="1" fill="#3535c0" opacity="0.75"/>
<rect x="261" y="43" width="1" height="1" fill="#1a1a98"/>
<rect x="274" y="35" width="1" height="1" fill="#2525b0" opacity="0.95"/>
<rect x="256" y="47" width="1" height="1" fill="#3535c0" opacity="0.75"/>
<rect x="272" y="36" width="1" height="1" fill="#3535c0" opacity="0.75"/>
<rect x="260" y="42" width="1" height="1" fill="#5050d0" opacity="0.5"/>
<rect x="265" y="45" width="1" height="1" fill="#1a1a98"/>
<rect x="272" y="34" width="1" height="1" fill="#2525b0" opacity="0.95"/>
<rect x="259" y="42" width="1" height="1" fill="#1a1a98"/>
<rect x="264" y="42" width="1" height="1" fill="#1a40a8"/>
<rect x="273" y="36" width="1" height="1" fill="#3535c0" opacity="0.75"/>
<rect x="253" y="42" width="1" height="1" fill="#2525b0" opacity="0.95"/>
<rect x="267" y="35" width="1" height="1" fill="#3535c0" opacity="0.75"/>
<rect x="259" y="30" width="1" height="1" fill="#5050d0" opacity="0.5"/>
<rect x="279" y="38" width="1" height="1" fill="#2525b0" opacity="0.95"/>
<rect x="254" y="35" width="1" height="1" fill="#3535c0" opacity="0.75"/>
<rect x="272" y="38" width="1" height="1" fill="#1a1a98"/>
<rect x="268" y="36" width="1" height="1" fill="#1a1a98"/>
<rect x="273" y="40" width="1" height="1" fill="#1a40a8"/>
<rect x="258" y="44" width="1" height="1" fill="#1a1a98"/>
<rect x="249" y="41" width="1" height="1" fill="#3535c0" opacity="0.75"/>
<rect x="270" y="36" width="1" height="1" fill="#1a1a98"/>
<rect x="263" y="36" width="1" height="1" fill="#1a1a98"/>
<rect x="257" y="34" width="1" height="1" fill="#2525b0" opacity="0.95"/>
<rect x="272" y="35" width="1" height="1" fill="#2525b0" opacity="0.95"/>
<rect x="275" y="39" width="1" height="1" fill="#1a1a98"/>
<rect x="277" y="44" width="1" height="1" fill="#3535c0" opacity="0.75"/>
<rect x="266" y="47" width="1" height="1" fill="#3535c0" opacity="0.75"/>
<rect x="257" y="41" width="1" height="1" fill="#1a1a98"/>
<rect x="257" y="45" width="1" height="1" fill="#1a1a98"/>
<rect x="280" y="43" width="1" height="1" fill="#2525b0" opacity="0.95"/>
<rect x="265" y="31" width="1" height="1" fill="#2525b0" opacity="0.95"/>
<rect x="264" y="38" width="1" height="1" fill="#1a40a8"/>
<rect x="278" y="37" width="1" height="1" fill="#3535c0" opacity="0.75"/>
<rect x="277" y="36" width="1" height="1" fill="#5050d0" opacity="0.5"/>
<rect x="266" y="32" width="1" height="1" fill="#5050d0" opacity="0.5"/>
<rect x="276" y="41" width="1" height="1" fill="#2525b0" opacity="0.95"/>
<rect x="270" y="45" width="1" height="1" fill="#1a1a98"/>
<rect x="267" y="45" width="1" height="1" fill="#1a1a98"/>
<rect x="269" y="46" width="1" height="1" fill="#2525b0" opacity="0.95"/>
<rect x="269" y="35" width="1" height="1" fill="#1a1a98"/>
<rect x="283" y="39" width="1" height="1" fill="#3535c0" opacity="0.75"/>
<rect x="274" y="47" width="1" height="1" fill="#2525b0" opacity="0.95"/>
<rect x="273" y="43" width="1" height="1" fill="#2525b0" opacity="0.95"/>
<rect x="250" y="43" width="1" height="1" fill="#3535c0" opacity="0.75"/>
<rect x="256" y="45" width="1" height="1" fill="#3535c0" opacity="0.75"/>
<rect x="280" y="41" width="1" height="1" fill="#3535c0" opacity="0.75"/>
<rect x="255" y="44" width="1" height="1" fill="#1a1a98"/>
<rect x="277" y="47" width="1" height="1" fill="#2525b0" opacity="0.95"/>
<rect x="256" y="44" width="1" height="1" fill="#1a1a98"/>
<rect x="271" y="40" width="1" height="1" fill="#1a40a8"/>
<rect x="269" y="43" width="1" height="1" fill="#1a1a98"/>
<rect x="276" y="40" width="1" height="1" fill="#1a1a98"/>
<rect x="281" y="39" width="1" height="1" fill="#3535c0" opacity="0.75"/>
<rect x="275" y="35" width="1" height="1" fill="#5050d0" opacity="0.5"/>
<rect x="255" y="41" width="1" height="1" fill="#1a1a98"/>
<rect x="251" y="50" width="1" height="1" fill="#5050d0" opacity="0.5"/>
<rect x="261" y="32" width="1" height="1" fill="#1a1a98"/>
<rect x="256" y="39" width="1" height="1" fill="#1a1a98"/>
<rect x="273" y="42" width="1" height="1" fill="#2525b0" opacity="0.95"/>
<rect x="264" y="34" width="1" height="1" fill="#3535c0" opacity="0.75"/>
<rect x="257" y="46" width="1" height="1" fill="#2525b0" opacity="0.95"/>
<rect x="261" y="41" width="1" height="1" fill="#1a40a8"/>
<rect x="255" y="37" width="1" height="1" fill="#1a1a98"/>
<rect x="272" y="40" width="1" height="1" fill="#1a1a98"/>
<rect x="272" y="44" width="1" height="1" fill="#2525b0" opacity="0.95"/>
<rect x="261" y="47" width="1" height="1" fill="#2525b0" opacity="0.95"/>
<rect x="252" y="40" width="1" height="1" fill="#2525b0" opacity="0.95"/>
<rect x="278" y="44" width="1" height="1" fill="#3535c0" opacity="0.75"/>
<rect x="252" y="47" width="1" height="1" fill="#3535c0" opacity="0.75"/>
<rect x="256" y="35" width="1" height="1" fill="#3535c0" opacity="0.75"/>
<rect x="272" y="43" width="1" height="1" fill="#1a1a98"/>
<rect x="259" y="36" width="1" height="1" fill="#1a1a98"/>
<rect x="244" y="39" width="1" height="1" fill="#5050d0" opacity="0.5"/>
<rect x="262" y="35" width="1" height="1" fill="#2525b0" opacity="0.95"/>
<rect x="274" y="33" width="1" height="1" fill="#5050d0" opacity="0.5"/>
<rect x="254" y="39" width="1" height="1" fill="#1a1a98"/>
<rect x="259" y="49" width="1" height="1" fill="#3535c0" opacity="0.75"/>
<rect x="270" y="46" width="1" height="1" fill="#1a1a98"/>
<rect x="278" y="40" width="1" height="1" fill="#5050d0" opacity="0.5"/>
<rect x="268" y="44" width="1" height="1" fill="#2525b0" opacity="0.95"/>
<rect x="278" y="36" width="1" height="1" fill="#2525b0" opacity="0.95"/>
<rect x="263" y="45" width="1" height="1" fill="#2525b0" opacity="0.95"/>
<rect x="255" y="42" width="1" height="1" fill="#1a1a98"/>
<rect x="277" y="43" width="1" height="1" fill="#1a1a98"/>
<rect x="284" y="43" width="1" height="1" fill="#2525b0" opacity="0.95"/>
<rect x="278" y="42" width="1" height="1" fill="#3535c0" opacity="0.75"/>
<rect x="277" y="38" width="1" height="1" fill="#3535c0" opacity="0.75"/>
<rect x="252" y="42" width="1" height="1" fill="#5050d0" opacity="0.5"/>
<rect x="272" y="37" width="1" height="1" fill="#1a1a98"/>
<rect x="270" y="35" width="1" height="1" fill="#2525b0" opacity="0.95"/>
<rect x="273" y="38" width="1" height="1" fill="#2525b0" opacity="0.95"/>
<rect x="253" y="39" width="1" height="1" fill="#5050d0" opacity="0.5"/>
<rect x="254" y="50" width="1" height="1" fill="#3535c0" opacity="0.75"/>
<rect x="258" y="35" width="1" height="1" fill="#2525b0" opacity="0.95"/>
<rect x="255" y="47" width="1" height="1" fill="#3535c0" opacity="0.75"/>
<rect x="250" y="41" width="1" height="1" fill="#5050d0" opacity="0.5"/>
<rect x="251" y="42" width="1" height="1" fill="#3535c0" opacity="0.75"/>
<rect x="278" y="47" width="1" height="1" fill="#5050d0" opacity="0.5"/>
<rect x="250" y="42" width="1" height="1" fill="#5050d0" opacity="0.5"/>
<rect x="255" y="36" width="1" height="1" fill="#3535c0" opacity="0.75"/>
<rect x="276" y="42" width="1" height="1" fill="#2525b0" opacity="0.95"/>
<rect x="267" y="34" width="1" height="1" fill="#2525b0" opacity="0.95"/>
<rect x="246" y="41" width="1" height="1" fill="#5050d0" opacity="0.5"/>
<rect x="258" y="43" width="1" height="1" fill="#2525b0" opacity="0.95"/>
<rect x="263" y="41" width="1" height="1" fill="#1a40a8"/>
<rect x="260" y="38" width="1" height="1" fill="#1a1a98"/>
<rect x="253" y="44" width="1" height="1" fill="#5050d0" opacity="0.5"/>
<rect x="240" y="40" width="1" height="1" fill="#5050d0" opacity="0.5"/>
<rect x="249" y="36" width="1" height="1" fill="#5050d0" opacity="0.5"/>
<rect x="279" y="39" width="1" height="1" fill="#3535c0" opacity="0.75"/>
<rect x="277" y="48" width="1" height="1" fill="#5050d0" opacity="0.5"/>
<rect x="276" y="35" width="1" height="1" fill="#3535c0" opacity="0.75"/>
<rect x="277" y="39" width="1" height="1" fill="#1a1a98"/>
<rect x="258" y="38" width="1" height="1" fill="#2525b0" opacity="0.95"/>
<rect x="272" y="33" width="1" height="1" fill="#5050d0" opacity="0.5"/>
<rect x="274" y="43" width="1" height="1" fill="#2525b0" opacity="0.95"/>
<rect x="262" y="44" width="1" height="1" fill="#1a1a98"/>
<rect x="257" y="35" width="1" height="1" fill="#3535c0" opacity="0.75"/>
<rect x="268" y="46" width="1" height="1" fill="#2525b0" opacity="0.95"/>
<rect x="259" y="46" width="1" height="1" fill="#2525b0" opacity="0.95"/>
<rect x="270" y="37" width="1" height="1" fill="#1a1a98"/>
<rect x="277" y="42" width="1" height="1" fill="#3535c0" opacity="0.75"/>
<rect x="252" y="38" width="1" height="1" fill="#2525b0" opacity="0.95"/>
<rect x="272" y="32" width="1" height="1" fill="#5050d0" opacity="0.5"/>
<rect x="265" y="32" width="1" height="1" fill="#2525b0" opacity="0.95"/>
<rect x="250" y="36" width="1" height="1" fill="#3535c0" opacity="0.75"/>
<rect x="250" y="45" width="1" height="1" fill="#2525b0" opacity="0.95"/>
<rect x="275" y="43" width="1" height="1" fill="#2525b0" opacity="0.95"/>
<rect x="254" y="43" width="1" height="1" fill="#1a1a98"/>
<rect x="274" y="40" width="1" height="1" fill="#1a1a98"/>
<rect x="247" y="44" width="1" height="1" fill="#3535c0" opacity="0.75"/>
<rect x="253" y="37" width="1" height="1" fill="#2525b0" opacity="0.95"/>
<rect x="258" y="36" width="1" height="1" fill="#1a1a98"/>
<rect x="277" y="41" width="1" height="1" fill="#2525b0" opacity="0.95"/>
<rect x="256" y="38" width="1" height="1" fill="#2525b0" opacity="0.95"/>
<rect x="263" y="32" width="1" height="1" fill="#5050d0" opacity="0.5"/>
<rect x="268" y="47" width="1" height="1" fill="#2525b0" opacity="0.95"/>
<rect x="263" y="48" width="1" height="1" fill="#2525b0" opacity="0.95"/>
<rect x="256" y="36" width="1" height="1" fill="#2525b0" opacity="0.95"/>
<rect x="264" y="43" width="1" height="1" fill="#1a1a98"/>
<rect x="273" y="45" width="1" height="1" fill="#5050d0" opacity="0.5"/>
<rect x="250" y="44" width="1" height="1" fill="#3535c0" opacity="0.75"/>
<rect x="262" y="32" width="1" height="1" fill="#3535c0" opacity="0.75"/>
<rect x="276" y="39" width="1" height="1" fill="#2525b0" opacity="0.95"/>
<rect x="291" y="41" width="1" height="1" fill="#5050d0" opacity="0.5"/>
<rect x="275" y="31" width="1" height="1" fill="#5050d0" opacity="0.5"/>
<rect x="276" y="43" width="1" height="1" fill="#2525b0" opacity="0.95"/>
<rect x="275" y="37" width="1" height="1" fill="#2525b0" opacity="0.95"/>
<rect x="256" y="46" width="1" height="1" fill="#2525b0" opacity="0.95"/>
<rect x="256" y="41" width="1" height="1" fill="#1a1a98"/>
<rect x="277" y="37" width="1" height="1" fill="#2525b0" opacity="0.95"/>
<rect x="271" y="29" width="1" height="1" fill="#5050d0" opacity="0.5"/>
<rect x="281" y="43" width="1" height="1" fill="#2525b0" opacity="0.95"/>
<rect x="280" y="44" width="1" height="1" fill="#2525b0" opacity="0.95"/>
<rect x="250" y="39" width="1" height="1" fill="#5050d0" opacity="0.5"/>
<rect x="252" y="43" width="1" height="1" fill="#2525b0" opacity="0.95"/>
<rect x="254" y="47" width="1" height="1" fill="#5050d0" opacity="0.5"/>
<rect x="255" y="49" width="1" height="1" fill="#5050d0" opacity="0.5"/>
<rect x="265" y="46" width="1" height="1" fill="#2525b0" opacity="0.95"/>
<rect x="278" y="45" width="1" height="1" fill="#5050d0" opacity="0.5"/>
<rect x="266" y="34" width="1" height="1" fill="#1a1a98"/>
<rect x="270" y="49" width="1" height="1" fill="#3535c0" opacity="0.75"/>
<rect x="259" y="33" width="1" height="1" fill="#3535c0" opacity="0.75"/>
<rect x="263" y="30" width="1" height="1" fill="#5050d0" opacity="0.5"/>
<rect x="272" y="53" width="1" height="1" fill="#3535c0" opacity="0.75"/>
<rect x="281" y="41" width="1" height="1" fill="#3535c0" opacity="0.75"/>
<rect x="263" y="49" width="1" height="1" fill="#3535c0" opacity="0.75"/>
<rect x="280" y="40" width="1" height="1" fill="#2525b0" opacity="0.95"/>
<rect x="248" y="45" width="1" height="1" fill="#3535c0" opacity="0.75"/>
<rect x="262" y="51" width="1" height="1" fill="#5050d0" opacity="0.5"/>
<rect x="247" y="37" width="1" height="1" fill="#3535c0" opacity="0.75"/>
<rect x="252" y="34" width="1" height="1" fill="#2525b0" opacity="0.95"/>
<rect x="283" y="36" width="1" height="1" fill="#3535c0" opacity="0.75"/>
<rect x="268" y="48" width="1" height="1" fill="#3535c0" opacity="0.75"/>
<rect x="263" y="34" width="1" height="1" fill="#2525b0" opacity="0.95"/>
<rect x="271" y="35" width="1" height="1" fill="#2525b0" opacity="0.95"/>
<rect x="275" y="42" width="1" height="1" fill="#3535c0" opacity="0.75"/>
<rect x="248" y="38" width="1" height="1" fill="#5050d0" opacity="0.5"/>
<rect x="245" y="39" width="1" height="1" fill="#5050d0" opacity="0.5"/>
<rect x="266" y="49" width="1" height="1" fill="#3535c0" opacity="0.75"/>
<rect x="250" y="37" width="1" height="1" fill="#5050d0" opacity="0.5"/>
<rect x="272" y="48" width="1" height="1" fill="#5050d0" opacity="0.5"/>
<rect x="264" y="31" width="1" height="1" fill="#5050d0" opacity="0.5"/>
<rect x="262" y="48" width="1" height="1" fill="#3535c0" opacity="0.75"/>
<rect x="278" y="35" width="1" height="1" fill="#2525b0" opacity="0.95"/>
<rect x="279" y="37" width="1" height="1" fill="#2525b0" opacity="0.95"/>
<rect x="260" y="37" width="1" height="1" fill="#1a1a98"/>
<rect x="272" y="51" width="1" height="1" fill="#5050d0" opacity="0.5"/>
<rect x="269" y="32" width="1" height="1" fill="#2525b0" opacity="0.95"/>
<rect x="254" y="48" width="1" height="1" fill="#2525b0" opacity="0.95"/>
<rect x="251" y="36" width="1" height="1" fill="#3535c0" opacity="0.75"/>
<rect x="271" y="47" width="1" height="1" fill="#2525b0" opacity="0.95"/>
<rect x="276" y="30" width="1" height="1" fill="#5050d0" opacity="0.5"/>
<rect x="273" y="34" width="1" height="1" fill="#5050d0" opacity="0.5"/>
<rect x="273" y="48" width="1" height="1" fill="#5050d0" opacity="0.5"/>
<rect x="283" y="35" width="1" height="1" fill="#5050d0" opacity="0.5"/>
<rect x="245" y="36" width="1" height="1" fill="#3535c0" opacity="0.75"/>
<rect x="279" y="35" width="1" height="1" fill="#5050d0" opacity="0.5"/>
<rect x="257" y="47" width="1" height="1" fill="#3535c0" opacity="0.75"/>
<rect x="267" y="51" width="1" height="1" fill="#3535c0" opacity="0.75"/>
<rect x="271" y="36" width="1" height="1" fill="#5050d0" opacity="0.5"/>
<rect x="275" y="46" width="1" height="1" fill="#5050d0" opacity="0.5"/>
<rect x="282" y="41" width="1" height="1" fill="#5050d0" opacity="0.5"/>
<rect x="277" y="35" width="1" height="1" fill="#3535c0" opacity="0.75"/>
<rect x="257" y="44" width="1" height="1" fill="#5050d0" opacity="0.5"/>
<rect x="256" y="42" width="1" height="1" fill="#2525b0" opacity="0.95"/>
<rect x="274" y="44" width="1" height="1" fill="#2525b0" opacity="0.95"/>
<rect x="276" y="33" width="1" height="1" fill="#5050d0" opacity="0.5"/>
<rect x="271" y="48" width="1" height="1" fill="#5050d0" opacity="0.5"/>
<rect x="283" y="41" width="1" height="1" fill="#5050d0" opacity="0.5"/>
<rect x="255" y="55" width="1" height="1" fill="#3535c0" opacity="0.75"/>
<rect x="248" y="43" width="1" height="1" fill="#5050d0" opacity="0.5"/>
<rect x="270" y="47" width="1" height="1" fill="#3535c0" opacity="0.75"/>
<rect x="251" y="45" width="1" height="1" fill="#2525b0" opacity="0.95"/>
<rect x="271" y="28" width="1" height="1" fill="#5050d0" opacity="0.5"/>
<rect x="268" y="50" width="1" height="1" fill="#3535c0" opacity="0.75"/>
<rect x="277" y="45" width="1" height="1" fill="#2525b0" opacity="0.95"/>
<rect x="275" y="34" width="1" height="1" fill="#5050d0" opacity="0.5"/>
<rect x="267" y="52" width="1" height="1" fill="#5050d0" opacity="0.5"/>
<rect x="247" y="45" width="1" height="1" fill="#5050d0" opacity="0.5"/>
<rect x="254" y="44" width="1" height="1" fill="#5050d0" opacity="0.5"/>
<rect x="261" y="49" width="1" height="1" fill="#5050d0" opacity="0.5"/>
<rect x="274" y="49" width="1" height="1" fill="#5050d0" opacity="0.5"/>
<rect x="273" y="49" width="1" height="1" fill="#3535c0" opacity="0.75"/>
<rect x="281" y="45" width="1" height="1" fill="#5050d0" opacity="0.5"/>
<rect x="261" y="53" width="1" height="1" fill="#5050d0" opacity="0.5"/>
<rect x="259" y="31" width="1" height="1" fill="#5050d0" opacity="0.5"/>
<rect x="282" y="43" width="1" height="1" fill="#5050d0" opacity="0.5"/>
<rect x="247" y="41" width="1" height="1" fill="#3535c0" opacity="0.75"/>
<rect x="270" y="32" width="1" height="1" fill="#3535c0" opacity="0.75"/>
<rect x="274" y="34" width="1" height="1" fill="#5050d0" opacity="0.5"/>
<rect x="256" y="33" width="1" height="1" fill="#5050d0" opacity="0.5"/>
<rect x="254" y="37" width="1" height="1" fill="#3535c0" opacity="0.75"/>
<rect x="252" y="36" width="1" height="1" fill="#5050d0" opacity="0.5"/>
<rect x="268" y="33" width="1" height="1" fill="#3535c0" opacity="0.75"/>
<rect x="284" y="42" width="1" height="1" fill="#3535c0" opacity="0.75"/>
<rect x="273" y="41" width="1" height="1" fill="#1a1a98"/>
<rect x="287" y="35" width="1" height="1" fill="#5050d0" opacity="0.5"/>
<rect x="277" y="46" width="1" height="1" fill="#5050d0" opacity="0.5"/>
<rect x="270" y="33" width="1" height="1" fill="#3535c0" opacity="0.75"/>
<rect x="256" y="50" width="1" height="1" fill="#5050d0" opacity="0.5"/>
<rect x="248" y="35" width="1" height="1" fill="#5050d0" opacity="0.5"/>
<rect x="257" y="31" width="1" height="1" fill="#5050d0" opacity="0.5"/>
<rect x="260" y="30" width="1" height="1" fill="#5050d0" opacity="0.5"/>
<rect x="261" y="51" width="1" height="1" fill="#2525b0" opacity="0.95"/>
<rect x="275" y="36" width="1" height="1" fill="#3535c0" opacity="0.75"/>
<rect x="253" y="50" width="1" height="1" fill="#3535c0" opacity="0.75"/>
<rect x="246" y="44" width="1" height="1" fill="#5050d0" opacity="0.5"/>
<rect x="280" y="42" width="1" height="1" fill="#3535c0" opacity="0.75"/>
<rect x="252" y="39" width="1" height="1" fill="#5050d0" opacity="0.5"/>
<rect x="258" y="31" width="1" height="1" fill="#5050d0" opacity="0.5"/>
<rect x="254" y="46" width="1" height="1" fill="#5050d0" opacity="0.5"/>
<rect x="251" y="41" width="1" height="1" fill="#2525b0" opacity="0.95"/>
<rect x="260" y="54" width="1" height="1" fill="#3535c0" opacity="0.75"/>
<rect x="280" y="37" width="1" height="1" fill="#2525b0" opacity="0.95"/>
<rect x="285" y="39" width="1" height="1" fill="#3535c0" opacity="0.75"/>
<rect x="263" y="31" width="1" height="1" fill="#5050d0" opacity="0.5"/>
<rect x="277" y="33" width="1" height="1" fill="#5050d0" opacity="0.5"/>
<rect x="273" y="44" width="1" height="1" fill="#5050d0" opacity="0.5"/>
<rect x="261" y="46" width="1" height="1" fill="#2525b0" opacity="0.95"/>
<rect x="255" y="39" width="1" height="1" fill="#5050d0" opacity="0.5"/>
<rect x="257" y="32" width="1" height="1" fill="#5050d0" opacity="0.5"/>
<rect x="247" y="34" width="1" height="1" fill="#5050d0" opacity="0.5"/>
<rect x="275" y="38" width="1" height="1" fill="#2525b0" opacity="0.95"/>
<rect x="283" y="43" width="1" height="1" fill="#5050d0" opacity="0.5"/>
<rect x="248" y="49" width="1" height="1" fill="#5050d0" opacity="0.5"/>
<rect x="267" y="33" width="1" height="1" fill="#5050d0" opacity="0.5"/>
<rect x="253" y="48" width="1" height="1" fill="#5050d0" opacity="0.5"/>
<rect x="250" y="40" width="1" height="1" fill="#5050d0" opacity="0.5"/>
<rect x="274" y="46" width="1" height="1" fill="#3535c0" opacity="0.75"/>
<rect x="275" y="45" width="1" height="1" fill="#5050d0" opacity="0.5"/>
<rect x="283" y="53" width="1" height="1" fill="#5050d0" opacity="0.5"/>
<rect x="254" y="42" width="1" height="1" fill="#5050d0" opacity="0.5"/>
<rect x="267" y="47" width="1" height="1" fill="#5050d0" opacity="0.5"/>
<rect x="252" y="41" width="1" height="1" fill="#5050d0" opacity="0.5"/>
<rect x="267" y="50" width="1" height="1" fill="#3535c0" opacity="0.75"/>
<rect x="274" y="36" width="1" height="1" fill="#2525b0" opacity="0.95"/>
<rect x="248" y="40" width="1" height="1" fill="#5050d0" opacity="0.5"/>
<rect x="251" y="39" width="1" height="1" fill="#5050d0" opacity="0.5"/>
<rect x="283" y="48" width="1" height="1" fill="#5050d0" opacity="0.5"/>
<rect x="276" y="38" width="1" height="1" fill="#5050d0" opacity="0.5"/>
<rect x="264" y="29" width="1" height="1" fill="#5050d0" opacity="0.5"/>
<rect x="273" y="35" width="1" height="1" fill="#5050d0" opacity="0.5"/>
<rect x="283" y="46" width="1" height="1" fill="#5050d0" opacity="0.5"/>
<rect x="275" y="44" width="1" height="1" fill="#2525b0" opacity="0.95"/>
<rect x="275" y="33" width="1" height="1" fill="#5050d0" opacity="0.5"/>
<rect x="275" y="28" width="1" height="1" fill="#5050d0" opacity="0.5"/>
<rect x="283" y="38" width="1" height="1" fill="#5050d0" opacity="0.5"/>
<rect x="255" y="46" width="1" height="1" fill="#2525b0" opacity="0.95"/>
<rect x="275" y="47" width="1" height="1" fill="#5050d0" opacity="0.5"/>
<rect x="262" y="50" width="1" height="1" fill="#5050d0" opacity="0.5"/>
<rect x="280" y="46" width="1" height="1" fill="#5050d0" opacity="0.5"/>
<rect x="279" y="40" width="1" height="1" fill="#5050d0" opacity="0.5"/>
<rect x="258" y="33" width="1" height="1" fill="#3535c0" opacity="0.75"/>
<rect x="246" y="36" width="1" height="1" fill="#5050d0" opacity="0.5"/>
<rect x="255" y="33" width="1" height="1" fill="#5050d0" opacity="0.5"/>
<rect x="274" y="31" width="1" height="1" fill="#5050d0" opacity="0.5"/>
<rect x="275" y="30" width="1" height="1" fill="#3535c0" opacity="0.75"/>
<rect x="286" y="38" width="1" height="1" fill="#3535c0" opacity="0.75"/>
<rect x="264" y="49" width="1" height="1" fill="#5050d0" opacity="0.5"/>
<rect x="262" y="31" width="1" height="1" fill="#5050d0" opacity="0.5"/>
<rect x="274" y="30" width="1" height="1" fill="#3535c0" opacity="0.75"/>
<rect x="256" y="32" width="1" height="1" fill="#5050d0" opacity="0.5"/>
<rect x="235" y="35" width="1" height="1" fill="#5050d0" opacity="0.5"/>
<rect x="239" y="38" width="1" height="1" fill="#5050d0" opacity="0.5"/>
<rect x="237" y="42" width="1" height="1" fill="#5050d0" opacity="0.5"/>
<rect x="284" y="49" width="1" height="1" fill="#5050d0" opacity="0.5"/>
<rect x="249" y="62" width="1" height="1" fill="#5050d0" opacity="0.5"/>
<rect x="237" y="40" width="1" height="1" fill="#5050d0" opacity="0.5"/>
<rect x="236" y="55" width="1" height="1" fill="#5050d0" opacity="0.5"/>
<rect x="237" y="50" width="1" height="1" fill="#5050d0" opacity="0.5"/>
<rect x="295" y="42" width="1" height="1" fill="#3535c0" opacity="0.75"/>
<rect x="277" y="49" width="1" height="1" fill="#3535c0" opacity="0.75"/>
<rect x="290" y="29" width="1" height="1" fill="#5050d0" opacity="0.5"/>
<rect x="270" y="34" width="1" height="1" fill="#5050d0" opacity="0.5"/>
<rect x="242" y="49" width="1" height="1" fill="#5050d0" opacity="0.5"/>
<rect x="268" y="31" width="1" height="1" fill="#5050d0" opacity="0.5"/>
<rect x="244" y="55" width="1" height="1" fill="#5050d0" opacity="0.5"/>
<rect x="276" y="49" width="1" height="1" fill="#3535c0" opacity="0.75"/>
<rect x="209" y="48" width="1" height="1" fill="#5050d0" opacity="0.5"/>
<rect x="300" y="49" width="1" height="1" fill="#5050d0" opacity="0.5"/>
<rect x="247" y="42" width="1" height="1" fill="#5050d0" opacity="0.5"/>
<rect x="227" y="34" width="1" height="1" fill="#5050d0" opacity="0.5"/>
<rect x="310" y="40" width="1" height="1" fill="#5050d0" opacity="0.5"/>
<rect x="211" y="48" width="1" height="1" fill="#3535c0" opacity="0.75"/>
<rect x="226" y="40" width="1" height="1" fill="#5050d0" opacity="0.5"/>
<rect x="245" y="43" width="1" height="1" fill="#2525b0" opacity="0.95"/>
<rect x="262" y="52" width="1" height="1" fill="#5050d0" opacity="0.5"/>
<rect x="280" y="30" width="1" height="1" fill="#3535c0" opacity="0.75"/>
<rect x="275" y="53" width="1" height="1" fill="#5050d0" opacity="0.5"/>
<rect x="252" y="49" width="1" height="1" fill="#3535c0" opacity="0.75"/>
<rect x="258" y="55" width="1" height="1" fill="#5050d0" opacity="0.5"/>
<rect x="267" y="55" width="1" height="1" fill="#5050d0" opacity="0.5"/>
<rect x="241" y="44" width="1" height="1" fill="#3535c0" opacity="0.75"/>
<rect x="245" y="53" width="1" height="1" fill="#5050d0" opacity="0.5"/>
<rect x="273" y="29" width="1" height="1" fill="#5050d0" opacity="0.5"/>
<rect x="267" y="29" width="1" height="1" fill="#5050d0" opacity="0.5"/>
<rect x="257" y="49" width="1" height="1" fill="#2525b0" opacity="0.95"/>
<rect x="230" y="31" width="1" height="1" fill="#5050d0" opacity="0.5"/>
<rect x="284" y="47" width="1" height="1" fill="#5050d0" opacity="0.5"/>
<rect x="244" y="33" width="1" height="1" fill="#5050d0" opacity="0.5"/>
<rect x="252" y="37" width="1" height="1" fill="#3535c0" opacity="0.75"/>
<rect x="260" y="53" width="1" height="1" fill="#5050d0" opacity="0.5"/>
<rect x="251" y="48" width="1" height="1" fill="#5050d0" opacity="0.5"/>
<rect x="233" y="38" width="1" height="1" fill="#5050d0" opacity="0.5"/>
<rect x="282" y="36" width="1" height="1" fill="#5050d0" opacity="0.5"/>
<rect x="252" y="46" width="1" height="1" fill="#3535c0" opacity="0.75"/>
<rect x="220" y="47" width="1" height="1" fill="#5050d0" opacity="0.5"/>
<rect x="250" y="57" width="1" height="1" fill="#5050d0" opacity="0.5"/>
<rect x="279" y="45" width="1" height="1" fill="#3535c0" opacity="0.75"/>
<rect x="283" y="40" width="1" height="1" fill="#5050d0" opacity="0.5"/>
<rect x="241" y="47" width="1" height="1" fill="#2525b0" opacity="0.95"/>
<rect x="263" y="55" width="1" height="1" fill="#5050d0" opacity="0.5"/>
<rect x="233" y="57" width="1" height="1" fill="#5050d0" opacity="0.5"/>
<rect x="284" y="66" width="1" height="1" fill="#5050d0" opacity="0.5"/>
<rect x="233" y="52" width="1" height="1" fill="#5050d0" opacity="0.5"/>
<rect x="240" y="38" width="1" height="1" fill="#5050d0" opacity="0.5"/>
<rect x="285" y="50" width="1" height="1" fill="#5050d0" opacity="0.5"/>
<rect x="254" y="55" width="1" height="1" fill="#5050d0" opacity="0.5"/>
<rect x="269" y="49" width="1" height="1" fill="#5050d0" opacity="0.5"/>
<rect x="239" y="52" width="1" height="1" fill="#5050d0" opacity="0.5"/>
<rect x="285" y="46" width="1" height="1" fill="#3535c0" opacity="0.75"/>
<rect x="290" y="32" width="1" height="1" fill="#5050d0" opacity="0.5"/>
<rect x="243" y="33" width="1" height="1" fill="#5050d0" opacity="0.5"/>
<rect x="251" y="44" width="1" height="1" fill="#3535c0" opacity="0.75"/>
<rect x="237" y="30" width="1" height="1" fill="#5050d0" opacity="0.5"/>
<rect x="237" y="49" width="1" height="1" fill="#5050d0" opacity="0.5"/>
<rect x="235" y="42" width="1" height="1" fill="#5050d0" opacity="0.5"/>
<rect x="265" y="53" width="1" height="1" fill="#2525b0" opacity="0.95"/>
<rect x="243" y="51" width="1" height="1" fill="#3535c0" opacity="0.75"/>
<rect x="268" y="29" width="1" height="1" fill="#5050d0" opacity="0.5"/>
<rect x="276" y="61" width="1" height="1" fill="#5050d0" opacity="0.5"/>
<rect x="258" y="48" width="1" height="1" fill="#5050d0" opacity="0.5"/>
<rect x="244" y="48" width="1" height="1" fill="#5050d0" opacity="0.5"/>
<rect x="236" y="40" width="1" height="1" fill="#5050d0" opacity="0.5"/>
<rect x="294" y="42" width="1" height="1" fill="#5050d0" opacity="0.5"/>
<rect x="251" y="69" width="1" height="1" fill="#5050d0" opacity="0.5"/>
<rect x="230" y="35" width="1" height="1" fill="#5050d0" opacity="0.5"/>
<rect x="308" y="39" width="1" height="1" fill="#5050d0" opacity="0.5"/>
<rect x="306" y="43" width="1" height="1" fill="#5050d0" opacity="0.5"/>
<rect x="286" y="36" width="1" height="1" fill="#5050d0" opacity="0.5"/>
<rect x="252" y="51" width="1" height="1" fill="#3535c0" opacity="0.75"/>
<rect x="212" y="44" width="1" height="1" fill="#5050d0" opacity="0.5"/>
<rect x="293" y="58" width="1" height="1" fill="#5050d0" opacity="0.5"/>
<rect x="223" y="38" width="1" height="1" fill="#5050d0" opacity="0.5"/>
<rect x="283" y="50" width="1" height="1" fill="#5050d0" opacity="0.5"/>
<rect x="294" y="52" width="1" height="1" fill="#5050d0" opacity="0.5"/>
<rect x="268" y="56" width="1" height="1" fill="#5050d0" opacity="0.5"/>
<rect x="289" y="54" width="1" height="1" fill="#5050d0" opacity="0.5"/>
<rect x="251" y="51" width="1" height="1" fill="#5050d0" opacity="0.5"/>
<rect x="220" y="35" width="1" height="1" fill="#5050d0" opacity="0.5"/>
<rect x="234" y="56" width="1" height="1" fill="#3535c0" opacity="0.75"/>
<rect x="286" y="41" width="1" height="1" fill="#5050d0" opacity="0.5"/>
<rect x="245" y="45" width="1" height="1" fill="#5050d0" opacity="0.5"/>
<rect x="296" y="58" width="1" height="1" fill="#5050d0" opacity="0.5"/>
<rect x="247" y="43" width="1" height="1" fill="#5050d0" opacity="0.5"/>
<rect x="257" y="33" width="1" height="1" fill="#5050d0" opacity="0.5"/>
<rect x="232" y="60" width="1" height="1" fill="#5050d0" opacity="0.5"/>
<rect x="240" y="43" width="1" height="1" fill="#3535c0" opacity="0.75"/>
<rect x="289" y="53" width="1" height="1" fill="#5050d0" opacity="0.5"/>
<rect x="246" y="60" width="1" height="1" fill="#5050d0" opacity="0.5"/>
<rect x="306" y="45" width="1" height="1" fill="#5050d0" opacity="0.5"/>
<rect x="284" y="31" width="1" height="1" fill="#5050d0" opacity="0.5"/>
<rect x="244" y="38" width="1" height="1" fill="#5050d0" opacity="0.5"/>
<rect x="242" y="38" width="1" height="1" fill="#5050d0" opacity="0.5"/>
<rect x="284" y="40" width="1" height="1" fill="#5050d0" opacity="0.5"/>
<rect x="259" y="50" width="1" height="1" fill="#5050d0" opacity="0.5"/>
<rect x="262" y="56" width="1" height="1" fill="#5050d0" opacity="0.5"/>
<rect x="277" y="52" width="1" height="1" fill="#5050d0" opacity="0.5"/>
<rect x="270" y="57" width="1" height="1" fill="#3535c0" opacity="0.75"/>
<rect x="241" y="51" width="1" height="1" fill="#5050d0" opacity="0.5"/>
<rect x="240" y="55" width="1" height="1" fill="#5050d0" opacity="0.5"/>
<rect x="305" y="37" width="1" height="1" fill="#5050d0" opacity="0.5"/>
<rect x="241" y="50" width="1" height="1" fill="#5050d0" opacity="0.5"/>
<rect x="252" y="59" width="1" height="1" fill="#5050d0" opacity="0.5"/>
<rect x="286" y="48" width="1" height="1" fill="#5050d0" opacity="0.5"/>
<rect x="293" y="44" width="1" height="1" fill="#5050d0" opacity="0.5"/>
<rect x="222" y="32" width="1" height="1" fill="#5050d0" opacity="0.5"/>
<rect x="254" y="49" width="1" height="1" fill="#5050d0" opacity="0.5"/>
<rect x="281" y="58" width="1" height="1" fill="#5050d0" opacity="0.5"/>
<rect x="280" y="47" width="1" height="1" fill="#5050d0" opacity="0.5"/>
<rect x="267" y="53" width="1" height="1" fill="#5050d0" opacity="0.5"/>
<rect x="269" y="54" width="1" height="1" fill="#5050d0" opacity="0.5"/>
<rect x="288" y="45" width="1" height="1" fill="#3535c0" opacity="0.75"/>
<rect x="274" y="48" width="1" height="1" fill="#5050d0" opacity="0.5"/>
<rect x="288" y="35" width="1" height="1" fill="#5050d0" opacity="0.5"/>
<rect x="281" y="37" width="1" height="1" fill="#5050d0" opacity="0.5"/>
<rect x="278" y="50" width="1" height="1" fill="#5050d0" opacity="0.5"/>
<rect x="298" y="47" width="1" height="1" fill="#5050d0" opacity="0.5"/>
<rect x="255" y="51" width="1" height="1" fill="#3535c0" opacity="0.75"/>
<rect x="256" y="49" width="1" height="1" fill="#5050d0" opacity="0.5"/>
<rect x="250" y="47" width="1" height="1" fill="#3535c0" opacity="0.75"/>
<rect x="238" y="48" width="1" height="1" fill="#5050d0" opacity="0.5"/>
<rect x="294" y="50" width="1" height="1" fill="#5050d0" opacity="0.5"/>
<rect x="232" y="39" width="1" height="1" fill="#5050d0" opacity="0.5"/>
<rect x="284" y="56" width="1" height="1" fill="#3535c0" opacity="0.75"/>
<rect x="244" y="42" width="1" height="1" fill="#5050d0" opacity="0.5"/>
<rect x="250" y="55" width="1" height="1" fill="#5050d0" opacity="0.5"/>
<rect x="260" y="52" width="1" height="1" fill="#5050d0" opacity="0.5"/>
<rect x="296" y="50" width="1" height="1" fill="#5050d0" opacity="0.5"/>
<rect x="252" y="48" width="1" height="1" fill="#5050d0" opacity="0.5"/>
<rect x="285" y="28" width="1" height="1" fill="#5050d0" opacity="0.5"/>
<rect x="253" y="49" width="1" height="1" fill="#5050d0" opacity="0.5"/>
<rect x="274" y="51" width="1" height="1" fill="#5050d0" opacity="0.5"/>
<rect x="233" y="46" width="1" height="1" fill="#5050d0" opacity="0.5"/>
<rect x="238" y="36" width="1" height="1" fill="#5050d0" opacity="0.5"/>
<rect x="264" y="53" width="1" height="1" fill="#5050d0" opacity="0.5"/>
<rect x="278" y="48" width="1" height="1" fill="#2525b0" opacity="0.95"/>
<rect x="272" y="49" width="1" height="1" fill="#5050d0" opacity="0.5"/>
<rect x="278" y="31" width="1" height="1" fill="#5050d0" opacity="0.5"/>
<rect x="231" y="37" width="1" height="1" fill="#5050d0" opacity="0.5"/>
<rect x="246" y="51" width="1" height="1" fill="#5050d0" opacity="0.5"/>
<rect x="302" y="45" width="1" height="1" fill="#5050d0" opacity="0.5"/>
<rect x="238" y="39" width="1" height="1" fill="#5050d0" opacity="0.5"/>
<rect x="296" y="33" width="1" height="1" fill="#5050d0" opacity="0.5"/>
<rect x="219" y="43" width="1" height="1" fill="#5050d0" opacity="0.5"/>
<rect x="258" y="49" width="1" height="1" fill="#5050d0" opacity="0.5"/>
<rect x="243" y="53" width="1" height="1" fill="#5050d0" opacity="0.5"/>
<rect x="234" y="52" width="1" height="1" fill="#3535c0" opacity="0.75"/>
<rect x="238" y="37" width="1" height="1" fill="#5050d0" opacity="0.5"/>
<rect x="296" y="36" width="1" height="1" fill="#5050d0" opacity="0.5"/>
<rect x="254" y="52" width="1" height="1" fill="#5050d0" opacity="0.5"/>
<rect x="240" y="31" width="1" height="1" fill="#5050d0" opacity="0.5"/>
<rect x="259" y="47" width="1" height="1" fill="#5050d0" opacity="0.5"/>
<rect x="286" y="45" width="1" height="1" fill="#2525b0" opacity="0.95"/>
<rect x="238" y="46" width="1" height="1" fill="#5050d0" opacity="0.5"/>
<rect x="245" y="47" width="1" height="1" fill="#3535c0" opacity="0.75"/>
<rect x="293" y="28" width="1" height="1" fill="#5050d0" opacity="0.5"/>
<rect x="269" y="52" width="1" height="1" fill="#3535c0" opacity="0.75"/>
<rect x="264" y="32" width="1" height="1" fill="#3535c0" opacity="0.75"/>
<rect x="282" y="47" width="1" height="1" fill="#5050d0" opacity="0.5"/>
<rect x="306" y="38" width="1" height="1" fill="#5050d0" opacity="0.5"/>
<rect x="307" y="56" width="1" height="1" fill="#3535c0" opacity="0.75"/>
<rect x="271" y="54" width="1" height="1" fill="#5050d0" opacity="0.5"/>
<rect x="268" y="51" width="1" height="1" fill="#5050d0" opacity="0.5"/>
<rect x="242" y="48" width="1" height="1" fill="#5050d0" opacity="0.5"/>
<rect x="288" y="48" width="1" height="1" fill="#5050d0" opacity="0.5"/>
<rect x="244" y="49" width="1" height="1" fill="#3535c0" opacity="0.75"/>
<rect x="268" y="58" width="1" height="1" fill="#5050d0" opacity="0.5"/>
<rect x="286" y="52" width="1" height="1" fill="#5050d0" opacity="0.5"/>
<rect x="283" y="47" width="1" height="1" fill="#5050d0" opacity="0.5"/>
<rect x="295" y="54" width="1" height="1" fill="#5050d0" opacity="0.5"/>
<rect x="275" y="50" width="1" height="1" fill="#5050d0" opacity="0.5"/>
<rect x="289" y="47" width="1" height="1" fill="#5050d0" opacity="0.5"/>
<rect x="233" y="40" width="1" height="1" fill="#5050d0" opacity="0.5"/>
<rect x="213" y="51" width="1" height="1" fill="#5050d0" opacity="0.5"/>
<rect x="248" y="52" width="1" height="1" fill="#5050d0" opacity="0.5"/>
<rect x="221" y="35" width="1" height="1" fill="#5050d0" opacity="0.5"/>
<rect x="277" y="54" width="1" height="1" fill="#5050d0" opacity="0.5"/>
<rect x="271" y="51" width="1" height="1" fill="#5050d0" opacity="0.5"/>
<rect x="239" y="56" width="1" height="1" fill="#5050d0" opacity="0.5"/>
<rect x="238" y="57" width="1" height="1" fill="#5050d0" opacity="0.5"/>
<rect x="290" y="59" width="1" height="1" fill="#5050d0" opacity="0.5"/>
<rect x="252" y="54" width="1" height="1" fill="#5050d0" opacity="0.5"/>
<rect x="289" y="40" width="1" height="1" fill="#5050d0" opacity="0.5"/>
<rect x="260" y="56" width="1" height="1" fill="#5050d0" opacity="0.5"/>
<rect x="282" y="32" width="1" height="1" fill="#5050d0" opacity="0.5"/>
<rect x="246" y="40" width="1" height="1" fill="#5050d0" opacity="0.5"/>
<rect x="239" y="46" width="1" height="1" fill="#5050d0" opacity="0.5"/>
<rect x="230" y="54" width="1" height="1" fill="#5050d0" opacity="0.5"/>
<rect x="238" y="49" width="1" height="1" fill="#5050d0" opacity="0.5"/>
<rect x="231" y="51" width="1" height="1" fill="#5050d0" opacity="0.5"/>
<rect x="268" y="35" width="1" height="1" fill="#3535c0" opacity="0.75"/>
<rect x="313" y="44" width="1" height="1" fill="#5050d0" opacity="0.5"/>
<rect x="302" y="33" width="1" height="1" fill="#5050d0" opacity="0.5"/>
<rect x="259" y="29" width="1" height="1" fill="#5050d0" opacity="0.5"/>
<rect x="293" y="41" width="1" height="1" fill="#5050d0" opacity="0.5"/>
<rect x="244" y="52" width="1" height="1" fill="#5050d0" opacity="0.5"/>
<rect x="253" y="52" width="1" height="1" fill="#5050d0" opacity="0.5"/>
<rect x="297" y="42" width="1" height="1" fill="#3535c0" opacity="0.75"/>
<rect x="292" y="40" width="1" height="1" fill="#5050d0" opacity="0.5"/>
<rect x="279" y="51" width="1" height="1" fill="#5050d0" opacity="0.5"/>
<rect x="278" y="32" width="1" height="1" fill="#5050d0" opacity="0.5"/>
<rect x="287" y="55" width="1" height="1" fill="#5050d0" opacity="0.5"/>
<rect x="248" y="48" width="1" height="1" fill="#5050d0" opacity="0.5"/>
<rect x="218" y="48" width="1" height="1" fill="#5050d0" opacity="0.5"/>
<rect x="258" y="51" width="1" height="1" fill="#5050d0" opacity="0.5"/>
<rect x="283" y="49" width="1" height="1" fill="#5050d0" opacity="0.5"/>
<rect x="292" y="51" width="1" height="1" fill="#5050d0" opacity="0.5"/>
<rect x="237" y="47" width="1" height="1" fill="#5050d0" opacity="0.5"/>
<rect x="329" y="52" width="1" height="1" fill="#5050d0" opacity="0.5"/>
<rect x="296" y="47" width="1" height="1" fill="#5050d0" opacity="0.5"/>
<rect x="281" y="33" width="1" height="1" fill="#5050d0" opacity="0.5"/>
<rect x="281" y="70" width="1" height="1" fill="#5050d0" opacity="0.5"/>
<rect x="290" y="37" width="1" height="1" fill="#3535c0" opacity="0.75"/>
<rect x="267" y="56" width="1" height="1" fill="#5050d0" opacity="0.5"/>
<rect x="288" y="38" width="1" height="1" fill="#5050d0" opacity="0.5"/>
<rect x="298" y="35" width="1" height="1" fill="#5050d0" opacity="0.5"/>
<rect x="239" y="34" width="1" height="1" fill="#5050d0" opacity="0.5"/>
<rect x="255" y="53" width="1" height="1" fill="#5050d0" opacity="0.5"/>
<rect x="284" y="58" width="1" height="1" fill="#5050d0" opacity="0.5"/>
<rect x="241" y="49" width="1" height="1" fill="#5050d0" opacity="0.5"/>
<rect x="252" y="53" width="1" height="1" fill="#5050d0" opacity="0.5"/>
<rect x="295" y="32" width="1" height="1" fill="#5050d0" opacity="0.5"/>
<rect x="245" y="30" width="1" height="1" fill="#5050d0" opacity="0.5"/>
<rect x="251" y="29" width="1" height="1" fill="#5050d0" opacity="0.5"/>
<rect x="285" y="29" width="1" height="1" fill="#5050d0" opacity="0.5"/>
<rect x="245" y="41" width="1" height="1" fill="#5050d0" opacity="0.5"/>
<rect x="242" y="65" width="1" height="1" fill="#5050d0" opacity="0.5"/>
<rect x="309" y="58" width="1" height="1" fill="#5050d0" opacity="0.5"/>
<rect x="246" y="33" width="1" height="1" fill="#5050d0" opacity="0.5"/>
<rect x="269" y="48" width="1" height="1" fill="#3535c0" opacity="0.75"/>
<rect x="244" y="35" width="1" height="1" fill="#5050d0" opacity="0.5"/>
<rect x="298" y="38" width="1" height="1" fill="#5050d0" opacity="0.5"/>
<rect x="233" y="35" width="1" height="1" fill="#5050d0" opacity="0.5"/>
<rect x="248" y="64" width="1" height="1" fill="#5050d0" opacity="0.5"/>
<rect x="247" y="33" width="1" height="1" fill="#5050d0" opacity="0.5"/>
<rect x="246" y="45" width="1" height="1" fill="#5050d0" opacity="0.5"/>
<rect x="285" y="42" width="1" height="1" fill="#5050d0" opacity="0.5"/>
<rect x="245" y="46" width="1" height="1" fill="#5050d0" opacity="0.5"/>
<rect x="261" y="52" width="1" height="1" fill="#5050d0" opacity="0.5"/>
<rect x="276" y="37" width="1" height="1" fill="#5050d0" opacity="0.5"/>
<rect x="282" y="34" width="1" height="1" fill="#5050d0" opacity="0.5"/>
<rect x="263" y="33" width="1" height="1" fill="#5050d0" opacity="0.5"/>
<rect x="241" y="35" width="1" height="1" fill="#5050d0" opacity="0.5"/>
<rect x="264" y="55" width="1" height="1" fill="#5050d0" opacity="0.5"/>
<rect x="243" y="54" width="1" height="1" fill="#5050d0" opacity="0.5"/>
<rect x="279" y="28" width="1" height="1" fill="#5050d0" opacity="0.5"/>
<rect x="276" y="47" width="1" height="1" fill="#5050d0" opacity="0.5"/>
<rect x="234" y="34" width="1" height="1" fill="#5050d0" opacity="0.5"/>
<rect x="242" y="44" width="1" height="1" fill="#5050d0" opacity="0.5"/>
<rect x="242" y="34" width="1" height="1" fill="#5050d0" opacity="0.5"/>
<rect x="263" y="51" width="1" height="1" fill="#5050d0" opacity="0.5"/>
<rect x="232" y="32" width="1" height="1" fill="#5050d0" opacity="0.5"/>
<rect x="281" y="49" width="1" height="1" fill="#5050d0" opacity="0.5"/>
<rect x="271" y="52" width="1" height="1" fill="#5050d0" opacity="0.5"/>
<rect x="294" y="53" width="1" height="1" fill="#5050d0" opacity="0.5"/>
<rect x="290" y="41" width="1" height="1" fill="#5050d0" opacity="0.5"/>
<rect x="307" y="47" width="1" height="1" fill="#5050d0" opacity="0.5"/>
<rect x="284" y="45" width="1" height="1" fill="#5050d0" opacity="0.5"/>
<rect x="220" y="33" width="1" height="1" fill="#5050d0" opacity="0.5"/>
<rect x="239" y="41" width="1" height="1" fill="#5050d0" opacity="0.5"/>
<rect x="289" y="45" width="1" height="1" fill="#5050d0" opacity="0.5"/>
<rect x="281" y="29" width="1" height="1" fill="#5050d0" opacity="0.5"/>
<rect x="296" y="39" width="1" height="1" fill="#5050d0" opacity="0.5"/>
<rect x="251" y="43" width="1" height="1" fill="#3535c0" opacity="0.75"/>
<rect x="285" y="53" width="1" height="1" fill="#5050d0" opacity="0.5"/>
<rect x="259" y="56" width="1" height="1" fill="#5050d0" opacity="0.5"/>
<rect x="258" y="30" width="1" height="1" fill="#5050d0" opacity="0.5"/>
<rect x="286" y="54" width="1" height="1" fill="#5050d0" opacity="0.5"/>
<rect x="247" y="51" width="1" height="1" fill="#3535c0" opacity="0.75"/>
<rect x="268" y="60" width="1" height="1" fill="#5050d0" opacity="0.5"/>
<rect x="265" y="51" width="1" height="1" fill="#3535c0" opacity="0.75"/>
<rect x="234" y="46" width="1" height="1" fill="#5050d0" opacity="0.5"/>
<rect x="246" y="56" width="1" height="1" fill="#5050d0" opacity="0.5"/>
<rect x="251" y="38" width="1" height="1" fill="#5050d0" opacity="0.5"/>
<rect x="265" y="52" width="1" height="1" fill="#5050d0" opacity="0.5"/>
<rect x="247" y="46" width="1" height="1" fill="#5050d0" opacity="0.5"/>
<rect x="303" y="46" width="1" height="1" fill="#5050d0" opacity="0.5"/>
<rect x="228" y="51" width="1" height="1" fill="#5050d0" opacity="0.5"/>
<rect x="249" y="45" width="1" height="1" fill="#5050d0" opacity="0.5"/>
<rect x="246" y="39" width="1" height="1" fill="#5050d0" opacity="0.5"/>
<rect x="253" y="35" width="1" height="1" fill="#5050d0" opacity="0.5"/>
<rect x="219" y="49" width="1" height="1" fill="#5050d0" opacity="0.5"/>
<rect x="292" y="46" width="1" height="1" fill="#5050d0" opacity="0.5"/>
<rect x="239" y="33" width="1" height="1" fill="#5050d0" opacity="0.5"/>
<rect x="205" y="44" width="1" height="1" fill="#5050d0" opacity="0.5"/>
<rect x="255" y="48" width="1" height="1" fill="#5050d0" opacity="0.5"/>
<rect x="297" y="53" width="1" height="1" fill="#5050d0" opacity="0.5"/>
<rect x="267" y="54" width="1" height="1" fill="#3535c0" opacity="0.75"/>
<rect x="266" y="59" width="1" height="1" fill="#5050d0" opacity="0.5"/>
<rect x="256" y="53" width="1" height="1" fill="#5050d0" opacity="0.5"/>
<rect x="226" y="36" width="1" height="1" fill="#5050d0" opacity="0.5"/>
<rect x="275" y="51" width="1" height="1" fill="#5050d0" opacity="0.5"/>
<rect x="291" y="53" width="1" height="1" fill="#5050d0" opacity="0.5"/>
<rect x="266" y="50" width="1" height="1" fill="#5050d0" opacity="0.5"/>
<rect x="234" y="36" width="1" height="1" fill="#5050d0" opacity="0.5"/>
<rect x="322" y="69" width="1" height="1" fill="#5050d0" opacity="0.5"/>
<rect x="256" y="64" width="1" height="1" fill="#5050d0" opacity="0.5"/>
<rect x="237" y="75" width="1" height="1" fill="#5050d0" opacity="0.5"/>
<rect x="280" y="56" width="1" height="1" fill="#5050d0" opacity="0.5"/>
<rect x="216" y="67" width="1" height="1" fill="#5050d0" opacity="0.5"/>
<rect x="306" y="74" width="1" height="1" fill="#5050d0" opacity="0.5"/>
<rect x="281" y="76" width="1" height="1" fill="#5050d0" opacity="0.5"/>
<rect x="247" y="49" width="1" height="1" fill="#5050d0" opacity="0.5"/>
<rect x="255" y="61" width="1" height="1" fill="#5050d0" opacity="0.5"/>
<rect x="281" y="59" width="1" height="1" fill="#5050d0" opacity="0.5"/>
<rect x="249" y="29" width="1" height="1" fill="#5050d0" opacity="0.5"/>
<rect x="265" y="56" width="1" height="1" fill="#5050d0" opacity="0.5"/>
<rect x="222" y="51" width="1" height="1" fill="#5050d0" opacity="0.5"/>
<rect x="252" y="85" width="1" height="1" fill="#5050d0" opacity="0.5"/>
<rect x="323" y="49" width="1" height="1" fill="#5050d0" opacity="0.5"/>
<rect x="270" y="59" width="1" height="1" fill="#5050d0" opacity="0.5"/>
<rect x="263" y="87" width="1" height="1" fill="#5050d0" opacity="0.5"/>
<rect x="269" y="66" width="1" height="1" fill="#5050d0" opacity="0.5"/>
<rect x="234" y="77" width="1" height="1" fill="#5050d0" opacity="0.5"/>
<rect x="236" y="78" width="1" height="1" fill="#5050d0" opacity="0.5"/>
<rect x="267" y="71" width="1" height="1" fill="#5050d0" opacity="0.5"/>
<rect x="269" y="73" width="1" height="1" fill="#5050d0" opacity="0.5"/>
<rect x="275" y="84" width="1" height="1" fill="#5050d0" opacity="0.5"/>
<rect x="247" y="57" width="1" height="1" fill="#5050d0" opacity="0.5"/>
<rect x="260" y="60" width="1" height="1" fill="#5050d0" opacity="0.5"/>
<rect x="289" y="61" width="1" height="1" fill="#5050d0" opacity="0.5"/>
<rect x="287" y="42" width="1" height="1" fill="#5050d0" opacity="0.5"/>
<rect x="269" y="65" width="1" height="1" fill="#5050d0" opacity="0.5"/>
<rect x="302" y="41" width="1" height="1" fill="#5050d0" opacity="0.5"/>
<rect x="277" y="64" width="1" height="1" fill="#5050d0" opacity="0.5"/>
<rect x="296" y="64" width="1" height="1" fill="#5050d0" opacity="0.5"/>
<rect x="241" y="72" width="1" height="1" fill="#5050d0" opacity="0.5"/>
<rect x="272" y="73" width="1" height="1" fill="#5050d0" opacity="0.5"/>
<rect x="279" y="69" width="1" height="1" fill="#5050d0" opacity="0.5"/>
<rect x="263" y="85" width="1" height="1" fill="#5050d0" opacity="0.5"/>
<rect x="299" y="29" width="1" height="1" fill="#5050d0" opacity="0.5"/>
<rect x="279" y="60" width="1" height="1" fill="#5050d0" opacity="0.5"/>
<rect x="259" y="60" width="1" height="1" fill="#5050d0" opacity="0.5"/>
<rect x="296" y="51" width="1" height="1" fill="#5050d0" opacity="0.5"/>
<rect x="280" y="55" width="1" height="1" fill="#5050d0" opacity="0.5"/>
<rect x="213" y="49" width="1" height="1" fill="#5050d0" opacity="0.5"/>
<rect x="272" y="96" width="1" height="1" fill="#5050d0" opacity="0.5"/>
<rect x="265" y="95" width="1" height="1" fill="#5050d0" opacity="0.5"/>
<rect x="270" y="73" width="1" height="1" fill="#5050d0" opacity="0.5"/>
<rect x="247" y="61" width="1" height="1" fill="#5050d0" opacity="0.5"/>
<rect x="291" y="52" width="1" height="1" fill="#5050d0" opacity="0.5"/>
<rect x="228" y="66" width="1" height="1" fill="#5050d0" opacity="0.5"/>
<rect x="325" y="59" width="1" height="1" fill="#5050d0" opacity="0.5"/>
<rect x="249" y="73" width="1" height="1" fill="#5050d0" opacity="0.5"/>
<rect x="276" y="59" width="1" height="1" fill="#5050d0" opacity="0.5"/>
<rect x="215" y="78" width="1" height="1" fill="#5050d0" opacity="0.5"/>
<rect x="229" y="31" width="1" height="1" fill="#5050d0" opacity="0.5"/>
<rect x="285" y="41" width="1" height="1" fill="#5050d0" opacity="0.5"/>
<rect x="217" y="67" width="1" height="1" fill="#5050d0" opacity="0.5"/>
<rect x="205" y="75" width="1" height="1" fill="#5050d0" opacity="0.5"/>
<rect x="321" y="58" width="1" height="1" fill="#5050d0" opacity="0.5"/>
<rect x="258" y="73" width="1" height="1" fill="#5050d0" opacity="0.5"/>
<rect x="307" y="42" width="1" height="1" fill="#5050d0" opacity="0.5"/>
<rect x="254" y="31" width="1" height="1" fill="#5050d0" opacity="0.5"/>
<rect x="299" y="83" width="1" height="1" fill="#5050d0" opacity="0.5"/>
<rect x="244" y="75" width="1" height="1" fill="#5050d0" opacity="0.5"/>
<rect x="246" y="70" width="1" height="1" fill="#5050d0" opacity="0.5"/>
<rect x="265" y="76" width="1" height="1" fill="#5050d0" opacity="0.5"/>
<rect x="238" y="31" width="1" height="1" fill="#5050d0" opacity="0.5"/>
<rect x="252" y="72" width="1" height="1" fill="#5050d0" opacity="0.5"/>
<rect x="248" y="70" width="1" height="1" fill="#5050d0" opacity="0.5"/>
<rect x="259" y="62" width="1" height="1" fill="#5050d0" opacity="0.5"/>
<rect x="299" y="52" width="1" height="1" fill="#5050d0" opacity="0.5"/>
<rect x="300" y="42" width="1" height="1" fill="#5050d0" opacity="0.5"/>
<rect x="322" y="88" width="1" height="1" fill="#5050d0" opacity="0.5"/>
<rect x="239" y="78" width="1" height="1" fill="#5050d0" opacity="0.5"/>
<rect x="258" y="62" width="1" height="1" fill="#5050d0" opacity="0.5"/>
<rect x="251" y="64" width="1" height="1" fill="#5050d0" opacity="0.5"/>
<rect x="247" y="89" width="1" height="1" fill="#5050d0" opacity="0.5"/>
<rect x="288" y="33" width="1" height="1" fill="#5050d0" opacity="0.5"/>
<rect x="259" y="53" width="1" height="1" fill="#5050d0" opacity="0.5"/>
<rect x="306" y="73" width="1" height="1" fill="#5050d0" opacity="0.5"/>
<rect x="259" y="69" width="1" height="1" fill="#5050d0" opacity="0.5"/>
<rect x="302" y="70" width="1" height="1" fill="#5050d0" opacity="0.5"/>
<rect x="281" y="44" width="1" height="1" fill="#5050d0" opacity="0.5"/>
<rect x="329" y="64" width="1" height="1" fill="#5050d0" opacity="0.5"/>
<rect x="309" y="35" width="1" height="1" fill="#5050d0" opacity="0.5"/>
<rect x="312" y="55" width="1" height="1" fill="#5050d0" opacity="0.5"/>
<rect x="315" y="68" width="1" height="1" fill="#5050d0" opacity="0.5"/>
<rect x="248" y="92" width="1" height="1" fill="#5050d0" opacity="0.5"/>
<rect x="241" y="61" width="1" height="1" fill="#5050d0" opacity="0.5"/>
<rect x="292" y="63" width="1" height="1" fill="#5050d0" opacity="0.5"/>
<rect x="290" y="45" width="1" height="1" fill="#5050d0" opacity="0.5"/>
<rect x="211" y="35" width="1" height="1" fill="#5050d0" opacity="0.5"/>
<rect x="249" y="81" width="1" height="1" fill="#5050d0" opacity="0.5"/>
</g>
<path d="M206.3,209.6 A59.3,59.3 0 0 1 324.90000000000003,209.6" fill="none" stroke="#707070" stroke-width="0.9"/>
<g filter="url(#blur03)">
<rect x="263" y="158" width="1" height="1" fill="#5050d0" opacity="0.5"/>
<rect x="259" y="153" width="1" height="1" fill="#2525b0" opacity="0.95"/>
<rect x="260" y="150" width="1" height="1" fill="#2525b0" opacity="0.95"/>
<rect x="249" y="146" width="1" height="1" fill="#5050d0" opacity="0.5"/>
<rect x="272" y="153" width="1" height="1" fill="#5050d0" opacity="0.5"/>
<rect x="268" y="153" width="1" height="1" fill="#5050d0" opacity="0.5"/>
<rect x="266" y="146" width="1" height="1" fill="#5050d0" opacity="0.5"/>
<rect x="264" y="154" width="1" height="1" fill="#5050d0" opacity="0.5"/>
<rect x="259" y="150" width="1" height="1" fill="#1a1a98"/>
<rect x="267" y="150" width="1" height="1" fill="#3535c0" opacity="0.75"/>
<rect x="260" y="159" width="1" height="1" fill="#5050d0" opacity="0.5"/>
<rect x="260" y="157" width="1" height="1" fill="#5050d0" opacity="0.5"/>
<rect x="258" y="154" width="1" height="1" fill="#5050d0" opacity="0.5"/>
<rect x="265" y="150" width="1" height="1" fill="#2525b0" opacity="0.95"/>
<rect x="261" y="153" width="1" height="1" fill="#1a1a98"/>
<rect x="265" y="145" width="1" height="1" fill="#5050d0" opacity="0.5"/>
<rect x="259" y="152" width="1" height="1" fill="#2525b0" opacity="0.95"/>
<rect x="263" y="149" width="1" height="1" fill="#2525b0" opacity="0.95"/>
<rect x="257" y="148" width="1" height="1" fill="#1a1a98"/>
<rect x="267" y="147" width="1" height="1" fill="#5050d0" opacity="0.5"/>
<rect x="263" y="153" width="1" height="1" fill="#2525b0" opacity="0.95"/>
<rect x="264" y="152" width="1" height="1" fill="#1a1a98"/>
<rect x="256" y="154" width="1" height="1" fill="#3535c0" opacity="0.75"/>
<rect x="266" y="149" width="1" height="1" fill="#2525b0" opacity="0.95"/>
<rect x="273" y="148" width="1" height="1" fill="#5050d0" opacity="0.5"/>
<rect x="253" y="146" width="1" height="1" fill="#5050d0" opacity="0.5"/>
<rect x="252" y="150" width="1" height="1" fill="#5050d0" opacity="0.5"/>
<rect x="254" y="153" width="1" height="1" fill="#2525b0" opacity="0.95"/>
<rect x="267" y="151" width="1" height="1" fill="#2525b0" opacity="0.95"/>
<rect x="268" y="148" width="1" height="1" fill="#5050d0" opacity="0.5"/>
<rect x="266" y="150" width="1" height="1" fill="#2525b0" opacity="0.95"/>
<rect x="264" y="148" width="1" height="1" fill="#5050d0" opacity="0.5"/>
<rect x="261" y="157" width="1" height="1" fill="#5050d0" opacity="0.5"/>
<rect x="267" y="154" width="1" height="1" fill="#5050d0" opacity="0.5"/>
<rect x="256" y="149" width="1" height="1" fill="#5050d0" opacity="0.5"/>
<rect x="260" y="149" width="1" height="1" fill="#3535c0" opacity="0.75"/>
<rect x="263" y="151" width="1" height="1" fill="#1a1a98"/>
<rect x="272" y="147" width="1" height="1" fill="#2525b0" opacity="0.95"/>
<rect x="258" y="153" width="1" height="1" fill="#1a1a98"/>
<rect x="256" y="148" width="1" height="1" fill="#5050d0" opacity="0.5"/>
<rect x="267" y="148" width="1" height="1" fill="#5050d0" opacity="0.5"/>
<rect x="261" y="150" width="1" height="1" fill="#2525b0" opacity="0.95"/>
<rect x="269" y="148" width="1" height="1" fill="#2525b0" opacity="0.95"/>
<rect x="252" y="147" width="1" height="1" fill="#2525b0" opacity="0.95"/>
<rect x="268" y="149" width="1" height="1" fill="#2525b0" opacity="0.95"/>
<rect x="254" y="150" width="1" height="1" fill="#5050d0" opacity="0.5"/>
<rect x="269" y="156" width="1" height="1" fill="#5050d0" opacity="0.5"/>
<rect x="262" y="154" width="1" height="1" fill="#3535c0" opacity="0.75"/>
<rect x="275" y="153" width="1" height="1" fill="#3535c0" opacity="0.75"/>
<rect x="264" y="149" width="1" height="1" fill="#2525b0" opacity="0.95"/>
<rect x="260" y="155" width="1" height="1" fill="#3535c0" opacity="0.75"/>
<rect x="266" y="148" width="1" height="1" fill="#3535c0" opacity="0.75"/>
<rect x="261" y="154" width="1" height="1" fill="#5050d0" opacity="0.5"/>
<rect x="261" y="144" width="1" height="1" fill="#5050d0" opacity="0.5"/>
<rect x="256" y="150" width="1" height="1" fill="#3535c0" opacity="0.75"/>
<rect x="254" y="146" width="1" height="1" fill="#5050d0" opacity="0.5"/>
<rect x="249" y="148" width="1" height="1" fill="#5050d0" opacity="0.5"/>
<rect x="269" y="149" width="1" height="1" fill="#3535c0" opacity="0.75"/>
<rect x="262" y="153" width="1" height="1" fill="#3535c0" opacity="0.75"/>
<rect x="270" y="152" width="1" height="1" fill="#3535c0" opacity="0.75"/>
<rect x="262" y="159" width="1" height="1" fill="#5050d0" opacity="0.5"/>
<rect x="258" y="150" width="1" height="1" fill="#2525b0" opacity="0.95"/>
<rect x="265" y="155" width="1" height="1" fill="#2525b0" opacity="0.95"/>
<rect x="262" y="152" width="1" height="1" fill="#2525b0" opacity="0.95"/>
<rect x="255" y="152" width="1" height="1" fill="#5050d0" opacity="0.5"/>
<rect x="272" y="146" width="1" height="1" fill="#5050d0" opacity="0.5"/>
<rect x="264" y="153" width="1" height="1" fill="#3535c0" opacity="0.75"/>
<rect x="260" y="156" width="1" height="1" fill="#5050d0" opacity="0.5"/>
<rect x="267" y="153" width="1" height="1" fill="#2525b0" opacity="0.95"/>
<rect x="261" y="149" width="1" height="1" fill="#5050d0" opacity="0.5"/>
<rect x="258" y="156" width="1" height="1" fill="#5050d0" opacity="0.5"/>
<rect x="261" y="155" width="1" height="1" fill="#5050d0" opacity="0.5"/>
<rect x="257" y="150" width="1" height="1" fill="#3535c0" opacity="0.75"/>
<rect x="257" y="155" width="1" height="1" fill="#3535c0" opacity="0.75"/>
<rect x="258" y="151" width="1" height="1" fill="#1a1a98"/>
<rect x="263" y="152" width="1" height="1" fill="#2525b0" opacity="0.95"/>
<rect x="257" y="153" width="1" height="1" fill="#3535c0" opacity="0.75"/>
<rect x="262" y="148" width="1" height="1" fill="#5050d0" opacity="0.5"/>
<rect x="260" y="148" width="1" height="1" fill="#5050d0" opacity="0.5"/>
<rect x="258" y="146" width="1" height="1" fill="#5050d0" opacity="0.5"/>
<rect x="257" y="158" width="1" height="1" fill="#5050d0" opacity="0.5"/>
<rect x="253" y="147" width="1" height="1" fill="#5050d0" opacity="0.5"/>
<rect x="261" y="152" width="1" height="1" fill="#1a1a98"/>
<rect x="267" y="149" width="1" height="1" fill="#3535c0" opacity="0.75"/>
<rect x="266" y="152" width="1" height="1" fill="#2525b0" opacity="0.95"/>
<rect x="276" y="148" width="1" height="1" fill="#5050d0" opacity="0.5"/>
<rect x="264" y="155" width="1" height="1" fill="#3535c0" opacity="0.75"/>
<rect x="272" y="152" width="1" height="1" fill="#5050d0" opacity="0.5"/>
<rect x="256" y="153" width="1" height="1" fill="#2525b0" opacity="0.95"/>
<rect x="257" y="146" width="1" height="1" fill="#5050d0" opacity="0.5"/>
<rect x="264" y="150" width="1" height="1" fill="#2525b0" opacity="0.95"/>
<rect x="251" y="153" width="1" height="1" fill="#5050d0" opacity="0.5"/>
<rect x="271" y="152" width="1" height="1" fill="#5050d0" opacity="0.5"/>
<rect x="266" y="153" width="1" height="1" fill="#3535c0" opacity="0.75"/>
<rect x="262" y="151" width="1" height="1" fill="#1a1a98"/>
<rect x="258" y="157" width="1" height="1" fill="#5050d0" opacity="0.5"/>
<rect x="261" y="148" width="1" height="1" fill="#3535c0" opacity="0.75"/>
<rect x="266" y="147" width="1" height="1" fill="#5050d0" opacity="0.5"/>
<rect x="266" y="155" width="1" height="1" fill="#3535c0" opacity="0.75"/>
<rect x="259" y="154" width="1" height="1" fill="#5050d0" opacity="0.5"/>
<rect x="255" y="156" width="1" height="1" fill="#5050d0" opacity="0.5"/>
<rect x="259" y="155" width="1" height="1" fill="#3535c0" opacity="0.75"/>
<rect x="269" y="154" width="1" height="1" fill="#3535c0" opacity="0.75"/>
<rect x="258" y="148" width="1" height="1" fill="#5050d0" opacity="0.5"/>
<rect x="273" y="154" width="1" height="1" fill="#5050d0" opacity="0.5"/>
<rect x="265" y="152" width="1" height="1" fill="#1a1a98"/>
<rect x="263" y="150" width="1" height="1" fill="#2525b0" opacity="0.95"/>
<rect x="260" y="152" width="1" height="1" fill="#1a1a98"/>
<rect x="253" y="152" width="1" height="1" fill="#5050d0" opacity="0.5"/>
<rect x="271" y="154" width="1" height="1" fill="#3535c0" opacity="0.75"/>
<rect x="260" y="146" width="1" height="1" fill="#3535c0" opacity="0.75"/>
<rect x="268" y="145" width="1" height="1" fill="#5050d0" opacity="0.5"/>
<rect x="254" y="151" width="1" height="1" fill="#5050d0" opacity="0.5"/>
<rect x="264" y="151" width="1" height="1" fill="#2525b0" opacity="0.95"/>
<rect x="259" y="147" width="1" height="1" fill="#5050d0" opacity="0.5"/>
<rect x="263" y="155" width="1" height="1" fill="#5050d0" opacity="0.5"/>
<rect x="266" y="151" width="1" height="1" fill="#2525b0" opacity="0.95"/>
<rect x="262" y="149" width="1" height="1" fill="#3535c0" opacity="0.75"/>
<rect x="255" y="151" width="1" height="1" fill="#3535c0" opacity="0.75"/>
<rect x="250" y="149" width="1" height="1" fill="#5050d0" opacity="0.5"/>
<rect x="261" y="156" width="1" height="1" fill="#3535c0" opacity="0.75"/>
<rect x="267" y="152" width="1" height="1" fill="#3535c0" opacity="0.75"/>
<rect x="264" y="156" width="1" height="1" fill="#3535c0" opacity="0.75"/>
<rect x="257" y="152" width="1" height="1" fill="#3535c0" opacity="0.75"/>
<rect x="251" y="149" width="1" height="1" fill="#5050d0" opacity="0.5"/>
<rect x="263" y="148" width="1" height="1" fill="#5050d0" opacity="0.5"/>
<rect x="255" y="155" width="1" height="1" fill="#5050d0" opacity="0.5"/>
<rect x="268" y="154" width="1" height="1" fill="#5050d0" opacity="0.5"/>
<rect x="256" y="156" width="1" height="1" fill="#5050d0" opacity="0.5"/>
<rect x="270" y="151" width="1" height="1" fill="#3535c0" opacity="0.75"/>
<rect x="265" y="151" width="1" height="1" fill="#2525b0" opacity="0.95"/>
<rect x="251" y="152" width="1" height="1" fill="#3535c0" opacity="0.75"/>
<rect x="264" y="144" width="1" height="1" fill="#5050d0" opacity="0.5"/>
<rect x="273" y="151" width="1" height="1" fill="#5050d0" opacity="0.5"/>
<rect x="270" y="155" width="1" height="1" fill="#5050d0" opacity="0.5"/>
<rect x="269" y="147" width="1" height="1" fill="#5050d0" opacity="0.5"/>
<rect x="253" y="151" width="1" height="1" fill="#5050d0" opacity="0.5"/>
<rect x="269" y="160" width="1" height="1" fill="#5050d0" opacity="0.5"/>
<rect x="261" y="151" width="1" height="1" fill="#1a1a98"/>
<rect x="255" y="154" width="1" height="1" fill="#3535c0" opacity="0.75"/>
<rect x="259" y="151" width="1" height="1" fill="#2525b0" opacity="0.95"/>
<rect x="257" y="151" width="1" height="1" fill="#3535c0" opacity="0.75"/>
<rect x="260" y="151" width="1" height="1" fill="#2525b0" opacity="0.95"/>
<rect x="271" y="150" width="1" height="1" fill="#5050d0" opacity="0.5"/>
<rect x="260" y="153" width="1" height="1" fill="#5050d0" opacity="0.5"/>
<rect x="252" y="151" width="1" height="1" fill="#5050d0" opacity="0.5"/>
<rect x="231" y="149" width="1" height="1" fill="#5050d0" opacity="0.5"/>
<rect x="251" y="151" width="1" height="1" fill="#5050d0" opacity="0.5"/>
<rect x="258" y="159" width="1" height="1" fill="#5050d0" opacity="0.5"/>
<rect x="256" y="151" width="1" height="1" fill="#5050d0" opacity="0.5"/>
<rect x="272" y="154" width="1" height="1" fill="#5050d0" opacity="0.5"/>
<rect x="290" y="149" width="1" height="1" fill="#5050d0" opacity="0.5"/>
<rect x="262" y="158" width="1" height="1" fill="#5050d0" opacity="0.5"/>
<rect x="285" y="142" width="1" height="1" fill="#5050d0" opacity="0.5"/>
<rect x="289" y="151" width="1" height="1" fill="#5050d0" opacity="0.5"/>
<rect x="265" y="161" width="1" height="1" fill="#5050d0" opacity="0.5"/>
<rect x="234" y="160" width="1" height="1" fill="#5050d0" opacity="0.5"/>
<rect x="247" y="148" width="1" height="1" fill="#5050d0" opacity="0.5"/>
<rect x="254" y="159" width="1" height="1" fill="#3535c0" opacity="0.75"/>
<rect x="260" y="163" width="1" height="1" fill="#5050d0" opacity="0.5"/>
<rect x="271" y="149" width="1" height="1" fill="#5050d0" opacity="0.5"/>
<rect x="266" y="159" width="1" height="1" fill="#5050d0" opacity="0.5"/>
<rect x="253" y="150" width="1" height="1" fill="#5050d0" opacity="0.5"/>
<rect x="241" y="150" width="1" height="1" fill="#5050d0" opacity="0.5"/>
<rect x="283" y="151" width="1" height="1" fill="#3535c0" opacity="0.75"/>
<rect x="287" y="156" width="1" height="1" fill="#5050d0" opacity="0.5"/>
<rect x="272" y="158" width="1" height="1" fill="#5050d0" opacity="0.5"/>
<rect x="237" y="160" width="1" height="1" fill="#5050d0" opacity="0.5"/>
<rect x="236" y="156" width="1" height="1" fill="#5050d0" opacity="0.5"/>
<rect x="288" y="142" width="1" height="1" fill="#5050d0" opacity="0.5"/>
<rect x="245" y="153" width="1" height="1" fill="#5050d0" opacity="0.5"/>
<rect x="248" y="152" width="1" height="1" fill="#5050d0" opacity="0.5"/>
<rect x="290" y="165" width="1" height="1" fill="#5050d0" opacity="0.5"/>
<rect x="230" y="152" width="1" height="1" fill="#5050d0" opacity="0.5"/>
<rect x="273" y="152" width="1" height="1" fill="#5050d0" opacity="0.5"/>
<rect x="271" y="158" width="1" height="1" fill="#5050d0" opacity="0.5"/>
<rect x="259" y="159" width="1" height="1" fill="#5050d0" opacity="0.5"/>
<rect x="307" y="155" width="1" height="1" fill="#5050d0" opacity="0.5"/>
<rect x="243" y="146" width="1" height="1" fill="#5050d0" opacity="0.5"/>
<rect x="257" y="147" width="1" height="1" fill="#5050d0" opacity="0.5"/>
<rect x="258" y="160" width="1" height="1" fill="#5050d0" opacity="0.5"/>
<rect x="251" y="144" width="1" height="1" fill="#5050d0" opacity="0.5"/>
<rect x="240" y="158" width="1" height="1" fill="#5050d0" opacity="0.5"/>
<rect x="290" y="157" width="1" height="1" fill="#5050d0" opacity="0.5"/>
<rect x="266" y="157" width="1" height="1" fill="#5050d0" opacity="0.5"/>
<rect x="233" y="158" width="1" height="1" fill="#5050d0" opacity="0.5"/>
<rect x="251" y="156" width="1" height="1" fill="#5050d0" opacity="0.5"/>
<rect x="269" y="146" width="1" height="1" fill="#5050d0" opacity="0.5"/>
<rect x="238" y="149" width="1" height="1" fill="#5050d0" opacity="0.5"/>
<rect x="261" y="158" width="1" height="1" fill="#3535c0" opacity="0.75"/>
<rect x="267" y="146" width="1" height="1" fill="#5050d0" opacity="0.5"/>
<rect x="269" y="150" width="1" height="1" fill="#5050d0" opacity="0.5"/>
<rect x="232" y="160" width="1" height="1" fill="#5050d0" opacity="0.5"/>
<rect x="294" y="144" width="1" height="1" fill="#5050d0" opacity="0.5"/>
<rect x="266" y="144" width="1" height="1" fill="#5050d0" opacity="0.5"/>
<rect x="293" y="156" width="1" height="1" fill="#5050d0" opacity="0.5"/>
<rect x="260" y="154" width="1" height="1" fill="#5050d0" opacity="0.5"/>
<rect x="242" y="150" width="1" height="1" fill="#5050d0" opacity="0.5"/>
<rect x="277" y="143" width="1" height="1" fill="#5050d0" opacity="0.5"/>
<rect x="255" y="146" width="1" height="1" fill="#5050d0" opacity="0.5"/>
<rect x="245" y="154" width="1" height="1" fill="#5050d0" opacity="0.5"/>
<rect x="291" y="155" width="1" height="1" fill="#5050d0" opacity="0.5"/>
<rect x="255" y="161" width="1" height="1" fill="#5050d0" opacity="0.5"/>
<rect x="239" y="152" width="1" height="1" fill="#3535c0" opacity="0.75"/>
<rect x="255" y="153" width="1" height="1" fill="#3535c0" opacity="0.75"/>
<rect x="243" y="149" width="1" height="1" fill="#3535c0" opacity="0.75"/>
<rect x="255" y="159" width="1" height="1" fill="#5050d0" opacity="0.5"/>
<rect x="245" y="141" width="1" height="1" fill="#5050d0" opacity="0.5"/>
<rect x="273" y="156" width="1" height="1" fill="#5050d0" opacity="0.5"/>
<rect x="252" y="149" width="1" height="1" fill="#5050d0" opacity="0.5"/>
<rect x="284" y="154" width="1" height="1" fill="#5050d0" opacity="0.5"/>
<rect x="256" y="158" width="1" height="1" fill="#5050d0" opacity="0.5"/>
<rect x="252" y="154" width="1" height="1" fill="#5050d0" opacity="0.5"/>
<rect x="278" y="154" width="1" height="1" fill="#5050d0" opacity="0.5"/>
<rect x="268" y="158" width="1" height="1" fill="#5050d0" opacity="0.5"/>
<rect x="273" y="153" width="1" height="1" fill="#5050d0" opacity="0.5"/>
<rect x="250" y="153" width="1" height="1" fill="#5050d0" opacity="0.5"/>
<rect x="254" y="145" width="1" height="1" fill="#5050d0" opacity="0.5"/>
<rect x="251" y="141" width="1" height="1" fill="#5050d0" opacity="0.5"/>
<rect x="265" y="157" width="1" height="1" fill="#5050d0" opacity="0.5"/>
<rect x="262" y="160" width="1" height="1" fill="#5050d0" opacity="0.5"/>
<rect x="252" y="170" width="1" height="1" fill="#5050d0" opacity="0.5"/>
<rect x="249" y="150" width="1" height="1" fill="#5050d0" opacity="0.5"/>
<rect x="292" y="160" width="1" height="1" fill="#5050d0" opacity="0.5"/>
<rect x="277" y="155" width="1" height="1" fill="#5050d0" opacity="0.5"/>
<rect x="248" y="147" width="1" height="1" fill="#5050d0" opacity="0.5"/>
<rect x="294" y="156" width="1" height="1" fill="#5050d0" opacity="0.5"/>
<rect x="288" y="161" width="1" height="1" fill="#5050d0" opacity="0.5"/>
<rect x="282" y="143" width="1" height="1" fill="#5050d0" opacity="0.5"/>
<rect x="237" y="146" width="1" height="1" fill="#5050d0" opacity="0.5"/>
<rect x="275" y="161" width="1" height="1" fill="#5050d0" opacity="0.5"/>
<rect x="231" y="154" width="1" height="1" fill="#5050d0" opacity="0.5"/>
<rect x="249" y="154" width="1" height="1" fill="#3535c0" opacity="0.75"/>
<rect x="276" y="160" width="1" height="1" fill="#5050d0" opacity="0.5"/>
<rect x="282" y="151" width="1" height="1" fill="#5050d0" opacity="0.5"/>
<rect x="252" y="152" width="1" height="1" fill="#5050d0" opacity="0.5"/>
<rect x="290" y="142" width="1" height="1" fill="#5050d0" opacity="0.5"/>
<rect x="256" y="155" width="1" height="1" fill="#5050d0" opacity="0.5"/>
<rect x="240" y="155" width="1" height="1" fill="#5050d0" opacity="0.5"/>
<rect x="256" y="145" width="1" height="1" fill="#5050d0" opacity="0.5"/>
<rect x="285" y="148" width="1" height="1" fill="#5050d0" opacity="0.5"/>
<rect x="265" y="158" width="1" height="1" fill="#5050d0" opacity="0.5"/>
<rect x="303" y="161" width="1" height="1" fill="#5050d0" opacity="0.5"/>
<rect x="254" y="147" width="1" height="1" fill="#5050d0" opacity="0.5"/>
<rect x="274" y="148" width="1" height="1" fill="#5050d0" opacity="0.5"/>
<rect x="276" y="154" width="1" height="1" fill="#5050d0" opacity="0.5"/>
<rect x="272" y="156" width="1" height="1" fill="#5050d0" opacity="0.5"/>
<rect x="261" y="159" width="1" height="1" fill="#5050d0" opacity="0.5"/>
<rect x="238" y="157" width="1" height="1" fill="#5050d0" opacity="0.5"/>
<rect x="259" y="142" width="1" height="1" fill="#5050d0" opacity="0.5"/>
<rect x="259" y="158" width="1" height="1" fill="#5050d0" opacity="0.5"/>
<rect x="265" y="146" width="1" height="1" fill="#5050d0" opacity="0.5"/>
<rect x="285" y="153" width="1" height="1" fill="#5050d0" opacity="0.5"/>
<rect x="289" y="156" width="1" height="1" fill="#5050d0" opacity="0.5"/>
<rect x="225" y="150" width="1" height="1" fill="#5050d0" opacity="0.5"/>
<rect x="263" y="143" width="1" height="1" fill="#3535c0" opacity="0.75"/>
<rect x="250" y="154" width="1" height="1" fill="#5050d0" opacity="0.5"/>
<rect x="218" y="154" width="1" height="1" fill="#5050d0" opacity="0.5"/>
<rect x="269" y="167" width="1" height="1" fill="#5050d0" opacity="0.5"/>
<rect x="252" y="145" width="1" height="1" fill="#5050d0" opacity="0.5"/>
<rect x="256" y="168" width="1" height="1" fill="#5050d0" opacity="0.5"/>
<rect x="251" y="163" width="1" height="1" fill="#5050d0" opacity="0.5"/>
<rect x="281" y="154" width="1" height="1" fill="#5050d0" opacity="0.5"/>
<rect x="284" y="162" width="1" height="1" fill="#5050d0" opacity="0.5"/>
<rect x="274" y="158" width="1" height="1" fill="#5050d0" opacity="0.5"/>
<rect x="265" y="153" width="1" height="1" fill="#5050d0" opacity="0.5"/>
<rect x="250" y="146" width="1" height="1" fill="#5050d0" opacity="0.5"/>
<rect x="250" y="151" width="1" height="1" fill="#5050d0" opacity="0.5"/>
<rect x="277" y="156" width="1" height="1" fill="#5050d0" opacity="0.5"/>
<rect x="268" y="160" width="1" height="1" fill="#5050d0" opacity="0.5"/>
<rect x="308" y="153" width="1" height="1" fill="#5050d0" opacity="0.5"/>
<rect x="227" y="154" width="1" height="1" fill="#5050d0" opacity="0.5"/>
<rect x="263" y="142" width="1" height="1" fill="#5050d0" opacity="0.5"/>
<rect x="253" y="154" width="1" height="1" fill="#5050d0" opacity="0.5"/>
<rect x="228" y="181" width="1" height="1" fill="#5050d0" opacity="0.5"/>
<rect x="271" y="161" width="1" height="1" fill="#5050d0" opacity="0.5"/>
<rect x="302" y="173" width="1" height="1" fill="#5050d0" opacity="0.5"/>
<rect x="295" y="193" width="1" height="1" fill="#5050d0" opacity="0.5"/>
<rect x="305" y="179" width="1" height="1" fill="#5050d0" opacity="0.5"/>
<rect x="296" y="172" width="1" height="1" fill="#5050d0" opacity="0.5"/>
<rect x="255" y="169" width="1" height="1" fill="#5050d0" opacity="0.5"/>
<rect x="280" y="174" width="1" height="1" fill="#5050d0" opacity="0.5"/>
<rect x="289" y="189" width="1" height="1" fill="#5050d0" opacity="0.5"/>
<rect x="269" y="185" width="1" height="1" fill="#5050d0" opacity="0.5"/>
<rect x="223" y="141" width="1" height="1" fill="#5050d0" opacity="0.5"/>
<rect x="303" y="168" width="1" height="1" fill="#5050d0" opacity="0.5"/>
<rect x="238" y="174" width="1" height="1" fill="#5050d0" opacity="0.5"/>
<rect x="260" y="204" width="1" height="1" fill="#5050d0" opacity="0.5"/>
<rect x="253" y="156" width="1" height="1" fill="#5050d0" opacity="0.5"/>
<rect x="234" y="140" width="1" height="1" fill="#5050d0" opacity="0.5"/>
<rect x="302" y="178" width="1" height="1" fill="#5050d0" opacity="0.5"/>
<rect x="279" y="157" width="1" height="1" fill="#5050d0" opacity="0.5"/>
<rect x="243" y="193" width="1" height="1" fill="#5050d0" opacity="0.5"/>
<rect x="249" y="153" width="1" height="1" fill="#5050d0" opacity="0.5"/>
<rect x="280" y="187" width="1" height="1" fill="#5050d0" opacity="0.5"/>
<rect x="250" y="169" width="1" height="1" fill="#5050d0" opacity="0.5"/>
<rect x="239" y="184" width="1" height="1" fill="#5050d0" opacity="0.5"/>
<rect x="242" y="145" width="1" height="1" fill="#5050d0" opacity="0.5"/>
<rect x="248" y="194" width="1" height="1" fill="#5050d0" opacity="0.5"/>
<rect x="270" y="158" width="1" height="1" fill="#5050d0" opacity="0.5"/>
<rect x="234" y="181" width="1" height="1" fill="#5050d0" opacity="0.5"/>
<rect x="275" y="143" width="1" height="1" fill="#5050d0" opacity="0.5"/>
<rect x="332" y="163" width="1" height="1" fill="#5050d0" opacity="0.5"/>
</g>
<path d="M565.3000000000001,98.2 A59.3,59.3 0 0 1 683.9,98.2" fill="none" stroke="#707070" stroke-width="0.9"/>
<g filter="url(#blur03)">
<rect x="636" y="38" width="1" height="1" fill="#2525b0" opacity="0.95"/>
<rect x="599" y="46" width="1" height="1" fill="#5050d0" opacity="0.5"/>
<rect x="623" y="42" width="1" height="1" fill="#1a1a98"/>
<rect x="615" y="42" width="1" height="1" fill="#2525b0" opacity="0.95"/>
<rect x="616" y="43" width="1" height="1" fill="#3535c0" opacity="0.75"/>
<rect x="618" y="37" width="1" height="1" fill="#1a1a98"/>
<rect x="603" y="40" width="1" height="1" fill="#5050d0" opacity="0.5"/>
<rect x="618" y="40" width="1" height="1" fill="#1a40a8"/>
<rect x="613" y="34" width="1" height="1" fill="#3535c0" opacity="0.75"/>
<rect x="646" y="38" width="1" height="1" fill="#5050d0" opacity="0.5"/>
<rect x="621" y="41" width="1" height="1" fill="#1a1a98"/>
<rect x="617" y="34" width="1" height="1" fill="#1a1a98"/>
<rect x="617" y="42" width="1" height="1" fill="#1a1a98"/>
<rect x="614" y="41" width="1" height="1" fill="#1a1a98"/>
<rect x="611" y="43" width="1" height="1" fill="#3535c0" opacity="0.75"/>
<rect x="616" y="35" width="1" height="1" fill="#2525b0" opacity="0.95"/>
<rect x="623" y="39" width="1" height="1" fill="#1a40a8"/>
<rect x="618" y="44" width="1" height="1" fill="#2525b0" opacity="0.95"/>
<rect x="627" y="41" width="1" height="1" fill="#1a1a98"/>
<rect x="618" y="35" width="1" height="1" fill="#1a1a98"/>
<rect x="620" y="39" width="1" height="1" fill="#1a40a8"/>
<rect x="632" y="44" width="1" height="1" fill="#2525b0" opacity="0.95"/>
<rect x="624" y="38" width="1" height="1" fill="#1a1a98"/>
<rect x="615" y="40" width="1" height="1" fill="#1a1a98"/>
<rect x="618" y="49" width="1" height="1" fill="#3535c0" opacity="0.75"/>
<rect x="635" y="38" width="1" height="1" fill="#2525b0" opacity="0.95"/>
<rect x="628" y="44" width="1" height="1" fill="#3535c0" opacity="0.75"/>
<rect x="612" y="38" width="1" height="1" fill="#1a1a98"/>
<rect x="617" y="33" width="1" height="1" fill="#2525b0" opacity="0.95"/>
<rect x="627" y="34" width="1" height="1" fill="#2525b0" opacity="0.95"/>
<rect x="620" y="41" width="1" height="1" fill="#1a1a98"/>
<rect x="625" y="35" width="1" height="1" fill="#1a1a98"/>
<rect x="597" y="41" width="1" height="1" fill="#3535c0" opacity="0.75"/>
<rect x="628" y="36" width="1" height="1" fill="#1a1a98"/>
<rect x="612" y="40" width="1" height="1" fill="#2525b0" opacity="0.95"/>
<rect x="606" y="40" width="1" height="1" fill="#1a1a98"/>
<rect x="622" y="41" width="1" height="1" fill="#2525b0" opacity="0.95"/>
<rect x="625" y="36" width="1" height="1" fill="#1a1a98"/>
<rect x="616" y="37" width="1" height="1" fill="#1a40a8"/>
<rect x="611" y="40" width="1" height="1" fill="#2525b0" opacity="0.95"/>
<rect x="620" y="33" width="1" height="1" fill="#1a1a98"/>
<rect x="619" y="39" width="1" height="1" fill="#1a1a98"/>
<rect x="631" y="40" width="1" height="1" fill="#1a1a98"/>
<rect x="625" y="42" width="1" height="1" fill="#2525b0" opacity="0.95"/>
<rect x="621" y="38" width="1" height="1" fill="#1a1a98"/>
<rect x="628" y="37" width="1" height="1" fill="#1a1a98"/>
<rect x="618" y="39" width="1" height="1" fill="#1a1a98"/>
<rect x="612" y="35" width="1" height="1" fill="#2525b0" opacity="0.95"/>
<rect x="624" y="37" width="1" height="1" fill="#2525b0" opacity="0.95"/>
<rect x="624" y="40" width="1" height="1" fill="#1a40a8"/>
<rect x="621" y="37" width="1" height="1" fill="#1a1a98"/>
<rect x="600" y="29" width="1" height="1" fill="#5050d0" opacity="0.5"/>
<rect x="625" y="41" width="1" height="1" fill="#1a1a98"/>
<rect x="623" y="36" width="1" height="1" fill="#1a1a98"/>
<rect x="606" y="39" width="1" height="1" fill="#3535c0" opacity="0.75"/>
<rect x="626" y="40" width="1" height="1" fill="#1a1a98"/>
<rect x="603" y="42" width="1" height="1" fill="#2525b0" opacity="0.95"/>
<rect x="612" y="32" width="1" height="1" fill="#2525b0" opacity="0.95"/>
<rect x="629" y="37" width="1" height="1" fill="#1a1a98"/>
<rect x="602" y="35" width="1" height="1" fill="#2525b0" opacity="0.95"/>
<rect x="616" y="40" width="1" height="1" fill="#1a40a8"/>
<rect x="622" y="37" width="1" height="1" fill="#1a1a98"/>
<rect x="615" y="37" width="1" height="1" fill="#1a1a98"/>
<rect x="632" y="35" width="1" height="1" fill="#2525b0" opacity="0.95"/>
<rect x="610" y="39" width="1" height="1" fill="#2525b0" opacity="0.95"/>
<rect x="622" y="38" width="1" height="1" fill="#1a1a98"/>
<rect x="611" y="37" width="1" height="1" fill="#2525b0" opacity="0.95"/>
<rect x="631" y="34" width="1" height="1" fill="#1a1a98"/>
<rect x="619" y="36" width="1" height="1" fill="#1a40a8"/>
<rect x="617" y="40" width="1" height="1" fill="#1a1a98"/>
<rect x="606" y="43" width="1" height="1" fill="#5050d0" opacity="0.5"/>
<rect x="633" y="38" width="1" height="1" fill="#1a1a98"/>
<rect x="626" y="44" width="1" height="1" fill="#1a1a98"/>
<rect x="626" y="38" width="1" height="1" fill="#1a1a98"/>
<rect x="629" y="33" width="1" height="1" fill="#2525b0" opacity="0.95"/>
<rect x="614" y="34" width="1" height="1" fill="#2525b0" opacity="0.95"/>
<rect x="613" y="40" width="1" height="1" fill="#1a1a98"/>
<rect x="613" y="42" width="1" height="1" fill="#1a1a98"/>
<rect x="630" y="37" width="1" height="1" fill="#1a1a98"/>
<rect x="608" y="38" width="1" height="1" fill="#3535c0" opacity="0.75"/>
<rect x="615" y="48" width="1" height="1" fill="#2525b0" opacity="0.95"/>
<rect x="617" y="39" width="1" height="1" fill="#1a40a8"/>
<rect x="621" y="39" width="1" height="1" fill="#1088b8"/>
<rect x="624" y="41" width="1" height="1" fill="#1a1a98"/>
<rect x="610" y="38" width="1" height="1" fill="#2525b0" opacity="0.95"/>
<rect x="606" y="38" width="1" height="1" fill="#5050d0" opacity="0.5"/>
<rect x="619" y="40" width="1" height="1" fill="#1a1a98"/>
<rect x="621" y="33" width="1" height="1" fill="#2525b0" opacity="0.95"/>
<rect x="622" y="40" width="1" height="1" fill="#1a1a98"/>
<rect x="618" y="38" width="1" height="1" fill="#1a40a8"/>
<rect x="626" y="33" width="1" height="1" fill="#2525b0" opacity="0.95"/>
<rect x="613" y="39" width="1" height="1" fill="#1a40a8"/>
<rect x="619" y="35" width="1" height="1" fill="#1a1a98"/>
<rect x="624" y="32" width="1" height="1" fill="#3535c0" opacity="0.75"/>
<rect x="621" y="34" width="1" height="1" fill="#1a1a98"/>
<rect x="640" y="40" width="1" height="1" fill="#2525b0" opacity="0.95"/>
<rect x="631" y="38" width="1" height="1" fill="#1a1a98"/>
<rect x="631" y="39" width="1" height="1" fill="#2525b0" opacity="0.95"/>
<rect x="617" y="38" width="1" height="1" fill="#1a1a98"/>
<rect x="615" y="35" width="1" height="1" fill="#2525b0" opacity="0.95"/>
<rect x="601" y="45" width="1" height="1" fill="#5050d0" opacity="0.5"/>
<rect x="629" y="38" width="1" height="1" fill="#1a1a98"/>
<rect x="628" y="39" width="1" height="1" fill="#1a1a98"/>
<rect x="609" y="38" width="1" height="1" fill="#2525b0" opacity="0.95"/>
<rect x="612" y="39" width="1" height="1" fill="#1a1a98"/>
<rect x="620" y="38" width="1" height="1" fill="#1a1a98"/>
<rect x="625" y="37" width="1" height="1" fill="#1a1a98"/>
<rect x="636" y="35" width="1" height="1" fill="#3535c0" opacity="0.75"/>
<rect x="618" y="34" width="1" height="1" fill="#1a1a98"/>
<rect x="634" y="42" width="1" height="1" fill="#2525b0" opacity="0.95"/>
<rect x="625" y="38" width="1" height="1" fill="#1a1a98"/>
<rect x="630" y="34" width="1" height="1" fill="#1a1a98"/>
<rect x="611" y="41" width="1" height="1" fill="#1a1a98"/>
<rect x="618" y="41" width="1" height="1" fill="#1a1a98"/>
<rect x="613" y="32" width="1" height="1" fill="#1a1a98"/>
<rect x="632" y="41" width="1" height="1" fill="#2525b0" opacity="0.95"/>
<rect x="625" y="40" width="1" height="1" fill="#1a1a98"/>
<rect x="617" y="45" width="1" height="1" fill="#2525b0" opacity="0.95"/>
<rect x="616" y="33" width="1" height="1" fill="#3535c0" opacity="0.75"/>
<rect x="623" y="33" width="1" height="1" fill="#1a1a98"/>
<rect x="612" y="30" width="1" height="1" fill="#5050d0" opacity="0.5"/>
<rect x="623" y="35" width="1" height="1" fill="#1a1a98"/>
<rect x="639" y="33" width="1" height="1" fill="#5050d0" opacity="0.5"/>
<rect x="615" y="30" width="1" height="1" fill="#3535c0" opacity="0.75"/>
<rect x="610" y="37" width="1" height="1" fill="#1a1a98"/>
<rect x="609" y="42" width="1" height="1" fill="#3535c0" opacity="0.75"/>
<rect x="620" y="36" width="1" height="1" fill="#1a1a98"/>
<rect x="622" y="44" width="1" height="1" fill="#2525b0" opacity="0.95"/>
<rect x="620" y="40" width="1" height="1" fill="#1088b8"/>
<rect x="621" y="42" width="1" height="1" fill="#1a1a98"/>
<rect x="607" y="31" width="1" height="1" fill="#5050d0" opacity="0.5"/>
<rect x="616" y="39" width="1" height="1" fill="#1a40a8"/>
<rect x="613" y="33" width="1" height="1" fill="#2525b0" opacity="0.95"/>
<rect x="626" y="43" width="1" height="1" fill="#1a1a98"/>
<rect x="626" y="34" width="1" height="1" fill="#1a1a98"/>
<rect x="633" y="33" width="1" height="1" fill="#3535c0" opacity="0.75"/>
<rect x="603" y="39" width="1" height="1" fill="#2525b0" opacity="0.95"/>
<rect x="628" y="40" width="1" height="1" fill="#1a1a98"/>
<rect x="621" y="30" width="1" height="1" fill="#3535c0" opacity="0.75"/>
<rect x="632" y="31" width="1" height="1" fill="#3535c0" opacity="0.75"/>
<rect x="617" y="37" width="1" height="1" fill="#1a1a98"/>
<rect x="626" y="45" width="1" height="1" fill="#3535c0" opacity="0.75"/>
<rect x="615" y="38" width="1" height="1" fill="#1a1a98"/>
<rect x="637" y="34" width="1" height="1" fill="#5050d0" opacity="0.5"/>
<rect x="637" y="45" width="1" height="1" fill="#2525b0" opacity="0.95"/>
<rect x="619" y="34" width="1" height="1" fill="#3535c0" opacity="0.75"/>
<rect x="616" y="41" width="1" height="1" fill="#1a1a98"/>
<rect x="621" y="40" width="1" height="1" fill="#1a40a8"/>
<rect x="625" y="44" width="1" height="1" fill="#1a1a98"/>
<rect x="632" y="38" width="1" height="1" fill="#1a1a98"/>
<rect x="614" y="42" width="1" height="1" fill="#2525b0" opacity="0.95"/>
<rect x="628" y="38" width="1" height="1" fill="#1a1a98"/>
<rect x="614" y="46" width="1" height="1" fill="#5050d0" opacity="0.5"/>
<rect x="614" y="40" width="1" height="1" fill="#2525b0" opacity="0.95"/>
<rect x="610" y="35" width="1" height="1" fill="#2525b0" opacity="0.95"/>
<rect x="624" y="42" width="1" height="1" fill="#1a1a98"/>
<rect x="633" y="36" width="1" height="1" fill="#2525b0" opacity="0.95"/>
<rect x="622" y="35" width="1" height="1" fill="#1a1a98"/>
<rect x="621" y="43" width="1" height="1" fill="#1a1a98"/>
<rect x="607" y="35" width="1" height="1" fill="#3535c0" opacity="0.75"/>
<rect x="605" y="41" width="1" height="1" fill="#5050d0" opacity="0.5"/>
<rect x="629" y="41" width="1" height="1" fill="#2525b0" opacity="0.95"/>
<rect x="619" y="42" width="1" height="1" fill="#2525b0" opacity="0.95"/>
<rect x="613" y="36" width="1" height="1" fill="#1a1a98"/>
<rect x="622" y="45" width="1" height="1" fill="#1a1a98"/>
<rect x="602" y="44" width="1" height="1" fill="#5050d0" opacity="0.5"/>
<rect x="628" y="45" width="1" height="1" fill="#3535c0" opacity="0.75"/>
<rect x="630" y="39" width="1" height="1" fill="#1a1a98"/>
<rect x="604" y="43" width="1" height="1" fill="#3535c0" opacity="0.75"/>
<rect x="621" y="36" width="1" height="1" fill="#1a1a98"/>
<rect x="611" y="38" width="1" height="1" fill="#1a1a98"/>
<rect x="624" y="39" width="1" height="1" fill="#1a40a8"/>
<rect x="605" y="38" width="1" height="1" fill="#3535c0" opacity="0.75"/>
<rect x="617" y="41" width="1" height="1" fill="#1a1a98"/>
<rect x="618" y="43" width="1" height="1" fill="#3535c0" opacity="0.75"/>
<rect x="610" y="41" width="1" height="1" fill="#1a1a98"/>
<rect x="625" y="34" width="1" height="1" fill="#1a1a98"/>
<rect x="610" y="32" width="1" height="1" fill="#3535c0" opacity="0.75"/>
<rect x="614" y="45" width="1" height="1" fill="#2525b0" opacity="0.95"/>
<rect x="619" y="44" width="1" height="1" fill="#2525b0" opacity="0.95"/>
<rect x="633" y="40" width="1" height="1" fill="#1a1a98"/>
<rect x="611" y="32" width="1" height="1" fill="#5050d0" opacity="0.5"/>
<rect x="619" y="32" width="1" height="1" fill="#2525b0" opacity="0.95"/>
<rect x="638" y="42" width="1" height="1" fill="#2525b0" opacity="0.95"/>
<rect x="624" y="46" width="1" height="1" fill="#3535c0" opacity="0.75"/>
<rect x="619" y="46" width="1" height="1" fill="#1a1a98"/>
<rect x="638" y="37" width="1" height="1" fill="#1a1a98"/>
<rect x="615" y="43" width="1" height="1" fill="#2525b0" opacity="0.95"/>
<rect x="610" y="44" width="1" height="1" fill="#2525b0" opacity="0.95"/>
<rect x="634" y="36" width="1" height="1" fill="#5050d0" opacity="0.5"/>
<rect x="612" y="33" width="1" height="1" fill="#2525b0" opacity="0.95"/>
<rect x="614" y="38" width="1" height="1" fill="#1a1a98"/>
<rect x="624" y="44" width="1" height="1" fill="#2525b0" opacity="0.95"/>
<rect x="627" y="38" width="1" height="1" fill="#1a1a98"/>
<rect x="629" y="42" width="1" height="1" fill="#3535c0" opacity="0.75"/>
<rect x="620" y="43" width="1" height="1" fill="#2525b0" opacity="0.95"/>
<rect x="624" y="45" width="1" height="1" fill="#2525b0" opacity="0.95"/>
<rect x="630" y="36" width="1" height="1" fill="#1a1a98"/>
<rect x="621" y="35" width="1" height="1" fill="#1a1a98"/>
<rect x="635" y="42" width="1" height="1" fill="#1a1a98"/>
<rect x="605" y="37" width="1" height="1" fill="#5050d0" opacity="0.5"/>
<rect x="622" y="34" width="1" height="1" fill="#2525b0" opacity="0.95"/>
<rect x="629" y="31" width="1" height="1" fill="#5050d0" opacity="0.5"/>
<rect x="613" y="38" width="1" height="1" fill="#1a1a98"/>
<rect x="624" y="36" width="1" height="1" fill="#2525b0" opacity="0.95"/>
<rect x="615" y="36" width="1" height="1" fill="#1a1a98"/>
<rect x="607" y="38" width="1" height="1" fill="#2525b0" opacity="0.95"/>
<rect x="634" y="39" width="1" height="1" fill="#3535c0" opacity="0.75"/>
<rect x="627" y="43" width="1" height="1" fill="#3535c0" opacity="0.75"/>
<rect x="620" y="42" width="1" height="1" fill="#1a1a98"/>
<rect x="602" y="39" width="1" height="1" fill="#3535c0" opacity="0.75"/>
<rect x="609" y="44" width="1" height="1" fill="#3535c0" opacity="0.75"/>
<rect x="606" y="35" width="1" height="1" fill="#5050d0" opacity="0.5"/>
<rect x="614" y="37" width="1" height="1" fill="#2525b0" opacity="0.95"/>
<rect x="632" y="36" width="1" height="1" fill="#1a1a98"/>
<rect x="610" y="31" width="1" height="1" fill="#5050d0" opacity="0.5"/>
<rect x="609" y="34" width="1" height="1" fill="#3535c0" opacity="0.75"/>
<rect x="627" y="42" width="1" height="1" fill="#1a1a98"/>
<rect x="622" y="31" width="1" height="1" fill="#3535c0" opacity="0.75"/>
<rect x="617" y="35" width="1" height="1" fill="#5050d0" opacity="0.5"/>
<rect x="609" y="40" width="1" height="1" fill="#1a1a98"/>
<rect x="607" y="42" width="1" height="1" fill="#3535c0" opacity="0.75"/>
<rect x="616" y="47" width="1" height="1" fill="#3535c0" opacity="0.75"/>
<rect x="612" y="44" width="1" height="1" fill="#5050d0" opacity="0.5"/>
<rect x="619" y="38" width="1" height="1" fill="#1a40a8"/>
<rect x="643" y="45" width="1" height="1" fill="#3535c0" opacity="0.75"/>
<rect x="627" y="40" width="1" height="1" fill="#1a1a98"/>
<rect x="614" y="44" width="1" height="1" fill="#2525b0" opacity="0.95"/>
<rect x="626" y="41" width="1" height="1" fill="#1a40a8"/>
<rect x="622" y="47" width="1" height="1" fill="#5050d0" opacity="0.5"/>
<rect x="614" y="48" width="1" height="1" fill="#3535c0" opacity="0.75"/>
<rect x="628" y="35" width="1" height="1" fill="#2525b0" opacity="0.95"/>
<rect x="613" y="46" width="1" height="1" fill="#3535c0" opacity="0.75"/>
<rect x="595" y="40" width="1" height="1" fill="#3535c0" opacity="0.75"/>
<rect x="631" y="41" width="1" height="1" fill="#1a1a98"/>
<rect x="614" y="33" width="1" height="1" fill="#2525b0" opacity="0.95"/>
<rect x="611" y="39" width="1" height="1" fill="#1a1a98"/>
<rect x="620" y="31" width="1" height="1" fill="#5050d0" opacity="0.5"/>
<rect x="616" y="38" width="1" height="1" fill="#1a1a98"/>
<rect x="629" y="34" width="1" height="1" fill="#2525b0" opacity="0.95"/>
<rect x="614" y="36" width="1" height="1" fill="#1a1a98"/>
<rect x="599" y="41" width="1" height="1" fill="#5050d0" opacity="0.5"/>
<rect x="612" y="42" width="1" height="1" fill="#2525b0" opacity="0.95"/>
<rect x="614" y="39" width="1" height="1" fill="#1a1a98"/>
<rect x="610" y="48" width="1" height="1" fill="#3535c0" opacity="0.75"/>
<rect x="626" y="30" width="1" height="1" fill="#5050d0" opacity="0.5"/>
<rect x="633" y="44" width="1" height="1" fill="#3535c0" opacity="0.75"/>
<rect x="615" y="41" width="1" height="1" fill="#1a1a98"/>
<rect x="626" y="46" width="1" height="1" fill="#2525b0" opacity="0.95"/>
<rect x="630" y="44" width="1" height="1" fill="#5050d0" opacity="0.5"/>
<rect x="619" y="45" width="1" height="1" fill="#2525b0" opacity="0.95"/>
<rect x="604" y="34" width="1" height="1" fill="#5050d0" opacity="0.5"/>
<rect x="622" y="39" width="1" height="1" fill="#1a1a98"/>
<rect x="624" y="47" width="1" height="1" fill="#1a1a98"/>
<rect x="616" y="48" width="1" height="1" fill="#2525b0" opacity="0.95"/>
<rect x="616" y="44" width="1" height="1" fill="#5050d0" opacity="0.5"/>
<rect x="612" y="36" width="1" height="1" fill="#3535c0" opacity="0.75"/>
<rect x="630" y="42" width="1" height="1" fill="#1a1a98"/>
<rect x="621" y="44" width="1" height="1" fill="#1a1a98"/>
<rect x="626" y="32" width="1" height="1" fill="#3535c0" opacity="0.75"/>
<rect x="624" y="31" width="1" height="1" fill="#3535c0" opacity="0.75"/>
<rect x="626" y="35" width="1" height="1" fill="#2525b0" opacity="0.95"/>
<rect x="636" y="37" width="1" height="1" fill="#2525b0" opacity="0.95"/>
<rect x="603" y="37" width="1" height="1" fill="#5050d0" opacity="0.5"/>
<rect x="627" y="45" width="1" height="1" fill="#5050d0" opacity="0.5"/>
<rect x="615" y="34" width="1" height="1" fill="#1a1a98"/>
<rect x="618" y="36" width="1" height="1" fill="#3535c0" opacity="0.75"/>
<rect x="630" y="40" width="1" height="1" fill="#1a1a98"/>
<rect x="620" y="35" width="1" height="1" fill="#2525b0" opacity="0.95"/>
<rect x="615" y="39" width="1" height="1" fill="#1a1a98"/>
<rect x="611" y="48" width="1" height="1" fill="#5050d0" opacity="0.5"/>
<rect x="626" y="39" width="1" height="1" fill="#1a1a98"/>
<rect x="605" y="40" width="1" height="1" fill="#5050d0" opacity="0.5"/>
<rect x="607" y="44" width="1" height="1" fill="#3535c0" opacity="0.75"/>
<rect x="623" y="31" width="1" height="1" fill="#5050d0" opacity="0.5"/>
<rect x="619" y="41" width="1" height="1" fill="#1a1a98"/>
<rect x="628" y="42" width="1" height="1" fill="#1a1a98"/>
<rect x="614" y="32" width="1" height="1" fill="#2525b0" opacity="0.95"/>
<rect x="616" y="36" width="1" height="1" fill="#2525b0" opacity="0.95"/>
<rect x="629" y="36" width="1" height="1" fill="#5050d0" opacity="0.5"/>
<rect x="627" y="36" width="1" height="1" fill="#2525b0" opacity="0.95"/>
<rect x="619" y="33" width="1" height="1" fill="#3535c0" opacity="0.75"/>
<rect x="616" y="32" width="1" height="1" fill="#3535c0" opacity="0.75"/>
<rect x="625" y="43" width="1" height="1" fill="#2525b0" opacity="0.95"/>
<rect x="640" y="35" width="1" height="1" fill="#2525b0" opacity="0.95"/>
<rect x="601" y="35" width="1" height="1" fill="#2525b0" opacity="0.95"/>
<rect x="611" y="36" width="1" height="1" fill="#1a1a98"/>
<rect x="607" y="37" width="1" height="1" fill="#5050d0" opacity="0.5"/>
<rect x="628" y="34" width="1" height="1" fill="#2525b0" opacity="0.95"/>
<rect x="608" y="34" width="1" height="1" fill="#3535c0" opacity="0.75"/>
<rect x="608" y="33" width="1" height="1" fill="#3535c0" opacity="0.75"/>
<rect x="619" y="31" width="1" height="1" fill="#2525b0" opacity="0.95"/>
<rect x="617" y="43" width="1" height="1" fill="#3535c0" opacity="0.75"/>
<rect x="623" y="38" width="1" height="1" fill="#2525b0" opacity="0.95"/>
<rect x="634" y="41" width="1" height="1" fill="#1a1a98"/>
<rect x="630" y="38" width="1" height="1" fill="#1a1a98"/>
<rect x="625" y="31" width="1" height="1" fill="#5050d0" opacity="0.5"/>
<rect x="630" y="31" width="1" height="1" fill="#5050d0" opacity="0.5"/>
<rect x="625" y="33" width="1" height="1" fill="#3535c0" opacity="0.75"/>
<rect x="610" y="47" width="1" height="1" fill="#5050d0" opacity="0.5"/>
<rect x="620" y="32" width="1" height="1" fill="#2525b0" opacity="0.95"/>
<rect x="632" y="32" width="1" height="1" fill="#3535c0" opacity="0.75"/>
<rect x="624" y="35" width="1" height="1" fill="#1a1a98"/>
<rect x="633" y="35" width="1" height="1" fill="#2525b0" opacity="0.95"/>
<rect x="616" y="30" width="1" height="1" fill="#2525b0" opacity="0.95"/>
<rect x="610" y="46" width="1" height="1" fill="#3535c0" opacity="0.75"/>
<rect x="624" y="43" width="1" height="1" fill="#2525b0" opacity="0.95"/>
<rect x="613" y="37" width="1" height="1" fill="#2525b0" opacity="0.95"/>
<rect x="631" y="33" width="1" height="1" fill="#5050d0" opacity="0.5"/>
<rect x="617" y="36" width="1" height="1" fill="#2525b0" opacity="0.95"/>
<rect x="610" y="30" width="1" height="1" fill="#5050d0" opacity="0.5"/>
<rect x="633" y="37" width="1" height="1" fill="#3535c0" opacity="0.75"/>
<rect x="617" y="47" width="1" height="1" fill="#3535c0" opacity="0.75"/>
<rect x="622" y="36" width="1" height="1" fill="#2525b0" opacity="0.95"/>
<rect x="608" y="45" width="1" height="1" fill="#3535c0" opacity="0.75"/>
<rect x="632" y="45" width="1" height="1" fill="#2525b0" opacity="0.95"/>
<rect x="627" y="35" width="1" height="1" fill="#2525b0" opacity="0.95"/>
<rect x="613" y="45" width="1" height="1" fill="#3535c0" opacity="0.75"/>
<rect x="629" y="35" width="1" height="1" fill="#1a1a98"/>
<rect x="602" y="42" width="1" height="1" fill="#3535c0" opacity="0.75"/>
<rect x="593" y="34" width="1" height="1" fill="#5050d0" opacity="0.5"/>
<rect x="616" y="45" width="1" height="1" fill="#5050d0" opacity="0.5"/>
<rect x="618" y="42" width="1" height="1" fill="#2525b0" opacity="0.95"/>
<rect x="624" y="34" width="1" height="1" fill="#2525b0" opacity="0.95"/>
<rect x="612" y="34" width="1" height="1" fill="#3535c0" opacity="0.75"/>
<rect x="623" y="43" width="1" height="1" fill="#3535c0" opacity="0.75"/>
<rect x="630" y="33" width="1" height="1" fill="#2525b0" opacity="0.95"/>
<rect x="640" y="43" width="1" height="1" fill="#2525b0" opacity="0.95"/>
<rect x="614" y="29" width="1" height="1" fill="#5050d0" opacity="0.5"/>
<rect x="628" y="32" width="1" height="1" fill="#3535c0" opacity="0.75"/>
<rect x="613" y="49" width="1" height="1" fill="#2525b0" opacity="0.95"/>
<rect x="611" y="33" width="1" height="1" fill="#3535c0" opacity="0.75"/>
<rect x="626" y="37" width="1" height="1" fill="#2525b0" opacity="0.95"/>
<rect x="625" y="29" width="1" height="1" fill="#5050d0" opacity="0.5"/>
<rect x="614" y="43" width="1" height="1" fill="#3535c0" opacity="0.75"/>
<rect x="626" y="42" width="1" height="1" fill="#2525b0" opacity="0.95"/>
<rect x="609" y="35" width="1" height="1" fill="#2525b0" opacity="0.95"/>
<rect x="625" y="46" width="1" height="1" fill="#2525b0" opacity="0.95"/>
<rect x="605" y="39" width="1" height="1" fill="#3535c0" opacity="0.75"/>
<rect x="639" y="31" width="1" height="1" fill="#5050d0" opacity="0.5"/>
<rect x="618" y="32" width="1" height="1" fill="#3535c0" opacity="0.75"/>
<rect x="631" y="35" width="1" height="1" fill="#1a1a98"/>
<rect x="615" y="33" width="1" height="1" fill="#3535c0" opacity="0.75"/>
<rect x="628" y="31" width="1" height="1" fill="#2525b0" opacity="0.95"/>
<rect x="623" y="40" width="1" height="1" fill="#2525b0" opacity="0.95"/>
<rect x="608" y="43" width="1" height="1" fill="#2525b0" opacity="0.95"/>
<rect x="611" y="42" width="1" height="1" fill="#2525b0" opacity="0.95"/>
<rect x="633" y="43" width="1" height="1" fill="#2525b0" opacity="0.95"/>
<rect x="608" y="41" width="1" height="1" fill="#3535c0" opacity="0.75"/>
<rect x="603" y="33" width="1" height="1" fill="#5050d0" opacity="0.5"/>
<rect x="626" y="54" width="1" height="1" fill="#5050d0" opacity="0.5"/>
<rect x="632" y="42" width="1" height="1" fill="#2525b0" opacity="0.95"/>
<rect x="638" y="40" width="1" height="1" fill="#3535c0" opacity="0.75"/>
<rect x="633" y="32" width="1" height="1" fill="#5050d0" opacity="0.5"/>
<rect x="615" y="32" width="1" height="1" fill="#2525b0" opacity="0.95"/>
<rect x="608" y="44" width="1" height="1" fill="#5050d0" opacity="0.5"/>
<rect x="626" y="36" width="1" height="1" fill="#3535c0" opacity="0.75"/>
<rect x="609" y="32" width="1" height="1" fill="#5050d0" opacity="0.5"/>
<rect x="634" y="46" width="1" height="1" fill="#3535c0" opacity="0.75"/>
<rect x="602" y="34" width="1" height="1" fill="#5050d0" opacity="0.5"/>
<rect x="623" y="32" width="1" height="1" fill="#1a1a98"/>
<rect x="605" y="42" width="1" height="1" fill="#5050d0" opacity="0.5"/>
<rect x="606" y="46" width="1" height="1" fill="#3535c0" opacity="0.75"/>
<rect x="622" y="42" width="1" height="1" fill="#3535c0" opacity="0.75"/>
<rect x="606" y="41" width="1" height="1" fill="#5050d0" opacity="0.5"/>
<rect x="634" y="37" width="1" height="1" fill="#3535c0" opacity="0.75"/>
<rect x="596" y="38" width="1" height="1" fill="#3535c0" opacity="0.75"/>
<rect x="636" y="33" width="1" height="1" fill="#3535c0" opacity="0.75"/>
<rect x="618" y="29" width="1" height="1" fill="#5050d0" opacity="0.5"/>
<rect x="610" y="36" width="1" height="1" fill="#2525b0" opacity="0.95"/>
<rect x="609" y="41" width="1" height="1" fill="#2525b0" opacity="0.95"/>
<rect x="627" y="39" width="1" height="1" fill="#1a1a98"/>
<rect x="608" y="42" width="1" height="1" fill="#5050d0" opacity="0.5"/>
<rect x="618" y="47" width="1" height="1" fill="#5050d0" opacity="0.5"/>
<rect x="619" y="43" width="1" height="1" fill="#3535c0" opacity="0.75"/>
<rect x="613" y="41" width="1" height="1" fill="#2525b0" opacity="0.95"/>
<rect x="631" y="42" width="1" height="1" fill="#3535c0" opacity="0.75"/>
<rect x="619" y="37" width="1" height="1" fill="#1a1a98"/>
<rect x="607" y="39" width="1" height="1" fill="#2525b0" opacity="0.95"/>
<rect x="632" y="34" width="1" height="1" fill="#5050d0" opacity="0.5"/>
<rect x="620" y="34" width="1" height="1" fill="#3535c0" opacity="0.75"/>
<rect x="633" y="46" width="1" height="1" fill="#3535c0" opacity="0.75"/>
<rect x="635" y="34" width="1" height="1" fill="#5050d0" opacity="0.5"/>
<rect x="606" y="37" width="1" height="1" fill="#3535c0" opacity="0.75"/>
<rect x="622" y="43" width="1" height="1" fill="#5050d0" opacity="0.5"/>
<rect x="609" y="29" width="1" height="1" fill="#5050d0" opacity="0.5"/>
<rect x="630" y="30" width="1" height="1" fill="#5050d0" opacity="0.5"/>
<rect x="605" y="36" width="1" height="1" fill="#5050d0" opacity="0.5"/>
<rect x="596" y="33" width="1" height="1" fill="#5050d0" opacity="0.5"/>
<rect x="625" y="39" width="1" height="1" fill="#3535c0" opacity="0.75"/>
<rect x="631" y="30" width="1" height="1" fill="#3535c0" opacity="0.75"/>
<rect x="623" y="41" width="1" height="1" fill="#1a1a98"/>
<rect x="628" y="43" width="1" height="1" fill="#2525b0" opacity="0.95"/>
<rect x="634" y="40" width="1" height="1" fill="#1a1a98"/>
<rect x="637" y="40" width="1" height="1" fill="#1a1a98"/>
<rect x="607" y="50" width="1" height="1" fill="#5050d0" opacity="0.5"/>
<rect x="631" y="37" width="1" height="1" fill="#1a1a98"/>
<rect x="607" y="36" width="1" height="1" fill="#5050d0" opacity="0.5"/>
<rect x="615" y="46" width="1" height="1" fill="#5050d0" opacity="0.5"/>
<rect x="604" y="41" width="1" height="1" fill="#5050d0" opacity="0.5"/>
<rect x="613" y="47" width="1" height="1" fill="#5050d0" opacity="0.5"/>
<rect x="615" y="44" width="1" height="1" fill="#3535c0" opacity="0.75"/>
<rect x="608" y="35" width="1" height="1" fill="#3535c0" opacity="0.75"/>
<rect x="631" y="44" width="1" height="1" fill="#2525b0" opacity="0.95"/>
<rect x="609" y="37" width="1" height="1" fill="#2525b0" opacity="0.95"/>
<rect x="602" y="36" width="1" height="1" fill="#5050d0" opacity="0.5"/>
<rect x="620" y="37" width="1" height="1" fill="#1a1a98"/>
<rect x="605" y="43" width="1" height="1" fill="#5050d0" opacity="0.5"/>
<rect x="627" y="31" width="1" height="1" fill="#2525b0" opacity="0.95"/>
<rect x="633" y="41" width="1" height="1" fill="#1a1a98"/>
<rect x="632" y="39" width="1" height="1" fill="#1a1a98"/>
<rect x="610" y="34" width="1" height="1" fill="#2525b0" opacity="0.95"/>
<rect x="623" y="34" width="1" height="1" fill="#1a1a98"/>
<rect x="611" y="46" width="1" height="1" fill="#5050d0" opacity="0.5"/>
<rect x="627" y="32" width="1" height="1" fill="#5050d0" opacity="0.5"/>
<rect x="636" y="30" width="1" height="1" fill="#3535c0" opacity="0.75"/>
<rect x="620" y="46" width="1" height="1" fill="#5050d0" opacity="0.5"/>
<rect x="612" y="45" width="1" height="1" fill="#5050d0" opacity="0.5"/>
<rect x="611" y="31" width="1" height="1" fill="#5050d0" opacity="0.5"/>
<rect x="613" y="51" width="1" height="1" fill="#5050d0" opacity="0.5"/>
<rect x="607" y="46" width="1" height="1" fill="#5050d0" opacity="0.5"/>
<rect x="641" y="42" width="1" height="1" fill="#2525b0" opacity="0.95"/>
<rect x="621" y="45" width="1" height="1" fill="#5050d0" opacity="0.5"/>
<rect x="627" y="37" width="1" height="1" fill="#2525b0" opacity="0.95"/>
<rect x="612" y="41" width="1" height="1" fill="#1a1a98"/>
<rect x="610" y="40" width="1" height="1" fill="#3535c0" opacity="0.75"/>
<rect x="633" y="34" width="1" height="1" fill="#2525b0" opacity="0.95"/>
<rect x="634" y="31" width="1" height="1" fill="#3535c0" opacity="0.75"/>
<rect x="630" y="29" width="1" height="1" fill="#5050d0" opacity="0.5"/>
<rect x="623" y="44" width="1" height="1" fill="#2525b0" opacity="0.95"/>
<rect x="623" y="37" width="1" height="1" fill="#2525b0" opacity="0.95"/>
<rect x="618" y="46" width="1" height="1" fill="#2525b0" opacity="0.95"/>
<rect x="617" y="30" width="1" height="1" fill="#5050d0" opacity="0.5"/>
<rect x="604" y="44" width="1" height="1" fill="#5050d0" opacity="0.5"/>
<rect x="645" y="35" width="1" height="1" fill="#5050d0" opacity="0.5"/>
<rect x="613" y="35" width="1" height="1" fill="#2525b0" opacity="0.95"/>
<rect x="597" y="39" width="1" height="1" fill="#3535c0" opacity="0.75"/>
<rect x="601" y="33" width="1" height="1" fill="#5050d0" opacity="0.5"/>
<rect x="611" y="34" width="1" height="1" fill="#3535c0" opacity="0.75"/>
<rect x="618" y="48" width="1" height="1" fill="#5050d0" opacity="0.5"/>
<rect x="630" y="35" width="1" height="1" fill="#3535c0" opacity="0.75"/>
<rect x="627" y="33" width="1" height="1" fill="#5050d0" opacity="0.5"/>
<rect x="629" y="32" width="1" height="1" fill="#5050d0" opacity="0.5"/>
<rect x="606" y="48" width="1" height="1" fill="#5050d0" opacity="0.5"/>
<rect x="607" y="34" width="1" height="1" fill="#3535c0" opacity="0.75"/>
<rect x="607" y="47" width="1" height="1" fill="#5050d0" opacity="0.5"/>
<rect x="629" y="43" width="1" height="1" fill="#2525b0" opacity="0.95"/>
<rect x="631" y="36" width="1" height="1" fill="#2525b0" opacity="0.95"/>
<rect x="628" y="30" width="1" height="1" fill="#5050d0" opacity="0.5"/>
<rect x="602" y="38" width="1" height="1" fill="#5050d0" opacity="0.5"/>
<rect x="622" y="33" width="1" height="1" fill="#3535c0" opacity="0.75"/>
<rect x="628" y="48" width="1" height="1" fill="#2525b0" opacity="0.95"/>
<rect x="630" y="32" width="1" height="1" fill="#5050d0" opacity="0.5"/>
<rect x="616" y="34" width="1" height="1" fill="#3535c0" opacity="0.75"/>
<rect x="607" y="43" width="1" height="1" fill="#5050d0" opacity="0.5"/>
<rect x="630" y="41" width="1" height="1" fill="#2525b0" opacity="0.95"/>
<rect x="610" y="33" width="1" height="1" fill="#5050d0" opacity="0.5"/>
<rect x="635" y="48" width="1" height="1" fill="#5050d0" opacity="0.5"/>
<rect x="608" y="36" width="1" height="1" fill="#2525b0" opacity="0.95"/>
<rect x="621" y="31" width="1" height="1" fill="#5050d0" opacity="0.5"/>
<rect x="611" y="29" width="1" height="1" fill="#3535c0" opacity="0.75"/>
<rect x="611" y="49" width="1" height="1" fill="#3535c0" opacity="0.75"/>
<rect x="631" y="43" width="1" height="1" fill="#5050d0" opacity="0.5"/>
<rect x="609" y="43" width="1" height="1" fill="#5050d0" opacity="0.5"/>
<rect x="635" y="37" width="1" height="1" fill="#3535c0" opacity="0.75"/>
<rect x="629" y="30" width="1" height="1" fill="#5050d0" opacity="0.5"/>
<rect x="621" y="46" width="1" height="1" fill="#5050d0" opacity="0.5"/>
<rect x="636" y="34" width="1" height="1" fill="#5050d0" opacity="0.5"/>
<rect x="628" y="41" width="1" height="1" fill="#2525b0" opacity="0.95"/>
<rect x="616" y="31" width="1" height="1" fill="#3535c0" opacity="0.75"/>
<rect x="611" y="47" width="1" height="1" fill="#5050d0" opacity="0.5"/>
<rect x="627" y="44" width="1" height="1" fill="#3535c0" opacity="0.75"/>
<rect x="634" y="35" width="1" height="1" fill="#5050d0" opacity="0.5"/>
<rect x="606" y="36" width="1" height="1" fill="#3535c0" opacity="0.75"/>
<rect x="613" y="31" width="1" height="1" fill="#5050d0" opacity="0.5"/>
<rect x="619" y="30" width="1" height="1" fill="#5050d0" opacity="0.5"/>
<rect x="607" y="40" width="1" height="1" fill="#5050d0" opacity="0.5"/>
<rect x="623" y="45" width="1" height="1" fill="#2525b0" opacity="0.95"/>
<rect x="608" y="39" width="1" height="1" fill="#5050d0" opacity="0.5"/>
<rect x="639" y="34" width="1" height="1" fill="#5050d0" opacity="0.5"/>
<rect x="617" y="44" width="1" height="1" fill="#5050d0" opacity="0.5"/>
<rect x="633" y="31" width="1" height="1" fill="#5050d0" opacity="0.5"/>
<rect x="604" y="39" width="1" height="1" fill="#5050d0" opacity="0.5"/>
<rect x="612" y="46" width="1" height="1" fill="#5050d0" opacity="0.5"/>
<rect x="615" y="45" width="1" height="1" fill="#3535c0" opacity="0.75"/>
<rect x="605" y="31" width="1" height="1" fill="#5050d0" opacity="0.5"/>
<rect x="616" y="46" width="1" height="1" fill="#3535c0" opacity="0.75"/>
<rect x="635" y="39" width="1" height="1" fill="#1a1a98"/>
<rect x="628" y="29" width="1" height="1" fill="#5050d0" opacity="0.5"/>
<rect x="631" y="32" width="1" height="1" fill="#5050d0" opacity="0.5"/>
<rect x="639" y="37" width="1" height="1" fill="#2525b0" opacity="0.95"/>
<rect x="641" y="44" width="1" height="1" fill="#3535c0" opacity="0.75"/>
<rect x="635" y="40" width="1" height="1" fill="#3535c0" opacity="0.75"/>
<rect x="637" y="42" width="1" height="1" fill="#1a1a98"/>
<rect x="636" y="43" width="1" height="1" fill="#1a1a98"/>
<rect x="633" y="42" width="1" height="1" fill="#1a1a98"/>
<rect x="637" y="39" width="1" height="1" fill="#3535c0" opacity="0.75"/>
<rect x="629" y="44" width="1" height="1" fill="#2525b0" opacity="0.95"/>
<rect x="641" y="33" width="1" height="1" fill="#5050d0" opacity="0.5"/>
<rect x="635" y="44" width="1" height="1" fill="#2525b0" opacity="0.95"/>
<rect x="639" y="39" width="1" height="1" fill="#3535c0" opacity="0.75"/>
<rect x="632" y="40" width="1" height="1" fill="#2525b0" opacity="0.95"/>
<rect x="636" y="42" width="1" height="1" fill="#1a1a98"/>
<rect x="636" y="45" width="1" height="1" fill="#2525b0" opacity="0.95"/>
<rect x="634" y="44" width="1" height="1" fill="#3535c0" opacity="0.75"/>
<rect x="638" y="41" width="1" height="1" fill="#2525b0" opacity="0.95"/>
<rect x="644" y="45" width="1" height="1" fill="#3535c0" opacity="0.75"/>
<rect x="637" y="38" width="1" height="1" fill="#3535c0" opacity="0.75"/>
<rect x="639" y="35" width="1" height="1" fill="#3535c0" opacity="0.75"/>
<rect x="629" y="48" width="1" height="1" fill="#3535c0" opacity="0.75"/>
<rect x="630" y="43" width="1" height="1" fill="#1a1a98"/>
<rect x="638" y="38" width="1" height="1" fill="#5050d0" opacity="0.5"/>
<rect x="634" y="43" width="1" height="1" fill="#3535c0" opacity="0.75"/>
<rect x="635" y="41" width="1" height="1" fill="#1a1a98"/>
<rect x="636" y="40" width="1" height="1" fill="#1a1a98"/>
<rect x="644" y="42" width="1" height="1" fill="#3535c0" opacity="0.75"/>
<rect x="636" y="44" width="1" height="1" fill="#2525b0" opacity="0.95"/>
<rect x="631" y="46" width="1" height="1" fill="#3535c0" opacity="0.75"/>
<rect x="642" y="39" width="1" height="1" fill="#5050d0" opacity="0.5"/>
<rect x="630" y="45" width="1" height="1" fill="#2525b0" opacity="0.95"/>
<rect x="642" y="42" width="1" height="1" fill="#5050d0" opacity="0.5"/>
<rect x="637" y="35" width="1" height="1" fill="#5050d0" opacity="0.5"/>
<rect x="642" y="43" width="1" height="1" fill="#1a1a98"/>
<rect x="636" y="41" width="1" height="1" fill="#1a1a98"/>
<rect x="629" y="45" width="1" height="1" fill="#3535c0" opacity="0.75"/>
<rect x="641" y="37" width="1" height="1" fill="#2525b0" opacity="0.95"/>
<rect x="635" y="36" width="1" height="1" fill="#5050d0" opacity="0.5"/>
<rect x="640" y="37" width="1" height="1" fill="#5050d0" opacity="0.5"/>
<rect x="629" y="39" width="1" height="1" fill="#3535c0" opacity="0.75"/>
<rect x="635" y="43" width="1" height="1" fill="#1a1a98"/>
<rect x="633" y="39" width="1" height="1" fill="#3535c0" opacity="0.75"/>
<rect x="637" y="37" width="1" height="1" fill="#2525b0" opacity="0.95"/>
<rect x="643" y="47" width="1" height="1" fill="#5050d0" opacity="0.5"/>
<rect x="632" y="48" width="1" height="1" fill="#5050d0" opacity="0.5"/>
<rect x="632" y="37" width="1" height="1" fill="#3535c0" opacity="0.75"/>
<rect x="634" y="38" width="1" height="1" fill="#2525b0" opacity="0.95"/>
<rect x="635" y="35" width="1" height="1" fill="#5050d0" opacity="0.5"/>
<rect x="640" y="44" width="1" height="1" fill="#5050d0" opacity="0.5"/>
<rect x="632" y="43" width="1" height="1" fill="#2525b0" opacity="0.95"/>
<rect x="640" y="39" width="1" height="1" fill="#3535c0" opacity="0.75"/>
<rect x="638" y="39" width="1" height="1" fill="#2525b0" opacity="0.95"/>
<rect x="639" y="45" width="1" height="1" fill="#2525b0" opacity="0.95"/>
<rect x="639" y="38" width="1" height="1" fill="#2525b0" opacity="0.95"/>
<rect x="641" y="39" width="1" height="1" fill="#2525b0" opacity="0.95"/>
<rect x="638" y="50" width="1" height="1" fill="#5050d0" opacity="0.5"/>
<rect x="650" y="41" width="1" height="1" fill="#5050d0" opacity="0.5"/>
<rect x="640" y="47" width="1" height="1" fill="#2525b0" opacity="0.95"/>
<rect x="642" y="44" width="1" height="1" fill="#2525b0" opacity="0.95"/>
<rect x="644" y="38" width="1" height="1" fill="#2525b0" opacity="0.95"/>
<rect x="633" y="45" width="1" height="1" fill="#5050d0" opacity="0.5"/>
<rect x="640" y="38" width="1" height="1" fill="#3535c0" opacity="0.75"/>
<rect x="640" y="41" width="1" height="1" fill="#3535c0" opacity="0.75"/>
<rect x="644" y="41" width="1" height="1" fill="#2525b0" opacity="0.95"/>
<rect x="636" y="39" width="1" height="1" fill="#3535c0" opacity="0.75"/>
<rect x="644" y="40" width="1" height="1" fill="#3535c0" opacity="0.75"/>
<rect x="629" y="46" width="1" height="1" fill="#2525b0" opacity="0.95"/>
<rect x="643" y="44" width="1" height="1" fill="#3535c0" opacity="0.75"/>
<rect x="639" y="41" width="1" height="1" fill="#5050d0" opacity="0.5"/>
<rect x="631" y="45" width="1" height="1" fill="#2525b0" opacity="0.95"/>
<rect x="637" y="41" width="1" height="1" fill="#3535c0" opacity="0.75"/>
<rect x="638" y="35" width="1" height="1" fill="#5050d0" opacity="0.5"/>
<rect x="647" y="37" width="1" height="1" fill="#5050d0" opacity="0.5"/>
<rect x="642" y="37" width="1" height="1" fill="#5050d0" opacity="0.5"/>
<rect x="627" y="46" width="1" height="1" fill="#3535c0" opacity="0.75"/>
<rect x="643" y="39" width="1" height="1" fill="#5050d0" opacity="0.5"/>
<rect x="639" y="40" width="1" height="1" fill="#5050d0" opacity="0.5"/>
<rect x="641" y="41" width="1" height="1" fill="#5050d0" opacity="0.5"/>
<rect x="629" y="40" width="1" height="1" fill="#5050d0" opacity="0.5"/>
<rect x="638" y="44" width="1" height="1" fill="#2525b0" opacity="0.95"/>
<rect x="637" y="44" width="1" height="1" fill="#3535c0" opacity="0.75"/>
<rect x="643" y="37" width="1" height="1" fill="#5050d0" opacity="0.5"/>
<rect x="641" y="38" width="1" height="1" fill="#2525b0" opacity="0.95"/>
<rect x="639" y="42" width="1" height="1" fill="#5050d0" opacity="0.5"/>
<rect x="645" y="41" width="1" height="1" fill="#3535c0" opacity="0.75"/>
<rect x="608" y="40" width="1" height="1" fill="#5050d0" opacity="0.5"/>
<rect x="600" y="38" width="1" height="1" fill="#5050d0" opacity="0.5"/>
<rect x="655" y="30" width="1" height="1" fill="#5050d0" opacity="0.5"/>
<rect x="639" y="47" width="1" height="1" fill="#5050d0" opacity="0.5"/>
<rect x="605" y="44" width="1" height="1" fill="#5050d0" opacity="0.5"/>
<rect x="637" y="51" width="1" height="1" fill="#5050d0" opacity="0.5"/>
<rect x="649" y="46" width="1" height="1" fill="#5050d0" opacity="0.5"/>
<rect x="629" y="56" width="1" height="1" fill="#5050d0" opacity="0.5"/>
<rect x="610" y="52" width="1" height="1" fill="#5050d0" opacity="0.5"/>
<rect x="620" y="61" width="1" height="1" fill="#5050d0" opacity="0.5"/>
<rect x="595" y="46" width="1" height="1" fill="#3535c0" opacity="0.75"/>
<rect x="637" y="33" width="1" height="1" fill="#5050d0" opacity="0.5"/>
<rect x="593" y="36" width="1" height="1" fill="#5050d0" opacity="0.5"/>
<rect x="639" y="50" width="1" height="1" fill="#5050d0" opacity="0.5"/>
<rect x="596" y="46" width="1" height="1" fill="#5050d0" opacity="0.5"/>
<rect x="651" y="56" width="1" height="1" fill="#5050d0" opacity="0.5"/>
<rect x="599" y="30" width="1" height="1" fill="#5050d0" opacity="0.5"/>
<rect x="604" y="50" width="1" height="1" fill="#5050d0" opacity="0.5"/>
<rect x="613" y="52" width="1" height="1" fill="#3535c0" opacity="0.75"/>
<rect x="635" y="54" width="1" height="1" fill="#5050d0" opacity="0.5"/>
<rect x="596" y="41" width="1" height="1" fill="#5050d0" opacity="0.5"/>
<rect x="650" y="42" width="1" height="1" fill="#5050d0" opacity="0.5"/>
<rect x="595" y="42" width="1" height="1" fill="#5050d0" opacity="0.5"/>
<rect x="633" y="56" width="1" height="1" fill="#5050d0" opacity="0.5"/>
<rect x="615" y="47" width="1" height="1" fill="#5050d0" opacity="0.5"/>
<rect x="579" y="43" width="1" height="1" fill="#5050d0" opacity="0.5"/>
<rect x="635" y="45" width="1" height="1" fill="#5050d0" opacity="0.5"/>
<rect x="581" y="43" width="1" height="1" fill="#5050d0" opacity="0.5"/>
<rect x="594" y="42" width="1" height="1" fill="#5050d0" opacity="0.5"/>
<rect x="669" y="46" width="1" height="1" fill="#5050d0" opacity="0.5"/>
<rect x="578" y="49" width="1" height="1" fill="#5050d0" opacity="0.5"/>
<rect x="602" y="43" width="1" height="1" fill="#5050d0" opacity="0.5"/>
<rect x="659" y="33" width="1" height="1" fill="#5050d0" opacity="0.5"/>
<rect x="652" y="38" width="1" height="1" fill="#5050d0" opacity="0.5"/>
<rect x="601" y="37" width="1" height="1" fill="#5050d0" opacity="0.5"/>
<rect x="609" y="36" width="1" height="1" fill="#5050d0" opacity="0.5"/>
<rect x="600" y="42" width="1" height="1" fill="#5050d0" opacity="0.5"/>
<rect x="655" y="43" width="1" height="1" fill="#5050d0" opacity="0.5"/>
<rect x="650" y="38" width="1" height="1" fill="#5050d0" opacity="0.5"/>
<rect x="643" y="42" width="1" height="1" fill="#5050d0" opacity="0.5"/>
<rect x="620" y="62" width="1" height="1" fill="#3535c0" opacity="0.75"/>
<rect x="624" y="50" width="1" height="1" fill="#5050d0" opacity="0.5"/>
<rect x="630" y="46" width="1" height="1" fill="#5050d0" opacity="0.5"/>
<rect x="614" y="51" width="1" height="1" fill="#5050d0" opacity="0.5"/>
<rect x="644" y="53" width="1" height="1" fill="#3535c0" opacity="0.75"/>
<rect x="603" y="34" width="1" height="1" fill="#5050d0" opacity="0.5"/>
<rect x="615" y="59" width="1" height="1" fill="#5050d0" opacity="0.5"/>
<rect x="616" y="57" width="1" height="1" fill="#5050d0" opacity="0.5"/>
<rect x="609" y="53" width="1" height="1" fill="#5050d0" opacity="0.5"/>
<rect x="650" y="34" width="1" height="1" fill="#5050d0" opacity="0.5"/>
<rect x="599" y="33" width="1" height="1" fill="#5050d0" opacity="0.5"/>
<rect x="640" y="53" width="1" height="1" fill="#5050d0" opacity="0.5"/>
<rect x="599" y="45" width="1" height="1" fill="#5050d0" opacity="0.5"/>
<rect x="615" y="58" width="1" height="1" fill="#5050d0" opacity="0.5"/>
<rect x="598" y="31" width="1" height="1" fill="#5050d0" opacity="0.5"/>
<rect x="639" y="46" width="1" height="1" fill="#5050d0" opacity="0.5"/>
<rect x="619" y="49" width="1" height="1" fill="#5050d0" opacity="0.5"/>
<rect x="649" y="51" width="1" height="1" fill="#5050d0" opacity="0.5"/>
<rect x="645" y="31" width="1" height="1" fill="#5050d0" opacity="0.5"/>
<rect x="610" y="43" width="1" height="1" fill="#5050d0" opacity="0.5"/>
<rect x="597" y="46" width="1" height="1" fill="#5050d0" opacity="0.5"/>
<rect x="642" y="35" width="1" height="1" fill="#5050d0" opacity="0.5"/>
<rect x="648" y="39" width="1" height="1" fill="#5050d0" opacity="0.5"/>
<rect x="624" y="33" width="1" height="1" fill="#5050d0" opacity="0.5"/>
<rect x="620" y="48" width="1" height="1" fill="#5050d0" opacity="0.5"/>
<rect x="598" y="36" width="1" height="1" fill="#5050d0" opacity="0.5"/>
<rect x="594" y="52" width="1" height="1" fill="#5050d0" opacity="0.5"/>
<rect x="602" y="29" width="1" height="1" fill="#5050d0" opacity="0.5"/>
<rect x="578" y="42" width="1" height="1" fill="#5050d0" opacity="0.5"/>
<rect x="608" y="58" width="1" height="1" fill="#5050d0" opacity="0.5"/>
<rect x="582" y="52" width="1" height="1" fill="#5050d0" opacity="0.5"/>
<rect x="598" y="53" width="1" height="1" fill="#5050d0" opacity="0.5"/>
<rect x="588" y="41" width="1" height="1" fill="#5050d0" opacity="0.5"/>
<rect x="645" y="55" width="1" height="1" fill="#5050d0" opacity="0.5"/>
<rect x="621" y="50" width="1" height="1" fill="#2525b0" opacity="0.95"/>
<rect x="631" y="52" width="1" height="1" fill="#5050d0" opacity="0.5"/>
<rect x="637" y="31" width="1" height="1" fill="#5050d0" opacity="0.5"/>
<rect x="606" y="45" width="1" height="1" fill="#5050d0" opacity="0.5"/>
<rect x="632" y="54" width="1" height="1" fill="#5050d0" opacity="0.5"/>
<rect x="606" y="44" width="1" height="1" fill="#5050d0" opacity="0.5"/>
<rect x="602" y="41" width="1" height="1" fill="#5050d0" opacity="0.5"/>
<rect x="633" y="55" width="1" height="1" fill="#5050d0" opacity="0.5"/>
<rect x="645" y="38" width="1" height="1" fill="#3535c0" opacity="0.75"/>
<rect x="617" y="56" width="1" height="1" fill="#5050d0" opacity="0.5"/>
<rect x="628" y="46" width="1" height="1" fill="#2525b0" opacity="0.95"/>
<rect x="632" y="47" width="1" height="1" fill="#5050d0" opacity="0.5"/>
<rect x="596" y="57" width="1" height="1" fill="#5050d0" opacity="0.5"/>
<rect x="603" y="41" width="1" height="1" fill="#3535c0" opacity="0.75"/>
<rect x="595" y="47" width="1" height="1" fill="#5050d0" opacity="0.5"/>
<rect x="655" y="33" width="1" height="1" fill="#5050d0" opacity="0.5"/>
<rect x="636" y="46" width="1" height="1" fill="#5050d0" opacity="0.5"/>
<rect x="621" y="47" width="1" height="1" fill="#5050d0" opacity="0.5"/>
<rect x="634" y="52" width="1" height="1" fill="#3535c0" opacity="0.75"/>
<rect x="627" y="49" width="1" height="1" fill="#3535c0" opacity="0.75"/>
<rect x="607" y="52" width="1" height="1" fill="#3535c0" opacity="0.75"/>
<rect x="637" y="36" width="1" height="1" fill="#5050d0" opacity="0.5"/>
<rect x="619" y="47" width="1" height="1" fill="#3535c0" opacity="0.75"/>
<rect x="638" y="47" width="1" height="1" fill="#5050d0" opacity="0.5"/>
<rect x="637" y="57" width="1" height="1" fill="#5050d0" opacity="0.5"/>
<rect x="615" y="31" width="1" height="1" fill="#5050d0" opacity="0.5"/>
<rect x="617" y="55" width="1" height="1" fill="#5050d0" opacity="0.5"/>
<rect x="633" y="51" width="1" height="1" fill="#5050d0" opacity="0.5"/>
<rect x="609" y="39" width="1" height="1" fill="#5050d0" opacity="0.5"/>
<rect x="594" y="43" width="1" height="1" fill="#5050d0" opacity="0.5"/>
<rect x="622" y="46" width="1" height="1" fill="#3535c0" opacity="0.75"/>
<rect x="636" y="47" width="1" height="1" fill="#5050d0" opacity="0.5"/>
<rect x="620" y="47" width="1" height="1" fill="#5050d0" opacity="0.5"/>
<rect x="646" y="34" width="1" height="1" fill="#5050d0" opacity="0.5"/>
<rect x="574" y="40" width="1" height="1" fill="#5050d0" opacity="0.5"/>
<rect x="623" y="48" width="1" height="1" fill="#5050d0" opacity="0.5"/>
<rect x="636" y="32" width="1" height="1" fill="#5050d0" opacity="0.5"/>
<rect x="625" y="52" width="1" height="1" fill="#5050d0" opacity="0.5"/>
<rect x="610" y="49" width="1" height="1" fill="#5050d0" opacity="0.5"/>
<rect x="647" y="45" width="1" height="1" fill="#5050d0" opacity="0.5"/>
<rect x="639" y="36" width="1" height="1" fill="#5050d0" opacity="0.5"/>
<rect x="659" y="38" width="1" height="1" fill="#5050d0" opacity="0.5"/>
<rect x="602" y="49" width="1" height="1" fill="#5050d0" opacity="0.5"/>
<rect x="638" y="46" width="1" height="1" fill="#5050d0" opacity="0.5"/>
<rect x="645" y="40" width="1" height="1" fill="#5050d0" opacity="0.5"/>
<rect x="659" y="37" width="1" height="1" fill="#5050d0" opacity="0.5"/>
<rect x="665" y="33" width="1" height="1" fill="#5050d0" opacity="0.5"/>
<rect x="638" y="36" width="1" height="1" fill="#5050d0" opacity="0.5"/>
<rect x="587" y="44" width="1" height="1" fill="#5050d0" opacity="0.5"/>
<rect x="635" y="55" width="1" height="1" fill="#5050d0" opacity="0.5"/>
<rect x="630" y="52" width="1" height="1" fill="#5050d0" opacity="0.5"/>
<rect x="625" y="45" width="1" height="1" fill="#5050d0" opacity="0.5"/>
<rect x="598" y="39" width="1" height="1" fill="#5050d0" opacity="0.5"/>
<rect x="653" y="46" width="1" height="1" fill="#5050d0" opacity="0.5"/>
<rect x="618" y="30" width="1" height="1" fill="#5050d0" opacity="0.5"/>
<rect x="623" y="51" width="1" height="1" fill="#5050d0" opacity="0.5"/>
<rect x="637" y="43" width="1" height="1" fill="#5050d0" opacity="0.5"/>
<rect x="651" y="49" width="1" height="1" fill="#5050d0" opacity="0.5"/>
<rect x="636" y="56" width="1" height="1" fill="#5050d0" opacity="0.5"/>
<rect x="611" y="58" width="1" height="1" fill="#5050d0" opacity="0.5"/>
<rect x="608" y="54" width="1" height="1" fill="#5050d0" opacity="0.5"/>
<rect x="637" y="32" width="1" height="1" fill="#5050d0" opacity="0.5"/>
<rect x="634" y="33" width="1" height="1" fill="#5050d0" opacity="0.5"/>
<rect x="604" y="56" width="1" height="1" fill="#5050d0" opacity="0.5"/>
<rect x="621" y="58" width="1" height="1" fill="#5050d0" opacity="0.5"/>
<rect x="662" y="47" width="1" height="1" fill="#5050d0" opacity="0.5"/>
<rect x="611" y="35" width="1" height="1" fill="#5050d0" opacity="0.5"/>
<rect x="648" y="46" width="1" height="1" fill="#5050d0" opacity="0.5"/>
<rect x="642" y="53" width="1" height="1" fill="#5050d0" opacity="0.5"/>
<rect x="667" y="36" width="1" height="1" fill="#5050d0" opacity="0.5"/>
<rect x="648" y="48" width="1" height="1" fill="#5050d0" opacity="0.5"/>
<rect x="636" y="52" width="1" height="1" fill="#5050d0" opacity="0.5"/>
<rect x="625" y="57" width="1" height="1" fill="#5050d0" opacity="0.5"/>
<rect x="612" y="57" width="1" height="1" fill="#5050d0" opacity="0.5"/>
<rect x="635" y="33" width="1" height="1" fill="#5050d0" opacity="0.5"/>
<rect x="647" y="32" width="1" height="1" fill="#5050d0" opacity="0.5"/>
<rect x="639" y="43" width="1" height="1" fill="#5050d0" opacity="0.5"/>
<rect x="622" y="53" width="1" height="1" fill="#5050d0" opacity="0.5"/>
<rect x="624" y="51" width="1" height="1" fill="#5050d0" opacity="0.5"/>
<rect x="623" y="57" width="1" height="1" fill="#5050d0" opacity="0.5"/>
<rect x="642" y="32" width="1" height="1" fill="#5050d0" opacity="0.5"/>
<rect x="637" y="46" width="1" height="1" fill="#5050d0" opacity="0.5"/>
<rect x="612" y="53" width="1" height="1" fill="#5050d0" opacity="0.5"/>
<rect x="647" y="40" width="1" height="1" fill="#5050d0" opacity="0.5"/>
<rect x="625" y="32" width="1" height="1" fill="#5050d0" opacity="0.5"/>
<rect x="604" y="57" width="1" height="1" fill="#5050d0" opacity="0.5"/>
<rect x="602" y="64" width="1" height="1" fill="#5050d0" opacity="0.5"/>
<rect x="620" y="30" width="1" height="1" fill="#5050d0" opacity="0.5"/>
<rect x="650" y="43" width="1" height="1" fill="#5050d0" opacity="0.5"/>
<rect x="634" y="54" width="1" height="1" fill="#5050d0" opacity="0.5"/>
<rect x="648" y="40" width="1" height="1" fill="#5050d0" opacity="0.5"/>
<rect x="600" y="35" width="1" height="1" fill="#5050d0" opacity="0.5"/>
<rect x="621" y="49" width="1" height="1" fill="#5050d0" opacity="0.5"/>
<rect x="613" y="44" width="1" height="1" fill="#5050d0" opacity="0.5"/>
<rect x="609" y="30" width="1" height="1" fill="#5050d0" opacity="0.5"/>
<rect x="605" y="35" width="1" height="1" fill="#5050d0" opacity="0.5"/>
<rect x="598" y="43" width="1" height="1" fill="#5050d0" opacity="0.5"/>
<rect x="631" y="60" width="1" height="1" fill="#5050d0" opacity="0.5"/>
<rect x="603" y="47" width="1" height="1" fill="#5050d0" opacity="0.5"/>
<rect x="616" y="51" width="1" height="1" fill="#5050d0" opacity="0.5"/>
<rect x="585" y="41" width="1" height="1" fill="#5050d0" opacity="0.5"/>
<rect x="601" y="50" width="1" height="1" fill="#5050d0" opacity="0.5"/>
<rect x="672" y="59" width="1" height="1" fill="#5050d0" opacity="0.5"/>
<rect x="597" y="51" width="1" height="1" fill="#5050d0" opacity="0.5"/>
<rect x="653" y="32" width="1" height="1" fill="#5050d0" opacity="0.5"/>
<rect x="629" y="49" width="1" height="1" fill="#5050d0" opacity="0.5"/>
<rect x="672" y="86" width="1" height="1" fill="#5050d0" opacity="0.5"/>
<rect x="653" y="81" width="1" height="1" fill="#5050d0" opacity="0.5"/>
<rect x="596" y="40" width="1" height="1" fill="#5050d0" opacity="0.5"/>
<rect x="648" y="56" width="1" height="1" fill="#5050d0" opacity="0.5"/>
<rect x="639" y="77" width="1" height="1" fill="#5050d0" opacity="0.5"/>
<rect x="592" y="54" width="1" height="1" fill="#5050d0" opacity="0.5"/>
<rect x="593" y="74" width="1" height="1" fill="#5050d0" opacity="0.5"/>
<rect x="615" y="78" width="1" height="1" fill="#5050d0" opacity="0.5"/>
<rect x="674" y="58" width="1" height="1" fill="#5050d0" opacity="0.5"/>
<rect x="677" y="73" width="1" height="1" fill="#5050d0" opacity="0.5"/>
<rect x="567" y="40" width="1" height="1" fill="#5050d0" opacity="0.5"/>
<rect x="657" y="70" width="1" height="1" fill="#5050d0" opacity="0.5"/>
<rect x="594" y="98" width="1" height="1" fill="#5050d0" opacity="0.5"/>
<rect x="592" y="31" width="1" height="1" fill="#5050d0" opacity="0.5"/>
<rect x="603" y="74" width="1" height="1" fill="#5050d0" opacity="0.5"/>
<rect x="671" y="54" width="1" height="1" fill="#5050d0" opacity="0.5"/>
<rect x="643" y="61" width="1" height="1" fill="#5050d0" opacity="0.5"/>
<rect x="682" y="37" width="1" height="1" fill="#5050d0" opacity="0.5"/>
<rect x="629" y="68" width="1" height="1" fill="#5050d0" opacity="0.5"/>
<rect x="644" y="64" width="1" height="1" fill="#5050d0" opacity="0.5"/>
<rect x="623" y="61" width="1" height="1" fill="#5050d0" opacity="0.5"/>
<rect x="673" y="51" width="1" height="1" fill="#5050d0" opacity="0.5"/>
<rect x="577" y="63" width="1" height="1" fill="#5050d0" opacity="0.5"/>
<rect x="584" y="37" width="1" height="1" fill="#5050d0" opacity="0.5"/>
<rect x="580" y="45" width="1" height="1" fill="#5050d0" opacity="0.5"/>
<rect x="636" y="71" width="1" height="1" fill="#5050d0" opacity="0.5"/>
<rect x="663" y="33" width="1" height="1" fill="#5050d0" opacity="0.5"/>
<rect x="629" y="76" width="1" height="1" fill="#5050d0" opacity="0.5"/>
<rect x="608" y="74" width="1" height="1" fill="#5050d0" opacity="0.5"/>
<rect x="601" y="34" width="1" height="1" fill="#5050d0" opacity="0.5"/>
<rect x="618" y="53" width="1" height="1" fill="#5050d0" opacity="0.5"/>
<rect x="621" y="77" width="1" height="1" fill="#5050d0" opacity="0.5"/>
<rect x="632" y="59" width="1" height="1" fill="#5050d0" opacity="0.5"/>
<rect x="585" y="42" width="1" height="1" fill="#5050d0" opacity="0.5"/>
<rect x="657" y="60" width="1" height="1" fill="#5050d0" opacity="0.5"/>
<rect x="605" y="45" width="1" height="1" fill="#5050d0" opacity="0.5"/>
<rect x="618" y="66" width="1" height="1" fill="#5050d0" opacity="0.5"/>
<rect x="597" y="77" width="1" height="1" fill="#5050d0" opacity="0.5"/>
<rect x="618" y="60" width="1" height="1" fill="#5050d0" opacity="0.5"/>
<rect x="592" y="61" width="1" height="1" fill="#5050d0" opacity="0.5"/>
<rect x="580" y="61" width="1" height="1" fill="#5050d0" opacity="0.5"/>
<rect x="577" y="70" width="1" height="1" fill="#5050d0" opacity="0.5"/>
<rect x="609" y="47" width="1" height="1" fill="#5050d0" opacity="0.5"/>
<rect x="622" y="51" width="1" height="1" fill="#5050d0" opacity="0.5"/>
<rect x="645" y="52" width="1" height="1" fill="#5050d0" opacity="0.5"/>
<rect x="675" y="78" width="1" height="1" fill="#5050d0" opacity="0.5"/>
<rect x="681" y="57" width="1" height="1" fill="#5050d0" opacity="0.5"/>
<rect x="601" y="65" width="1" height="1" fill="#5050d0" opacity="0.5"/>
<rect x="599" y="48" width="1" height="1" fill="#5050d0" opacity="0.5"/>
<rect x="646" y="30" width="1" height="1" fill="#5050d0" opacity="0.5"/>
<rect x="593" y="49" width="1" height="1" fill="#5050d0" opacity="0.5"/>
<rect x="658" y="63" width="1" height="1" fill="#5050d0" opacity="0.5"/>
<rect x="655" y="49" width="1" height="1" fill="#5050d0" opacity="0.5"/>
<rect x="591" y="45" width="1" height="1" fill="#5050d0" opacity="0.5"/>
<rect x="646" y="48" width="1" height="1" fill="#5050d0" opacity="0.5"/>
<rect x="668" y="64" width="1" height="1" fill="#5050d0" opacity="0.5"/>
<rect x="637" y="62" width="1" height="1" fill="#5050d0" opacity="0.5"/>
<rect x="613" y="55" width="1" height="1" fill="#5050d0" opacity="0.5"/>
<rect x="638" y="43" width="1" height="1" fill="#5050d0" opacity="0.5"/>
<rect x="615" y="66" width="1" height="1" fill="#5050d0" opacity="0.5"/>
<rect x="599" y="60" width="1" height="1" fill="#5050d0" opacity="0.5"/>
<rect x="592" y="30" width="1" height="1" fill="#5050d0" opacity="0.5"/>
<rect x="641" y="78" width="1" height="1" fill="#5050d0" opacity="0.5"/>
<rect x="594" y="56" width="1" height="1" fill="#5050d0" opacity="0.5"/>
<rect x="564" y="68" width="1" height="1" fill="#5050d0" opacity="0.5"/>
<rect x="626" y="60" width="1" height="1" fill="#5050d0" opacity="0.5"/>
<rect x="653" y="51" width="1" height="1" fill="#5050d0" opacity="0.5"/>
<rect x="640" y="66" width="1" height="1" fill="#5050d0" opacity="0.5"/>
<rect x="641" y="46" width="1" height="1" fill="#5050d0" opacity="0.5"/>
<rect x="614" y="30" width="1" height="1" fill="#5050d0" opacity="0.5"/>
<rect x="590" y="40" width="1" height="1" fill="#5050d0" opacity="0.5"/>
<rect x="586" y="66" width="1" height="1" fill="#5050d0" opacity="0.5"/>
<rect x="655" y="68" width="1" height="1" fill="#5050d0" opacity="0.5"/>
<rect x="634" y="56" width="1" height="1" fill="#5050d0" opacity="0.5"/>
<rect x="629" y="54" width="1" height="1" fill="#5050d0" opacity="0.5"/>
<rect x="647" y="46" width="1" height="1" fill="#5050d0" opacity="0.5"/>
<rect x="613" y="61" width="1" height="1" fill="#5050d0" opacity="0.5"/>
<rect x="629" y="69" width="1" height="1" fill="#5050d0" opacity="0.5"/>
</g>
<path d="M566.3,209.4 A59.2,59.2 0 0 1 684.7,209.4" fill="none" stroke="#707070" stroke-width="0.9"/>
<g filter="url(#blur03)">
<rect x="608" y="150" width="1" height="1" fill="#5050d0" opacity="0.5"/>
<rect x="618" y="174" width="1" height="1" fill="#5050d0" opacity="0.5"/>
<rect x="655" y="165" width="1" height="1" fill="#5050d0" opacity="0.5"/>
<rect x="635" y="177" width="1" height="1" fill="#5050d0" opacity="0.5"/>
</g>
<text x="286.4" y="98.2" font-size="11.2" font-weight="normal" text-anchor="start" fill="#000" >bin 1</text>
<text x="292.6" y="207.9" font-size="11.2" font-weight="normal" text-anchor="start" fill="#000" >bin 1</text>
<text x="651.2" y="94.5" font-size="11.2" font-weight="normal" text-anchor="start" fill="#000" >bin 1</text>
<text x="653.0" y="205.5" font-size="11.2" font-weight="normal" text-anchor="start" fill="#000" >bin 1</text>
<line x1="64.3" y1="255.7" x2="64.3" y2="429.15" stroke="#1a1a1a" stroke-width="1.6" />
<line x1="63.55" y1="428.4" x2="276.9" y2="428.4" stroke="#1a1a1a" stroke-width="1.6" />
<line x1="60.699999999999996" y1="428.3" x2="64.3" y2="428.3" stroke="#1a1a1a" stroke-width="1.2" />
<text x="56.6" y="432.3" font-size="11.2" font-weight="bold" text-anchor="end" fill="#000" >0</text>
<line x1="60.699999999999996" y1="389.85" x2="64.3" y2="389.85" stroke="#1a1a1a" stroke-width="1.2" />
<text x="56.6" y="393.85" font-size="11.2" font-weight="bold" text-anchor="end" fill="#000" >100</text>
<line x1="60.699999999999996" y1="351.4" x2="64.3" y2="351.4" stroke="#1a1a1a" stroke-width="1.2" />
<text x="56.6" y="355.4" font-size="11.2" font-weight="bold" text-anchor="end" fill="#000" >200</text>
<line x1="60.699999999999996" y1="312.95" x2="64.3" y2="312.95" stroke="#1a1a1a" stroke-width="1.2" />
<text x="56.6" y="316.95" font-size="11.2" font-weight="bold" text-anchor="end" fill="#000" >300</text>
<line x1="60.699999999999996" y1="274.5" x2="64.3" y2="274.5" stroke="#1a1a1a" stroke-width="1.2" />
<text x="56.6" y="278.5" font-size="11.2" font-weight="bold" text-anchor="end" fill="#000" >400</text>
<line x1="61.9" y1="409.075" x2="64.3" y2="409.075" stroke="#1a1a1a" stroke-width="1.0" />
<line x1="61.9" y1="370.625" x2="64.3" y2="370.625" stroke="#1a1a1a" stroke-width="1.0" />
<line x1="61.9" y1="332.175" x2="64.3" y2="332.175" stroke="#1a1a1a" stroke-width="1.0" />
<line x1="61.9" y1="293.725" x2="64.3" y2="293.725" stroke="#1a1a1a" stroke-width="1.0" />
<line x1="77.3" y1="428.4" x2="77.3" y2="431.59999999999997" stroke="#1a1a1a" stroke-width="1.2" />
<line x1="103.8" y1="428.4" x2="103.8" y2="431.59999999999997" stroke="#1a1a1a" stroke-width="1.2" />
<line x1="130.3" y1="428.4" x2="130.3" y2="431.59999999999997" stroke="#1a1a1a" stroke-width="1.2" />
<line x1="156.8" y1="428.4" x2="156.8" y2="431.59999999999997" stroke="#1a1a1a" stroke-width="1.2" />
<line x1="183.3" y1="428.4" x2="183.3" y2="431.59999999999997" stroke="#1a1a1a" stroke-width="1.2" />
<line x1="209.8" y1="428.4" x2="209.8" y2="431.59999999999997" stroke="#1a1a1a" stroke-width="1.2" />
<line x1="236.3" y1="428.4" x2="236.3" y2="431.59999999999997" stroke="#1a1a1a" stroke-width="1.2" />
<line x1="262.8" y1="428.4" x2="262.8" y2="431.59999999999997" stroke="#1a1a1a" stroke-width="1.2" />
<text x="75.6" y="252.5" font-size="11.3" font-weight="bold" text-anchor="start" fill="#000" >Intensity</text>
<text x="26.2" y="343" font-size="11.4" text-anchor="middle" transform="rotate(-90 26.2 343)">Intensity [a.u./area]</text>
<text x="80.95" y="446.0" font-size="10.8" font-weight="bold" text-anchor="middle" fill="#000" >AO</text>
<text x="105.15" y="446.0" font-size="10.8" font-weight="bold" text-anchor="middle" fill="#000" >BO</text>
<text x="131.7" y="446.0" font-size="10.8" font-weight="bold" text-anchor="middle" fill="#000" >AO</text>
<text x="157.65" y="446.0" font-size="10.8" font-weight="bold" text-anchor="middle" fill="#000" >BO</text>
<text x="183.65" y="446.0" font-size="10.8" font-weight="bold" text-anchor="middle" fill="#000" >AO</text>
<text x="210.5" y="446.0" font-size="10.8" font-weight="bold" text-anchor="middle" fill="#000" >BO</text>
<text x="237.25" y="446.0" font-size="10.8" font-weight="bold" text-anchor="middle" fill="#000" >AO</text>
<text x="264.65" y="446.0" font-size="10.8" font-weight="bold" text-anchor="middle" fill="#000" >BO</text>
<rect x="75" y="449.1" width="33.099999999999994" height="3.7" fill="#000" />
<text x="91.45" y="464.4" font-size="11" font-weight="bold" text-anchor="middle" fill="#000" >0</text>
<rect x="128.8" y="449.1" width="33.0" height="3.7" fill="#000" />
<text x="144" y="464.4" font-size="11" font-weight="bold" text-anchor="middle" fill="#000" >0.01</text>
<rect x="181" y="449.1" width="32.900000000000006" height="3.7" fill="#000" />
<text x="196.75" y="464.4" font-size="11" font-weight="bold" text-anchor="middle" fill="#000" >0.1</text>
<rect x="232.8" y="449.1" width="33.80000000000001" height="3.7" fill="#000" />
<text x="248.6" y="464.4" font-size="11" font-weight="bold" text-anchor="middle" fill="#000" >1</text>
<text x="127.1" y="484.6" font-size="11.4" font-weight="normal" text-anchor="start" fill="#000" >[NP D], μg/mL</text>
<circle cx="75" cy="400.4" r="1.8" fill="#e30000"/>
<circle cx="79.5" cy="402.1" r="1.8" fill="#e30000"/>
<circle cx="84.3" cy="400.1" r="1.8" fill="#e30000"/>
<circle cx="86.5" cy="396.2" r="1.8" fill="#e30000"/>
<circle cx="72.3" cy="406.1" r="1.8" fill="#e30000"/>
<circle cx="82" cy="407.3" r="1.8" fill="#e30000"/>
<circle cx="68.6" cy="408.5" r="1.8" fill="#e30000"/>
<circle cx="70.3" cy="408.5" r="1.8" fill="#e30000"/>
<circle cx="77.3" cy="409.8" r="1.8" fill="#e30000"/>
<circle cx="78.6" cy="410.2" r="1.8" fill="#e30000"/>
<circle cx="73.4" cy="411.4" r="1.8" fill="#e30000"/>
<circle cx="80.8" cy="412.6" r="1.8" fill="#e30000"/>
<circle cx="71.2" cy="415" r="1.8" fill="#e30000"/>
<circle cx="76" cy="416.2" r="1.8" fill="#e30000"/>
<circle cx="83" cy="414.8" r="1.8" fill="#e30000"/>
<rect x="66.4" y="402.3" width="21.19999999999999" height="9.099999999999966" fill="none" stroke="#222" stroke-width="1.0"/>
<line x1="66.4" y1="408.5" x2="87.6" y2="408.5" stroke="#222" stroke-width="1.1" />
<circle cx="99.7" cy="391" r="1.8" fill="#e30000"/>
<circle cx="107.4" cy="397.1" r="1.8" fill="#e30000"/>
<circle cx="103.6" cy="399.1" r="1.8" fill="#e30000"/>
<circle cx="111.5" cy="400.3" r="1.8" fill="#e30000"/>
<circle cx="113.2" cy="402.3" r="1.8" fill="#e30000"/>
<circle cx="97.9" cy="401.9" r="1.8" fill="#e30000"/>
<circle cx="94.8" cy="403.6" r="1.8" fill="#e30000"/>
<circle cx="95.7" cy="404.1" r="1.8" fill="#e30000"/>
<circle cx="105.5" cy="404.1" r="1.8" fill="#e30000"/>
<circle cx="109.3" cy="405.8" r="1.8" fill="#e30000"/>
<circle cx="101.4" cy="408.9" r="1.8" fill="#e30000"/>
<circle cx="102.7" cy="409.8" r="1.8" fill="#e30000"/>
<circle cx="104.5" cy="413.7" r="1.8" fill="#e30000"/>
<rect x="93.1" y="400.6" width="21.5" height="5.699999999999989" fill="none" stroke="#222" stroke-width="1.0"/>
<line x1="93.1" y1="404.4" x2="114.6" y2="404.4" stroke="#858585" stroke-width="1.4" />
<line x1="93.1" y1="402.6" x2="114.6" y2="402.6" stroke="#222" stroke-width="1.1" />
<circle cx="129.7" cy="379.1" r="1.8" fill="#0000e6"/>
<circle cx="130.9" cy="387.3" r="1.8" fill="#0000e6"/>
<circle cx="123.3" cy="395.8" r="1.8" fill="#0000e6"/>
<circle cx="131.6" cy="396" r="1.8" fill="#0000e6"/>
<circle cx="138.6" cy="396" r="1.8" fill="#0000e6"/>
<circle cx="120.3" cy="398.2" r="1.8" fill="#0000e6"/>
<circle cx="125.1" cy="398" r="1.8" fill="#0000e6"/>
<circle cx="126.4" cy="398" r="1.8" fill="#0000e6"/>
<circle cx="130.3" cy="399.5" r="1.8" fill="#0000e6"/>
<circle cx="133.8" cy="398.2" r="1.8" fill="#0000e6"/>
<circle cx="135.6" cy="398.2" r="1.8" fill="#0000e6"/>
<circle cx="137.6" cy="399.1" r="1.8" fill="#0000e6"/>
<circle cx="127.3" cy="405.5" r="1.8" fill="#0000e6"/>
<circle cx="128.6" cy="406.5" r="1.8" fill="#0000e6"/>
<circle cx="133" cy="404.5" r="1.8" fill="#0000e6"/>
<circle cx="135.8" cy="405" r="1.8" fill="#0000e6"/>
<circle cx="121.6" cy="407.8" r="1.8" fill="#0000e6"/>
<circle cx="130.8" cy="409.6" r="1.8" fill="#0000e6"/>
<circle cx="140.2" cy="407.8" r="1.8" fill="#0000e6"/>
<circle cx="129.7" cy="419.8" r="1.8" fill="#0000e6"/>
<rect x="119.4" y="396.7" width="21.19999999999999" height="9.0" fill="none" stroke="#222" stroke-width="1.0"/>
<line x1="119.4" y1="398.2" x2="140.6" y2="398.2" stroke="#222" stroke-width="1.1" />
<circle cx="157.7" cy="381.8" r="1.8" fill="#0000e6"/>
<circle cx="155.7" cy="386" r="1.8" fill="#0000e6"/>
<circle cx="149.2" cy="391.2" r="1.8" fill="#0000e6"/>
<circle cx="154.9" cy="392.1" r="1.8" fill="#0000e6"/>
<circle cx="162.7" cy="391.2" r="1.8" fill="#0000e6"/>
<circle cx="166.7" cy="393.4" r="1.8" fill="#0000e6"/>
<circle cx="147.4" cy="395.6" r="1.8" fill="#0000e6"/>
<circle cx="150.9" cy="394.4" r="1.8" fill="#0000e6"/>
<circle cx="156.6" cy="393.4" r="1.8" fill="#0000e6"/>
<circle cx="160.5" cy="395.1" r="1.8" fill="#0000e6"/>
<circle cx="152.7" cy="398.2" r="1.8" fill="#0000e6"/>
<circle cx="158.8" cy="400.8" r="1.8" fill="#0000e6"/>
<circle cx="164.5" cy="402.6" r="1.8" fill="#0000e6"/>
<rect x="146.4" y="391.5" width="21.19999999999999" height="3.8000000000000114" fill="none" stroke="#222" stroke-width="1.0"/>
<line x1="146.4" y1="393.3" x2="167.6" y2="393.3" stroke="#222" stroke-width="1.1" />
<circle cx="187.7" cy="380.5" r="1.8" fill="#00e6ee"/>
<circle cx="179.4" cy="386.9" r="1.8" fill="#00e6ee"/>
<circle cx="181.6" cy="386.4" r="1.8" fill="#00e6ee"/>
<circle cx="185.5" cy="386.9" r="1.8" fill="#00e6ee"/>
<circle cx="182.5" cy="392.1" r="1.8" fill="#00e6ee"/>
<circle cx="186.7" cy="390.4" r="1.8" fill="#00e6ee"/>
<circle cx="193" cy="391.7" r="1.8" fill="#00e6ee"/>
<circle cx="175.9" cy="395" r="1.8" fill="#00e6ee"/>
<circle cx="190.8" cy="395.2" r="1.8" fill="#00e6ee"/>
<circle cx="174.1" cy="399.1" r="1.8" fill="#00e6ee"/>
<circle cx="189" cy="401.7" r="1.8" fill="#00e6ee"/>
<circle cx="184.6" cy="403.5" r="1.8" fill="#00e6ee"/>
<circle cx="180.3" cy="406.3" r="1.8" fill="#00e6ee"/>
<circle cx="178.1" cy="408" r="1.8" fill="#00e6ee"/>
<circle cx="183.3" cy="416.8" r="1.8" fill="#00e6ee"/>
<rect x="172.4" y="388.3" width="22.099999999999994" height="13.199999999999989" fill="none" stroke="#222" stroke-width="1.0"/>
<line x1="172.4" y1="391.6" x2="194.5" y2="391.6" stroke="#858585" stroke-width="1.4" />
<circle cx="210" cy="302.3" r="1.8" fill="#00e6ee"/>
<circle cx="208.6" cy="313.9" r="1.8" fill="#00e6ee"/>
<circle cx="211.4" cy="318.7" r="1.8" fill="#00e6ee"/>
<circle cx="208.6" cy="340.7" r="1.8" fill="#00e6ee"/>
<circle cx="205.9" cy="347.4" r="1.8" fill="#00e6ee"/>
<circle cx="211.4" cy="349.6" r="1.8" fill="#00e6ee"/>
<circle cx="208.6" cy="352.1" r="1.8" fill="#00e6ee"/>
<circle cx="214" cy="352.3" r="1.8" fill="#00e6ee"/>
<circle cx="214" cy="354.9" r="1.8" fill="#00e6ee"/>
<circle cx="219.2" cy="353.1" r="1.8" fill="#00e6ee"/>
<circle cx="200.8" cy="358.8" r="1.8" fill="#00e6ee"/>
<circle cx="216.6" cy="361.5" r="1.8" fill="#00e6ee"/>
<circle cx="203.5" cy="365.4" r="1.8" fill="#00e6ee"/>
<circle cx="205.9" cy="368.5" r="1.8" fill="#00e6ee"/>
<circle cx="211.4" cy="368.5" r="1.8" fill="#00e6ee"/>
<circle cx="203.5" cy="375.2" r="1.8" fill="#00e6ee"/>
<circle cx="208.6" cy="374.9" r="1.8" fill="#00e6ee"/>
<circle cx="214" cy="378.1" r="1.8" fill="#00e6ee"/>
<circle cx="211.4" cy="381.2" r="1.8" fill="#00e6ee"/>
<circle cx="205.9" cy="386.2" r="1.8" fill="#00e6ee"/>
<circle cx="216.6" cy="387.5" r="1.8" fill="#00e6ee"/>
<circle cx="210" cy="409.3" r="1.8" fill="#00e6ee"/>
<rect x="199.4" y="350.1" width="21.19999999999999" height="25.399999999999977" fill="none" stroke="#222" stroke-width="1.0"/>
<line x1="199.4" y1="358.8" x2="220.6" y2="358.8" stroke="#858585" stroke-width="1.4" />
<circle cx="236.5" cy="379.4" r="1.8" fill="#ee00ee"/>
<circle cx="237.8" cy="383" r="1.8" fill="#ee00ee"/>
<circle cx="231.5" cy="384.1" r="1.8" fill="#ee00ee"/>
<circle cx="240" cy="395.5" r="1.8" fill="#ee00ee"/>
<circle cx="241.4" cy="397.8" r="1.8" fill="#ee00ee"/>
<circle cx="229.2" cy="404.1" r="1.8" fill="#ee00ee"/>
<circle cx="226.8" cy="407.3" r="1.8" fill="#ee00ee"/>
<circle cx="230.3" cy="407.7" r="1.8" fill="#ee00ee"/>
<circle cx="234.3" cy="406.4" r="1.8" fill="#ee00ee"/>
<circle cx="232.7" cy="409.5" r="1.8" fill="#ee00ee"/>
<circle cx="243.5" cy="405.7" r="1.8" fill="#ee00ee"/>
<circle cx="235.3" cy="413.7" r="1.8" fill="#ee00ee"/>
<circle cx="246.5" cy="412.6" r="1.8" fill="#ee00ee"/>
<circle cx="245.5" cy="414.3" r="1.8" fill="#ee00ee"/>
<circle cx="227.7" cy="416.8" r="1.8" fill="#ee00ee"/>
<rect x="225.9" y="396.3" width="21.69999999999999" height="13.199999999999989" fill="none" stroke="#222" stroke-width="1.0"/>
<line x1="225.9" y1="405.7" x2="247.6" y2="405.7" stroke="#222" stroke-width="1.1" />
<circle cx="261.9" cy="280.4" r="1.8" fill="#ee00ee"/>
<circle cx="273.2" cy="292.8" r="1.8" fill="#ee00ee"/>
<circle cx="256.8" cy="315.1" r="1.8" fill="#ee00ee"/>
<circle cx="253.1" cy="334.8" r="1.8" fill="#ee00ee"/>
<circle cx="260.5" cy="333.2" r="1.8" fill="#ee00ee"/>
<circle cx="264.3" cy="360" r="1.8" fill="#ee00ee"/>
<circle cx="263.2" cy="368" r="1.8" fill="#ee00ee"/>
<circle cx="265.8" cy="367.9" r="1.8" fill="#ee00ee"/>
<circle cx="268.2" cy="371" r="1.8" fill="#ee00ee"/>
<circle cx="270.6" cy="368.8" r="1.8" fill="#ee00ee"/>
<circle cx="255.5" cy="378.2" r="1.8" fill="#ee00ee"/>
<circle cx="271.8" cy="377.3" r="1.8" fill="#ee00ee"/>
<circle cx="266.8" cy="396.3" r="1.8" fill="#ee00ee"/>
<circle cx="258.2" cy="400.7" r="1.8" fill="#ee00ee"/>
<circle cx="259.4" cy="405.1" r="1.8" fill="#ee00ee"/>
<circle cx="254.4" cy="412.6" r="1.8" fill="#ee00ee"/>
<circle cx="269.3" cy="414.3" r="1.8" fill="#ee00ee"/>
<rect x="252.2" y="335.0" width="21.5" height="61.30000000000001" fill="none" stroke="#222" stroke-width="1.0"/>
<line x1="252.2" y1="368.8" x2="273.7" y2="368.8" stroke="#858585" stroke-width="1.4" />
<line x1="121.8" y1="361.2" x2="161" y2="361.2" stroke="#000" stroke-width="1.9" />
<line x1="121.8" y1="357.0" x2="121.8" y2="365.4" stroke="#000" stroke-width="1.9" />
<line x1="161" y1="357.0" x2="161" y2="365.4" stroke="#000" stroke-width="1.9" />
<line x1="171.3" y1="296" x2="209.6" y2="296" stroke="#000" stroke-width="1.9" />
<line x1="171.3" y1="291.8" x2="171.3" y2="300.2" stroke="#000" stroke-width="1.9" />
<line x1="209.6" y1="291.8" x2="209.6" y2="300.2" stroke="#000" stroke-width="1.9" />
<line x1="229.9" y1="268.1" x2="268.4" y2="268.1" stroke="#000" stroke-width="1.9" />
<line x1="229.9" y1="263.90000000000003" x2="229.9" y2="272.3" stroke="#000" stroke-width="1.9" />
<line x1="268.4" y1="263.90000000000003" x2="268.4" y2="272.3" stroke="#000" stroke-width="1.9" />
<line x1="417.7" y1="255.8" x2="417.7" y2="429.45" stroke="#1a1a1a" stroke-width="1.6" />
<line x1="416.95" y1="428.7" x2="630.9" y2="428.7" stroke="#1a1a1a" stroke-width="1.6" />
<line x1="414.09999999999997" y1="422.74" x2="417.7" y2="422.74" stroke="#1a1a1a" stroke-width="1.2" />
<text x="409.6" y="426.74" font-size="11.2" font-weight="bold" text-anchor="end" fill="#000" >-2000</text>
<line x1="414.09999999999997" y1="397.1" x2="417.7" y2="397.1" stroke="#1a1a1a" stroke-width="1.2" />
<text x="409.6" y="401.1" font-size="11.2" font-weight="bold" text-anchor="end" fill="#000" >0</text>
<line x1="414.09999999999997" y1="371.46000000000004" x2="417.7" y2="371.46000000000004" stroke="#1a1a1a" stroke-width="1.2" />
<text x="409.6" y="375.46000000000004" font-size="11.2" font-weight="bold" text-anchor="end" fill="#000" >2000</text>
<line x1="414.09999999999997" y1="345.82000000000005" x2="417.7" y2="345.82000000000005" stroke="#1a1a1a" stroke-width="1.2" />
<text x="409.6" y="349.82000000000005" font-size="11.2" font-weight="bold" text-anchor="end" fill="#000" >4000</text>
<line x1="414.09999999999997" y1="320.18" x2="417.7" y2="320.18" stroke="#1a1a1a" stroke-width="1.2" />
<text x="409.6" y="324.18" font-size="11.2" font-weight="bold" text-anchor="end" fill="#000" >6000</text>
<line x1="414.09999999999997" y1="294.54" x2="417.7" y2="294.54" stroke="#1a1a1a" stroke-width="1.2" />
<text x="409.6" y="298.54" font-size="11.2" font-weight="bold" text-anchor="end" fill="#000" >8000</text>
<line x1="414.09999999999997" y1="268.90000000000003" x2="417.7" y2="268.90000000000003" stroke="#1a1a1a" stroke-width="1.2" />
<text x="409.6" y="272.90000000000003" font-size="11.2" font-weight="bold" text-anchor="end" fill="#000" >10,000</text>
<line x1="415.3" y1="409.92" x2="417.7" y2="409.92" stroke="#1a1a1a" stroke-width="1.0" />
<line x1="415.3" y1="384.28000000000003" x2="417.7" y2="384.28000000000003" stroke="#1a1a1a" stroke-width="1.0" />
<line x1="415.3" y1="358.64000000000004" x2="417.7" y2="358.64000000000004" stroke="#1a1a1a" stroke-width="1.0" />
<line x1="415.3" y1="333.0" x2="417.7" y2="333.0" stroke="#1a1a1a" stroke-width="1.0" />
<line x1="415.3" y1="307.36" x2="417.7" y2="307.36" stroke="#1a1a1a" stroke-width="1.0" />
<line x1="415.3" y1="281.72" x2="417.7" y2="281.72" stroke="#1a1a1a" stroke-width="1.0" />
<line x1="415.3" y1="256.08000000000004" x2="417.7" y2="256.08000000000004" stroke="#1a1a1a" stroke-width="1.0" />
<line x1="431.0" y1="428.7" x2="431.0" y2="431.9" stroke="#1a1a1a" stroke-width="1.2" />
<line x1="457.59" y1="428.7" x2="457.59" y2="431.9" stroke="#1a1a1a" stroke-width="1.2" />
<line x1="484.18" y1="428.7" x2="484.18" y2="431.9" stroke="#1a1a1a" stroke-width="1.2" />
<line x1="510.77" y1="428.7" x2="510.77" y2="431.9" stroke="#1a1a1a" stroke-width="1.2" />
<line x1="537.36" y1="428.7" x2="537.36" y2="431.9" stroke="#1a1a1a" stroke-width="1.2" />
<line x1="563.95" y1="428.7" x2="563.95" y2="431.9" stroke="#1a1a1a" stroke-width="1.2" />
<line x1="590.54" y1="428.7" x2="590.54" y2="431.9" stroke="#1a1a1a" stroke-width="1.2" />
<line x1="617.13" y1="428.7" x2="617.13" y2="431.9" stroke="#1a1a1a" stroke-width="1.2" />
<text x="428.4" y="253.1" font-size="11.3" font-weight="bold" text-anchor="start" fill="#000" >Intensity</text>
<text x="366.3" y="343" font-size="11.4" text-anchor="middle" transform="rotate(-90 366.3 343)">Intensity [a.u./area]</text>
<text x="433.15" y="446.0" font-size="10.8" font-weight="bold" text-anchor="middle" fill="#000" >AO</text>
<text x="459.75" y="446.0" font-size="10.8" font-weight="bold" text-anchor="middle" fill="#000" >BO</text>
<text x="485.35" y="446.0" font-size="10.8" font-weight="bold" text-anchor="middle" fill="#000" >AO</text>
<text x="511.85" y="446.0" font-size="10.8" font-weight="bold" text-anchor="middle" fill="#000" >BO</text>
<text x="538.5" y="446.0" font-size="10.8" font-weight="bold" text-anchor="middle" fill="#000" >AO</text>
<text x="565.95" y="446.0" font-size="10.8" font-weight="bold" text-anchor="middle" fill="#000" >BO</text>
<text x="591.65" y="446.0" font-size="10.8" font-weight="bold" text-anchor="middle" fill="#000" >AO</text>
<text x="618.55" y="446.0" font-size="10.8" font-weight="bold" text-anchor="middle" fill="#000" >BO</text>
<rect x="428" y="449.1" width="34.10000000000002" height="3.7" fill="#000" />
<text x="444.0" y="464.4" font-size="11" font-weight="bold" text-anchor="middle" fill="#000" >1</text>
<rect x="482.3" y="449.1" width="33.69999999999999" height="3.7" fill="#000" />
<text x="497.8" y="464.4" font-size="11" font-weight="bold" text-anchor="middle" fill="#000" >10</text>
<rect x="531.9" y="449.1" width="34.10000000000002" height="3.7" fill="#000" />
<text x="550.6" y="464.4" font-size="11" font-weight="bold" text-anchor="middle" fill="#000" >25</text>
<rect x="586" y="449.1" width="33.700000000000045" height="3.7" fill="#000" />
<text x="602.65" y="464.4" font-size="11" font-weight="bold" text-anchor="middle" fill="#000" >50</text>
<text x="486.7" y="484.6" font-size="11.4" font-weight="normal" text-anchor="start" fill="#000" >[NP D], μg/mL</text>
<circle cx="421.8" cy="396.1" r="1.6" fill="#ee00ee"/>
<circle cx="423.5" cy="396.0" r="1.6" fill="#ee00ee"/>
<circle cx="425.3" cy="396.5" r="1.6" fill="#ee00ee"/>
<circle cx="427.0" cy="395.9" r="1.6" fill="#ee00ee"/>
<circle cx="428.7" cy="396.3" r="1.6" fill="#ee00ee"/>
<circle cx="430.5" cy="396.2" r="1.6" fill="#ee00ee"/>
<circle cx="432.2" cy="395.9" r="1.6" fill="#ee00ee"/>
<circle cx="434.0" cy="396.3" r="1.6" fill="#ee00ee"/>
<circle cx="435.7" cy="395.8" r="1.6" fill="#ee00ee"/>
<circle cx="437.4" cy="396.2" r="1.6" fill="#ee00ee"/>
<circle cx="439.2" cy="395.9" r="1.6" fill="#ee00ee"/>
<circle cx="440.9" cy="395.9" r="1.6" fill="#ee00ee"/>
<line x1="421.0" y1="396.3" x2="441.7" y2="396.3" stroke="#000" stroke-width="1.0" opacity="0.55"/>
<line x1="421" y1="396.3" x2="441" y2="396.3" stroke="#222" stroke-width="1.2" />
<circle cx="447.6" cy="395.5" r="1.6" fill="#ee00ee"/>
<circle cx="449.4" cy="395.9" r="1.6" fill="#ee00ee"/>
<circle cx="451.2" cy="395.2" r="1.6" fill="#ee00ee"/>
<circle cx="453.1" cy="395.3" r="1.6" fill="#ee00ee"/>
<circle cx="454.9" cy="395.7" r="1.6" fill="#ee00ee"/>
<circle cx="456.7" cy="396.0" r="1.6" fill="#ee00ee"/>
<circle cx="458.5" cy="395.7" r="1.6" fill="#ee00ee"/>
<circle cx="460.3" cy="395.5" r="1.6" fill="#ee00ee"/>
<circle cx="462.1" cy="396.1" r="1.6" fill="#ee00ee"/>
<circle cx="464.0" cy="395.1" r="1.6" fill="#ee00ee"/>
<circle cx="465.8" cy="396.0" r="1.6" fill="#ee00ee"/>
<circle cx="467.6" cy="395.4" r="1.6" fill="#ee00ee"/>
<circle cx="450.5" cy="393.2" r="1.6" fill="#ee00ee"/>
<circle cx="456.4" cy="392.2" r="1.6" fill="#ee00ee"/>
<circle cx="461" cy="393.5" r="1.6" fill="#ee00ee"/>
<circle cx="467.5" cy="392.6" r="1.6" fill="#ee00ee"/>
<rect x="447" y="394.6" width="21.5" height="1.7999999999999545" fill="none" stroke="#222" stroke-width="0.8"/>
<circle cx="484" cy="380.5" r="1.8" fill="#00e000"/>
<circle cx="474.6" cy="385.5" r="1.8" fill="#00e000"/>
<circle cx="473.7" cy="388" r="1.8" fill="#00e000"/>
<circle cx="480.3" cy="387.3" r="1.8" fill="#00e000"/>
<circle cx="488" cy="387.3" r="1.8" fill="#00e000"/>
<circle cx="486" cy="388.6" r="1.8" fill="#00e000"/>
<circle cx="475" cy="395.6" r="1.8" fill="#00e000"/>
<circle cx="478.5" cy="396.2" r="1.8" fill="#00e000"/>
<circle cx="482" cy="395.8" r="1.8" fill="#00e000"/>
<circle cx="486" cy="396.3" r="1.8" fill="#00e000"/>
<circle cx="490" cy="395.6" r="1.8" fill="#00e000"/>
<circle cx="493.5" cy="396.2" r="1.8" fill="#00e000"/>
<circle cx="476.5" cy="394" r="1.8" fill="#00e000"/>
<circle cx="491" cy="393.8" r="1.8" fill="#00e000"/>
<circle cx="484" cy="393.8" r="1.8" fill="#00e000"/>
<rect x="473.4" y="391.4" width="21.30000000000001" height="4.0" fill="none" stroke="#222" stroke-width="1.0"/>
<line x1="473.4" y1="393.2" x2="494.7" y2="393.2" stroke="#858585" stroke-width="1.4" />
<line x1="473.4" y1="394.8" x2="494.7" y2="394.8" stroke="#222" stroke-width="1.1" />
<circle cx="510.9" cy="357.5" r="1.8" fill="#00e000"/>
<circle cx="507.7" cy="360.6" r="1.8" fill="#00e000"/>
<circle cx="510.7" cy="365.4" r="1.8" fill="#00e000"/>
<circle cx="516.8" cy="364.7" r="1.8" fill="#00e000"/>
<circle cx="513.8" cy="367.3" r="1.8" fill="#00e000"/>
<circle cx="502" cy="368.9" r="1.8" fill="#00e000"/>
<circle cx="504.8" cy="368.5" r="1.8" fill="#00e000"/>
<circle cx="519.9" cy="370" r="1.8" fill="#00e000"/>
<circle cx="503.3" cy="374.3" r="1.8" fill="#00e000"/>
<circle cx="515.3" cy="375.2" r="1.8" fill="#00e000"/>
<circle cx="509.2" cy="378.3" r="1.8" fill="#00e000"/>
<circle cx="512.2" cy="379.2" r="1.8" fill="#00e000"/>
<circle cx="518.5" cy="382.9" r="1.8" fill="#00e000"/>
<circle cx="506.5" cy="384.7" r="1.8" fill="#00e000"/>
<circle cx="507.7" cy="386.6" r="1.8" fill="#00e000"/>
<circle cx="510.7" cy="393" r="1.8" fill="#00e000"/>
<circle cx="513.8" cy="393.9" r="1.8" fill="#00e000"/>
<rect x="500.4" y="367.4" width="21.200000000000045" height="15.700000000000045" fill="none" stroke="#222" stroke-width="1.0"/>
<line x1="500.4" y1="374.3" x2="521.6" y2="374.3" stroke="#222" stroke-width="1.1" />
<circle cx="537.3" cy="352.7" r="1.8" fill="#f6ee00"/>
<circle cx="537.3" cy="373.4" r="1.8" fill="#f6ee00"/>
<circle cx="536.5" cy="374.3" r="1.8" fill="#f6ee00"/>
<circle cx="539.1" cy="388.5" r="1.8" fill="#f6ee00"/>
<circle cx="544.3" cy="389.2" r="1.8" fill="#f6ee00"/>
<circle cx="528.1" cy="396.2" r="1.8" fill="#f6ee00"/>
<circle cx="532.1" cy="395.7" r="1.8" fill="#f6ee00"/>
<circle cx="535.1" cy="392.7" r="1.8" fill="#f6ee00"/>
<circle cx="541.7" cy="396.2" r="1.8" fill="#f6ee00"/>
<circle cx="546.5" cy="395.3" r="1.8" fill="#f6ee00"/>
<circle cx="530" cy="394" r="1.8" fill="#f6ee00"/>
<circle cx="544" cy="394.5" r="1.8" fill="#f6ee00"/>
<circle cx="538.5" cy="395.6" r="1.8" fill="#f6ee00"/>
<rect x="526.4" y="390.5" width="21.700000000000045" height="4.800000000000011" fill="none" stroke="#222" stroke-width="1.0"/>
<line x1="526.4" y1="391.8" x2="548.1" y2="391.8" stroke="#858585" stroke-width="1.4" />
<line x1="526.4" y1="393.5" x2="548.1" y2="393.5" stroke="#222" stroke-width="1.1" />
<circle cx="566" cy="333.5" r="1.8" fill="#f6ee00"/>
<circle cx="561.9" cy="345.3" r="1.8" fill="#f6ee00"/>
<circle cx="570.3" cy="346.6" r="1.8" fill="#f6ee00"/>
<circle cx="561.9" cy="354" r="1.8" fill="#f6ee00"/>
<circle cx="566.2" cy="355.8" r="1.8" fill="#f6ee00"/>
<circle cx="557.5" cy="357.6" r="1.8" fill="#f6ee00"/>
<circle cx="559.5" cy="360" r="1.8" fill="#f6ee00"/>
<circle cx="564" cy="361.9" r="1.8" fill="#f6ee00"/>
<circle cx="568" cy="363.5" r="1.8" fill="#f6ee00"/>
<circle cx="555.3" cy="364.6" r="1.8" fill="#f6ee00"/>
<circle cx="572.4" cy="364.6" r="1.8" fill="#f6ee00"/>
<circle cx="555.3" cy="366" r="1.8" fill="#f6ee00"/>
<circle cx="572.4" cy="366" r="1.8" fill="#f6ee00"/>
<circle cx="557.5" cy="372.1" r="1.8" fill="#f6ee00"/>
<circle cx="570.3" cy="373" r="1.8" fill="#f6ee00"/>
<circle cx="561.9" cy="375.3" r="1.8" fill="#f6ee00"/>
<circle cx="566" cy="380.6" r="1.8" fill="#f6ee00"/>
<circle cx="561.9" cy="385.8" r="1.8" fill="#f6ee00"/>
<circle cx="566" cy="389.3" r="1.8" fill="#f6ee00"/>
<circle cx="557.5" cy="394.4" r="1.8" fill="#f6ee00"/>
<circle cx="570.3" cy="396" r="1.8" fill="#f6ee00"/>
<rect x="553.4" y="355.6" width="21.200000000000045" height="20.0" fill="none" stroke="#222" stroke-width="1.0"/>
<line x1="553.4" y1="366.0" x2="574.6" y2="366.0" stroke="#222" stroke-width="1.1" />
<circle cx="590.5" cy="307" r="1.8" fill="#d9800f"/>
<circle cx="589.5" cy="366.6" r="1.8" fill="#d9800f"/>
<circle cx="591.5" cy="369.5" r="1.8" fill="#d9800f"/>
<circle cx="592.5" cy="377.3" r="1.8" fill="#d9800f"/>
<circle cx="588.3" cy="381.1" r="1.8" fill="#d9800f"/>
<circle cx="590.6" cy="384.1" r="1.8" fill="#d9800f"/>
<circle cx="595.8" cy="388.7" r="1.8" fill="#d9800f"/>
<circle cx="591.6" cy="390" r="1.8" fill="#d9800f"/>
<circle cx="593.8" cy="391.1" r="1.8" fill="#d9800f"/>
<circle cx="580.7" cy="393.5" r="1.8" fill="#d9800f"/>
<circle cx="582.9" cy="392.7" r="1.8" fill="#d9800f"/>
<circle cx="587.3" cy="394.4" r="1.8" fill="#d9800f"/>
<circle cx="589.5" cy="392.2" r="1.8" fill="#d9800f"/>
<circle cx="598.2" cy="392.7" r="1.8" fill="#d9800f"/>
<circle cx="600.4" cy="393.5" r="1.8" fill="#d9800f"/>
<circle cx="585.1" cy="396.9" r="1.8" fill="#d9800f"/>
<rect x="579.6" y="381.3" width="21.5" height="10.899999999999977" fill="none" stroke="#222" stroke-width="1.0"/>
<line x1="579.6" y1="391.4" x2="601.1" y2="391.4" stroke="#858585" stroke-width="1.4" />
<line x1="579.6" y1="390.5" x2="601.1" y2="390.5" stroke="#222" stroke-width="1.1" />
<circle cx="614.9" cy="272.5" r="1.8" fill="#d9800f"/>
<circle cx="619.1" cy="280.7" r="1.8" fill="#d9800f"/>
<circle cx="617" cy="292.2" r="1.8" fill="#d9800f"/>
<circle cx="612.7" cy="296.2" r="1.8" fill="#d9800f"/>
<circle cx="617" cy="297.5" r="1.8" fill="#d9800f"/>
<circle cx="621.4" cy="304.2" r="1.8" fill="#d9800f"/>
<circle cx="614.9" cy="318.8" r="1.8" fill="#d9800f"/>
<circle cx="619.2" cy="319.9" r="1.8" fill="#d9800f"/>
<circle cx="617" cy="322.1" r="1.8" fill="#d9800f"/>
<circle cx="621.4" cy="325.4" r="1.8" fill="#d9800f"/>
<circle cx="612.7" cy="328.2" r="1.8" fill="#d9800f"/>
<circle cx="621.4" cy="333.1" r="1.8" fill="#d9800f"/>
<circle cx="625.5" cy="334.3" r="1.8" fill="#d9800f"/>
<circle cx="612.7" cy="336.2" r="1.8" fill="#d9800f"/>
<circle cx="617" cy="338.8" r="1.8" fill="#d9800f"/>
<circle cx="608.3" cy="345.5" r="1.8" fill="#d9800f"/>
<circle cx="612.7" cy="346.2" r="1.8" fill="#d9800f"/>
<circle cx="617" cy="358.2" r="1.8" fill="#d9800f"/>
<circle cx="621.4" cy="358.5" r="1.8" fill="#d9800f"/>
<circle cx="617" cy="390.3" r="1.8" fill="#d9800f"/>
<rect x="606.4" y="304.1" width="21.300000000000068" height="34.69999999999999" fill="none" stroke="#222" stroke-width="1.0"/>
<line x1="606.4" y1="325.4" x2="627.7" y2="325.4" stroke="#222" stroke-width="1.1" />
<line x1="422.4" y1="383.8" x2="460.9" y2="383.8" stroke="#000" stroke-width="1.9" />
<line x1="422.4" y1="379.6" x2="422.4" y2="388.0" stroke="#000" stroke-width="1.9" />
<line x1="460.9" y1="379.6" x2="460.9" y2="388.0" stroke="#000" stroke-width="1.9" />
<line x1="476.8" y1="348.5" x2="515.1" y2="348.5" stroke="#000" stroke-width="1.9" />
<line x1="476.8" y1="344.3" x2="476.8" y2="352.7" stroke="#000" stroke-width="1.9" />
<line x1="515.1" y1="344.3" x2="515.1" y2="352.7" stroke="#000" stroke-width="1.9" />
<line x1="532.3" y1="318" x2="570.8" y2="318" stroke="#000" stroke-width="1.9" />
<line x1="532.3" y1="313.8" x2="532.3" y2="322.2" stroke="#000" stroke-width="1.9" />
<line x1="570.8" y1="313.8" x2="570.8" y2="322.2" stroke="#000" stroke-width="1.9" />
<line x1="583.1" y1="266.1" x2="621.6" y2="266.1" stroke="#000" stroke-width="1.9" />
<line x1="583.1" y1="261.90000000000003" x2="583.1" y2="270.3" stroke="#000" stroke-width="1.9" />
<line x1="621.6" y1="261.90000000000003" x2="621.6" y2="270.3" stroke="#000" stroke-width="1.9" />
<line x1="64.5" y1="529.3" x2="64.5" y2="702.25" stroke="#1a1a1a" stroke-width="1.6" />
<line x1="63.75" y1="701.5" x2="276.9" y2="701.5" stroke="#1a1a1a" stroke-width="1.6" />
<line x1="60.9" y1="696.0" x2="64.5" y2="696.0" stroke="#1a1a1a" stroke-width="1.2" />
<text x="56.4" y="700.0" font-size="11.2" font-weight="bold" text-anchor="end" fill="#000" >0.0000</text>
<line x1="60.9" y1="668.3" x2="64.5" y2="668.3" stroke="#1a1a1a" stroke-width="1.2" />
<text x="56.4" y="672.3" font-size="11.2" font-weight="bold" text-anchor="end" fill="#000" >0.0005</text>
<line x1="60.9" y1="640.6" x2="64.5" y2="640.6" stroke="#1a1a1a" stroke-width="1.2" />
<text x="56.4" y="644.6" font-size="11.2" font-weight="bold" text-anchor="end" fill="#000" >0.0010</text>
<line x1="60.9" y1="612.9" x2="64.5" y2="612.9" stroke="#1a1a1a" stroke-width="1.2" />
<text x="56.4" y="616.9" font-size="11.2" font-weight="bold" text-anchor="end" fill="#000" >0.0015</text>
<line x1="60.9" y1="585.2" x2="64.5" y2="585.2" stroke="#1a1a1a" stroke-width="1.2" />
<text x="56.4" y="589.2" font-size="11.2" font-weight="bold" text-anchor="end" fill="#000" >0.0020</text>
<line x1="60.9" y1="557.5" x2="64.5" y2="557.5" stroke="#1a1a1a" stroke-width="1.2" />
<text x="56.4" y="561.5" font-size="11.2" font-weight="bold" text-anchor="end" fill="#000" >0.0025</text>
<line x1="60.9" y1="529.8" x2="64.5" y2="529.8" stroke="#1a1a1a" stroke-width="1.2" />
<text x="56.4" y="533.8" font-size="11.2" font-weight="bold" text-anchor="end" fill="#000" >0.0030</text>
<line x1="62.1" y1="682.15" x2="64.5" y2="682.15" stroke="#1a1a1a" stroke-width="1.0" />
<line x1="62.1" y1="654.45" x2="64.5" y2="654.45" stroke="#1a1a1a" stroke-width="1.0" />
<line x1="62.1" y1="626.75" x2="64.5" y2="626.75" stroke="#1a1a1a" stroke-width="1.0" />
<line x1="62.1" y1="599.05" x2="64.5" y2="599.05" stroke="#1a1a1a" stroke-width="1.0" />
<line x1="62.1" y1="571.35" x2="64.5" y2="571.35" stroke="#1a1a1a" stroke-width="1.0" />
<line x1="62.1" y1="543.65" x2="64.5" y2="543.65" stroke="#1a1a1a" stroke-width="1.0" />
<line x1="77.7" y1="701.5" x2="77.7" y2="704.7" stroke="#1a1a1a" stroke-width="1.2" />
<line x1="104.2" y1="701.5" x2="104.2" y2="704.7" stroke="#1a1a1a" stroke-width="1.2" />
<line x1="130.7" y1="701.5" x2="130.7" y2="704.7" stroke="#1a1a1a" stroke-width="1.2" />
<line x1="157.2" y1="701.5" x2="157.2" y2="704.7" stroke="#1a1a1a" stroke-width="1.2" />
<line x1="183.7" y1="701.5" x2="183.7" y2="704.7" stroke="#1a1a1a" stroke-width="1.2" />
<line x1="210.2" y1="701.5" x2="210.2" y2="704.7" stroke="#1a1a1a" stroke-width="1.2" />
<line x1="236.7" y1="701.5" x2="236.7" y2="704.7" stroke="#1a1a1a" stroke-width="1.2" />
<line x1="263.2" y1="701.5" x2="263.2" y2="704.7" stroke="#1a1a1a" stroke-width="1.2" />
<text x="78.3" y="518.1" font-size="11.3" font-weight="bold" text-anchor="start" fill="#000" >FLIM</text>
<text x="9.5" y="616.9" font-size="11.4" text-anchor="middle" transform="rotate(-90 9.5 616.9)">Phasor events [event/area]</text>
<text x="80.4" y="719.0" font-size="10.8" font-weight="bold" text-anchor="middle" fill="#000" >AO</text>
<text x="104.4" y="719.0" font-size="10.8" font-weight="bold" text-anchor="middle" fill="#000" >BO</text>
<text x="130.95" y="719.0" font-size="10.8" font-weight="bold" text-anchor="middle" fill="#000" >AO</text>
<text x="158.1" y="719.0" font-size="10.8" font-weight="bold" text-anchor="middle" fill="#000" >BO</text>
<text x="183.75" y="719.0" font-size="10.8" font-weight="bold" text-anchor="middle" fill="#000" >AO</text>
<text x="210.55" y="719.0" font-size="10.8" font-weight="bold" text-anchor="middle" fill="#000" >BO</text>
<text x="237.85" y="719.0" font-size="10.8" font-weight="bold" text-anchor="middle" fill="#000" >AO</text>
<text x="264.65" y="719.0" font-size="10.8" font-weight="bold" text-anchor="middle" fill="#000" >BO</text>
<rect x="74.1" y="723.5" width="33.30000000000001" height="3.7" fill="#000" />
<text x="90.9" y="739.2" font-size="11" font-weight="bold" text-anchor="middle" fill="#000" >0</text>
<rect x="127.9" y="723.5" width="33.29999999999998" height="3.7" fill="#000" />
<text x="143.9" y="739.2" font-size="11" font-weight="bold" text-anchor="middle" fill="#000" >0.01</text>
<rect x="180.1" y="723.5" width="33.30000000000001" height="3.7" fill="#000" />
<text x="196.1" y="739.2" font-size="11" font-weight="bold" text-anchor="middle" fill="#000" >0.1</text>
<rect x="232.3" y="723.5" width="33.69999999999999" height="3.7" fill="#000" />
<text x="247.9" y="739.2" font-size="11" font-weight="bold" text-anchor="middle" fill="#000" >1</text>
<text x="132.9" y="758.5" font-size="11.4" font-weight="normal" text-anchor="start" fill="#000" >[NP D], μg/mL</text>
<circle cx="69.1" cy="695.8" r="1.6" fill="#e30000"/>
<circle cx="70.8" cy="695.8" r="1.6" fill="#e30000"/>
<circle cx="72.4" cy="695.9" r="1.6" fill="#e30000"/>
<circle cx="74.1" cy="696.2" r="1.6" fill="#e30000"/>
<circle cx="75.7" cy="695.8" r="1.6" fill="#e30000"/>
<circle cx="77.4" cy="696.0" r="1.6" fill="#e30000"/>
<circle cx="79.1" cy="696.1" r="1.6" fill="#e30000"/>
<circle cx="80.7" cy="695.9" r="1.6" fill="#e30000"/>
<circle cx="82.4" cy="696.0" r="1.6" fill="#e30000"/>
<circle cx="84.0" cy="695.7" r="1.6" fill="#e30000"/>
<circle cx="85.7" cy="695.7" r="1.6" fill="#e30000"/>
<line x1="68.3" y1="696" x2="86.5" y2="696" stroke="#000" stroke-width="1.0" opacity="0.55"/>
<circle cx="96.1" cy="695.8" r="1.6" fill="#e30000"/>
<circle cx="97.7" cy="696.1" r="1.6" fill="#e30000"/>
<circle cx="99.3" cy="696.0" r="1.6" fill="#e30000"/>
<circle cx="100.9" cy="695.9" r="1.6" fill="#e30000"/>
<circle cx="102.5" cy="696.1" r="1.6" fill="#e30000"/>
<circle cx="104.1" cy="696.0" r="1.6" fill="#e30000"/>
<circle cx="105.8" cy="695.9" r="1.6" fill="#e30000"/>
<circle cx="107.4" cy="696.2" r="1.6" fill="#e30000"/>
<circle cx="109.0" cy="696.1" r="1.6" fill="#e30000"/>
<circle cx="110.6" cy="695.8" r="1.6" fill="#e30000"/>
<circle cx="112.2" cy="696.0" r="1.6" fill="#e30000"/>
<line x1="95.3" y1="696" x2="113.0" y2="696" stroke="#000" stroke-width="1.0" opacity="0.55"/>
<circle cx="121.8" cy="696.0" r="1.6" fill="#0000e6"/>
<circle cx="123.5" cy="696.3" r="1.6" fill="#0000e6"/>
<circle cx="125.3" cy="696.2" r="1.6" fill="#0000e6"/>
<circle cx="127.0" cy="695.8" r="1.6" fill="#0000e6"/>
<circle cx="128.8" cy="696.4" r="1.6" fill="#0000e6"/>
<circle cx="130.5" cy="695.7" r="1.6" fill="#0000e6"/>
<circle cx="132.2" cy="695.9" r="1.6" fill="#0000e6"/>
<circle cx="134.0" cy="696.2" r="1.6" fill="#0000e6"/>
<circle cx="135.7" cy="695.7" r="1.6" fill="#0000e6"/>
<circle cx="137.5" cy="696.0" r="1.6" fill="#0000e6"/>
<circle cx="139.2" cy="695.6" r="1.6" fill="#0000e6"/>
<line x1="121.0" y1="696" x2="140.0" y2="696" stroke="#000" stroke-width="1.0" opacity="0.55"/>
<circle cx="133.9" cy="693.3" r="1.5" fill="#0000e6"/>
<circle cx="152" cy="687.7" r="1.5" fill="#0000e6"/>
<circle cx="165.2" cy="689.3" r="1.5" fill="#0000e6"/>
<circle cx="149.9" cy="693.3" r="1.5" fill="#0000e6"/>
<circle cx="155.5" cy="694.1" r="1.5" fill="#0000e6"/>
<circle cx="154.7" cy="696.5" r="1.5" fill="#0000e6"/>
<circle cx="160.4" cy="696" r="1.5" fill="#0000e6"/>
<circle cx="163.6" cy="696" r="1.5" fill="#0000e6"/>
<rect x="147.5" y="693.3" width="19.30000000000001" height="3.2000000000000455" fill="none" stroke="#222" stroke-width="1.0"/>
<line x1="147.5" y1="695.5" x2="166.8" y2="695.5" stroke="#222" stroke-width="1.1" />
<circle cx="176.5" cy="696.1" r="1.5" fill="#00e6ee"/>
<circle cx="178.3" cy="696.2" r="1.5" fill="#00e6ee"/>
<circle cx="180.1" cy="696.0" r="1.5" fill="#00e6ee"/>
<circle cx="181.9" cy="696.2" r="1.5" fill="#00e6ee"/>
<circle cx="183.8" cy="695.9" r="1.5" fill="#00e6ee"/>
<circle cx="185.6" cy="696.1" r="1.5" fill="#00e6ee"/>
<circle cx="187.4" cy="696.1" r="1.5" fill="#00e6ee"/>
<circle cx="189.2" cy="696.0" r="1.5" fill="#00e6ee"/>
<circle cx="191.0" cy="696.0" r="1.5" fill="#00e6ee"/>
<line x1="175.8" y1="696" x2="191.7" y2="696" stroke="#000" stroke-width="1.0" opacity="0.55"/>
<circle cx="186.6" cy="668.5" r="1.5" fill="#00e6ee"/>
<circle cx="185.2" cy="673.3" r="1.5" fill="#00e6ee"/>
<circle cx="177.8" cy="679.9" r="1.5" fill="#00e6ee"/>
<circle cx="191.1" cy="691.9" r="1.5" fill="#00e6ee"/>
<rect x="174.2" y="692.5" width="18.900000000000006" height="4.2000000000000455" fill="none" stroke="#222" stroke-width="1.0"/>
<line x1="174.2" y1="695.6" x2="193.1" y2="695.6" stroke="#222" stroke-width="1.1" />
<circle cx="204.8" cy="594.4" r="1.5" fill="#00e6ee"/>
<circle cx="201.5" cy="602.9" r="1.5" fill="#00e6ee"/>
<circle cx="205.8" cy="616.5" r="1.5" fill="#00e6ee"/>
<circle cx="209.1" cy="632.4" r="1.5" fill="#00e6ee"/>
<circle cx="213.6" cy="636.3" r="1.5" fill="#00e6ee"/>
<circle cx="211.4" cy="651.1" r="1.5" fill="#00e6ee"/>
<circle cx="214.7" cy="652.5" r="1.5" fill="#00e6ee"/>
<circle cx="207.9" cy="659.6" r="1.5" fill="#00e6ee"/>
<circle cx="202.3" cy="663.5" r="1.5" fill="#00e6ee"/>
<circle cx="218.9" cy="663.5" r="1.5" fill="#00e6ee"/>
<circle cx="203.5" cy="666.7" r="1.5" fill="#00e6ee"/>
<circle cx="216.5" cy="669.4" r="1.5" fill="#00e6ee"/>
<circle cx="217.7" cy="672.4" r="1.5" fill="#00e6ee"/>
<circle cx="215.3" cy="675.6" r="1.5" fill="#00e6ee"/>
<circle cx="207.1" cy="681.9" r="1.5" fill="#00e6ee"/>
<circle cx="210" cy="685.4" r="1.5" fill="#00e6ee"/>
<circle cx="212.6" cy="684.6" r="1.5" fill="#00e6ee"/>
<rect x="201.1" y="636.3" width="18.599999999999994" height="36.30000000000007" fill="none" stroke="#222" stroke-width="1.0"/>
<line x1="201.1" y1="663.5" x2="219.7" y2="663.5" stroke="#222" stroke-width="1.1" />
<circle cx="228.1" cy="696.3" r="1.5" fill="#ee00ee"/>
<circle cx="229.9" cy="696.4" r="1.5" fill="#ee00ee"/>
<circle cx="231.7" cy="696.2" r="1.5" fill="#ee00ee"/>
<circle cx="233.4" cy="696.3" r="1.5" fill="#ee00ee"/>
<circle cx="235.2" cy="696.0" r="1.5" fill="#ee00ee"/>
<circle cx="237.0" cy="696.3" r="1.5" fill="#ee00ee"/>
<circle cx="238.8" cy="696.3" r="1.5" fill="#ee00ee"/>
<circle cx="240.5" cy="696.4" r="1.5" fill="#ee00ee"/>
<circle cx="242.3" cy="696.3" r="1.5" fill="#ee00ee"/>
<circle cx="244.1" cy="696.1" r="1.5" fill="#ee00ee"/>
<line x1="227.4" y1="696.2" x2="244.79999999999998" y2="696.2" stroke="#000" stroke-width="1.0" opacity="0.55"/>
<circle cx="235.1" cy="671.9" r="1.5" fill="#ee00ee"/>
<circle cx="245.2" cy="677" r="1.5" fill="#ee00ee"/>
<circle cx="259.3" cy="553.4" r="1.5" fill="#ee00ee"/>
<circle cx="267.3" cy="558.3" r="1.5" fill="#ee00ee"/>
<circle cx="269.8" cy="596.6" r="1.5" fill="#ee00ee"/>
<circle cx="261.4" cy="628.6" r="1.5" fill="#ee00ee"/>
<circle cx="271.5" cy="629.6" r="1.5" fill="#ee00ee"/>
<circle cx="257.2" cy="642.5" r="1.5" fill="#ee00ee"/>
<circle cx="265.2" cy="661.2" r="1.5" fill="#ee00ee"/>
<circle cx="263.5" cy="671.7" r="1.5" fill="#ee00ee"/>
<circle cx="255" cy="688.8" r="1.5" fill="#ee00ee"/>
<rect x="254" y="596.2" width="18.5" height="65.0" fill="none" stroke="#222" stroke-width="1.0"/>
<line x1="254" y1="629.6" x2="272.5" y2="629.6" stroke="#222" stroke-width="1.1" />
<line x1="121.3" y1="677.8" x2="160" y2="677.8" stroke="#000" stroke-width="1.9" />
<line x1="121.3" y1="673.5999999999999" x2="121.3" y2="682.0" stroke="#000" stroke-width="1.9" />
<line x1="160" y1="673.5999999999999" x2="160" y2="682.0" stroke="#000" stroke-width="1.9" />
<line x1="170.6" y1="583.6" x2="208.7" y2="583.6" stroke="#000" stroke-width="1.9" />
<line x1="170.6" y1="579.4" x2="170.6" y2="587.8000000000001" stroke="#000" stroke-width="1.9" />
<line x1="208.7" y1="579.4" x2="208.7" y2="587.8000000000001" stroke="#000" stroke-width="1.9" />
<line x1="229.5" y1="535.7" x2="267.6" y2="535.7" stroke="#000" stroke-width="1.9" />
<line x1="229.5" y1="531.5" x2="229.5" y2="539.9000000000001" stroke="#000" stroke-width="1.9" />
<line x1="267.6" y1="531.5" x2="267.6" y2="539.9000000000001" stroke="#000" stroke-width="1.9" />
<line x1="417.7" y1="529.8" x2="417.7" y2="702.25" stroke="#1a1a1a" stroke-width="1.6" />
<line x1="416.95" y1="701.5" x2="630.9" y2="701.5" stroke="#1a1a1a" stroke-width="1.6" />
<line x1="414.09999999999997" y1="701.94" x2="417.7" y2="701.94" stroke="#1a1a1a" stroke-width="1.2" />
<text x="409.8" y="705.94" font-size="11.2" font-weight="bold" text-anchor="end" fill="#000" >-0.02</text>
<line x1="414.09999999999997" y1="681.7" x2="417.7" y2="681.7" stroke="#1a1a1a" stroke-width="1.2" />
<text x="409.8" y="685.7" font-size="11.2" font-weight="bold" text-anchor="end" fill="#000" >0.00</text>
<line x1="414.09999999999997" y1="661.46" x2="417.7" y2="661.46" stroke="#1a1a1a" stroke-width="1.2" />
<text x="409.8" y="665.46" font-size="11.2" font-weight="bold" text-anchor="end" fill="#000" >0.02</text>
<line x1="414.09999999999997" y1="641.22" x2="417.7" y2="641.22" stroke="#1a1a1a" stroke-width="1.2" />
<text x="409.8" y="645.22" font-size="11.2" font-weight="bold" text-anchor="end" fill="#000" >0.04</text>
<line x1="414.09999999999997" y1="620.98" x2="417.7" y2="620.98" stroke="#1a1a1a" stroke-width="1.2" />
<text x="409.8" y="624.98" font-size="11.2" font-weight="bold" text-anchor="end" fill="#000" >0.06</text>
<line x1="414.09999999999997" y1="600.74" x2="417.7" y2="600.74" stroke="#1a1a1a" stroke-width="1.2" />
<text x="409.8" y="604.74" font-size="11.2" font-weight="bold" text-anchor="end" fill="#000" >0.08</text>
<line x1="414.09999999999997" y1="580.5" x2="417.7" y2="580.5" stroke="#1a1a1a" stroke-width="1.2" />
<text x="409.8" y="584.5" font-size="11.2" font-weight="bold" text-anchor="end" fill="#000" >0.10</text>
<line x1="414.09999999999997" y1="560.26" x2="417.7" y2="560.26" stroke="#1a1a1a" stroke-width="1.2" />
<text x="409.8" y="564.26" font-size="11.2" font-weight="bold" text-anchor="end" fill="#000" >0.12</text>
<line x1="414.09999999999997" y1="540.02" x2="417.7" y2="540.02" stroke="#1a1a1a" stroke-width="1.2" />
<text x="409.8" y="544.02" font-size="11.2" font-weight="bold" text-anchor="end" fill="#000" >0.14</text>
<line x1="415.3" y1="691.82" x2="417.7" y2="691.82" stroke="#1a1a1a" stroke-width="1.0" />
<line x1="415.3" y1="671.58" x2="417.7" y2="671.58" stroke="#1a1a1a" stroke-width="1.0" />
<line x1="415.3" y1="651.34" x2="417.7" y2="651.34" stroke="#1a1a1a" stroke-width="1.0" />
<line x1="415.3" y1="631.1" x2="417.7" y2="631.1" stroke="#1a1a1a" stroke-width="1.0" />
<line x1="415.3" y1="610.86" x2="417.7" y2="610.86" stroke="#1a1a1a" stroke-width="1.0" />
<line x1="415.3" y1="590.62" x2="417.7" y2="590.62" stroke="#1a1a1a" stroke-width="1.0" />
<line x1="415.3" y1="570.38" x2="417.7" y2="570.38" stroke="#1a1a1a" stroke-width="1.0" />
<line x1="415.3" y1="550.1400000000001" x2="417.7" y2="550.1400000000001" stroke="#1a1a1a" stroke-width="1.0" />
<line x1="415.3" y1="529.9000000000001" x2="417.7" y2="529.9000000000001" stroke="#1a1a1a" stroke-width="1.0" />
<line x1="431.4" y1="701.5" x2="431.4" y2="704.7" stroke="#1a1a1a" stroke-width="1.2" />
<line x1="457.9" y1="701.5" x2="457.9" y2="704.7" stroke="#1a1a1a" stroke-width="1.2" />
<line x1="484.4" y1="701.5" x2="484.4" y2="704.7" stroke="#1a1a1a" stroke-width="1.2" />
<line x1="510.9" y1="701.5" x2="510.9" y2="704.7" stroke="#1a1a1a" stroke-width="1.2" />
<line x1="537.4" y1="701.5" x2="537.4" y2="704.7" stroke="#1a1a1a" stroke-width="1.2" />
<line x1="563.9" y1="701.5" x2="563.9" y2="704.7" stroke="#1a1a1a" stroke-width="1.2" />
<line x1="590.4" y1="701.5" x2="590.4" y2="704.7" stroke="#1a1a1a" stroke-width="1.2" />
<line x1="616.9" y1="701.5" x2="616.9" y2="704.7" stroke="#1a1a1a" stroke-width="1.2" />
<text x="432" y="518.1" font-size="11.3" font-weight="bold" text-anchor="start" fill="#000" >FLIM</text>
<text x="366.0" y="617.4" font-size="11.4" text-anchor="middle" transform="rotate(-90 366.0 617.4)">Phasor events [event/area]</text>
<text x="434.05" y="719.0" font-size="10.8" font-weight="bold" text-anchor="middle" fill="#000" >AO</text>
<text x="458.7" y="719.0" font-size="10.8" font-weight="bold" text-anchor="middle" fill="#000" >BO</text>
<text x="484.8" y="719.0" font-size="10.8" font-weight="bold" text-anchor="middle" fill="#000" >AO</text>
<text x="512.85" y="719.0" font-size="10.8" font-weight="bold" text-anchor="middle" fill="#000" >BO</text>
<text x="538" y="719.0" font-size="10.8" font-weight="bold" text-anchor="middle" fill="#000" >AO</text>
<text x="564.65" y="719.0" font-size="10.8" font-weight="bold" text-anchor="middle" fill="#000" >BO</text>
<text x="590.7" y="719.0" font-size="10.8" font-weight="bold" text-anchor="middle" fill="#000" >AO</text>
<text x="617.85" y="719.0" font-size="10.8" font-weight="bold" text-anchor="middle" fill="#000" >BO</text>
<rect x="428" y="723.5" width="33.39999999999998" height="3.7" fill="#000" />
<text x="443.6" y="739.2" font-size="11" font-weight="bold" text-anchor="middle" fill="#000" >1</text>
<rect x="481.8" y="723.5" width="33.30000000000001" height="3.7" fill="#000" />
<text x="497.65" y="739.2" font-size="11" font-weight="bold" text-anchor="middle" fill="#000" >10</text>
<rect x="533.8" y="723.5" width="33.30000000000007" height="3.7" fill="#000" />
<text x="550" y="739.2" font-size="11" font-weight="bold" text-anchor="middle" fill="#000" >25</text>
<rect x="586" y="723.5" width="33.39999999999998" height="3.7" fill="#000" />
<text x="602.5" y="739.2" font-size="11" font-weight="bold" text-anchor="middle" fill="#000" >50</text>
<text x="486.6" y="758.5" font-size="11.4" font-weight="normal" text-anchor="start" fill="#000" >[NP D], μg/mL</text>
<circle cx="422.7" cy="681.4" r="1.5" fill="#ee00ee"/>
<circle cx="424.5" cy="681.6" r="1.5" fill="#ee00ee"/>
<circle cx="426.4" cy="681.2" r="1.5" fill="#ee00ee"/>
<circle cx="428.2" cy="681.5" r="1.5" fill="#ee00ee"/>
<circle cx="430.1" cy="681.3" r="1.5" fill="#ee00ee"/>
<circle cx="431.9" cy="681.3" r="1.5" fill="#ee00ee"/>
<circle cx="433.8" cy="681.2" r="1.5" fill="#ee00ee"/>
<circle cx="435.6" cy="681.7" r="1.5" fill="#ee00ee"/>
<circle cx="437.5" cy="681.3" r="1.5" fill="#ee00ee"/>
<circle cx="439.3" cy="681.3" r="1.5" fill="#ee00ee"/>
<line x1="422.0" y1="681.5" x2="440.0" y2="681.5" stroke="#000" stroke-width="1.0" opacity="0.55"/>
<circle cx="449.5" cy="680.2" r="1.5" fill="#ee00ee"/>
<circle cx="451.3" cy="681.0" r="1.5" fill="#ee00ee"/>
<circle cx="453.1" cy="679.7" r="1.5" fill="#ee00ee"/>
<circle cx="454.8" cy="680.3" r="1.5" fill="#ee00ee"/>
<circle cx="456.6" cy="680.5" r="1.5" fill="#ee00ee"/>
<circle cx="458.4" cy="681.0" r="1.5" fill="#ee00ee"/>
<circle cx="460.2" cy="680.9" r="1.5" fill="#ee00ee"/>
<circle cx="461.9" cy="681.0" r="1.5" fill="#ee00ee"/>
<circle cx="463.7" cy="680.0" r="1.5" fill="#ee00ee"/>
<circle cx="465.5" cy="680.3" r="1.5" fill="#ee00ee"/>
<line x1="448.8" y1="680.4" x2="466.2" y2="680.4" stroke="#000" stroke-width="1.0" opacity="0.55"/>
<line x1="449" y1="680.2" x2="466" y2="680.2" stroke="#222" stroke-width="1.2" />
<circle cx="487.1" cy="674.3" r="1.5" fill="#00e000"/>
<circle cx="492.4" cy="675.4" r="1.5" fill="#00e000"/>
<circle cx="479.5" cy="677.8" r="1.5" fill="#00e000"/>
<circle cx="484.6" cy="677.8" r="1.5" fill="#00e000"/>
<circle cx="477.4" cy="681.8" r="1.5" fill="#00e000"/>
<circle cx="482.2" cy="681.8" r="1.5" fill="#00e000"/>
<circle cx="491.1" cy="681.8" r="1.5" fill="#00e000"/>
<circle cx="475.8" cy="679.7" r="1.5" fill="#00e000"/>
<rect x="475" y="677.3" width="18.5" height="4.5" fill="none" stroke="#222" stroke-width="1.0"/>
<line x1="475" y1="680.5" x2="493.5" y2="680.5" stroke="#222" stroke-width="1.1" />
<circle cx="507.1" cy="646.8" r="1.5" fill="#00e000"/>
<circle cx="514.4" cy="646.8" r="1.5" fill="#00e000"/>
<circle cx="503.4" cy="653.7" r="1.5" fill="#00e000"/>
<circle cx="518.4" cy="656.6" r="1.5" fill="#00e000"/>
<circle cx="510.7" cy="659.3" r="1.5" fill="#00e000"/>
<circle cx="508.7" cy="669.5" r="1.5" fill="#00e000"/>
<circle cx="512.7" cy="670.6" r="1.5" fill="#00e000"/>
<rect x="501.5" y="646.5" width="18.799999999999955" height="12.799999999999955" fill="none" stroke="#222" stroke-width="1.0"/>
<line x1="501.5" y1="656.6" x2="520.3" y2="656.6" stroke="#222" stroke-width="1.1" />
<circle cx="537.3" cy="652.4" r="1.5" fill="#f6ee00"/>
<circle cx="542.6" cy="669" r="1.5" fill="#f6ee00"/>
<circle cx="537.7" cy="672.2" r="1.5" fill="#f6ee00"/>
<circle cx="528.4" cy="675.4" r="1.5" fill="#f6ee00"/>
<circle cx="535.7" cy="676.2" r="1.5" fill="#f6ee00"/>
<circle cx="531.6" cy="680.2" r="1.5" fill="#f6ee00"/>
<circle cx="534.8" cy="681.8" r="1.5" fill="#f6ee00"/>
<circle cx="541.3" cy="681.8" r="1.5" fill="#f6ee00"/>
<circle cx="546.1" cy="681.5" r="1.5" fill="#f6ee00"/>
<rect x="528.1" y="676.2" width="18.799999999999955" height="5.099999999999909" fill="none" stroke="#222" stroke-width="1.0"/>
<line x1="528.1" y1="678.3" x2="546.9" y2="678.3" stroke="#858585" stroke-width="1.4" />
<line x1="528.1" y1="679.4" x2="546.9" y2="679.4" stroke="#222" stroke-width="1.1" />
<circle cx="564.1" cy="640.6" r="1.5" fill="#f6ee00"/>
<circle cx="563" cy="646.5" r="1.5" fill="#f6ee00"/>
<circle cx="565" cy="649.2" r="1.5" fill="#f6ee00"/>
<circle cx="572.6" cy="665" r="1.5" fill="#f6ee00"/>
<circle cx="557" cy="669.8" r="1.5" fill="#f6ee00"/>
<circle cx="570.2" cy="668.2" r="1.5" fill="#f6ee00"/>
<circle cx="561.8" cy="672.2" r="1.5" fill="#f6ee00"/>
<circle cx="567.8" cy="673" r="1.5" fill="#f6ee00"/>
<circle cx="559.7" cy="676.2" r="1.5" fill="#f6ee00"/>
<circle cx="564.1" cy="678.1" r="1.5" fill="#f6ee00"/>
<rect x="554.6" y="665.4" width="18.799999999999955" height="7.100000000000023" fill="none" stroke="#222" stroke-width="1.0"/>
<line x1="554.6" y1="668.5" x2="573.4" y2="668.5" stroke="#858585" stroke-width="1.4" />
<line x1="554.6" y1="669.8" x2="573.4" y2="669.8" stroke="#222" stroke-width="1.1" />
<circle cx="590.6" cy="660.1" r="1.5" fill="#d9800f"/>
<circle cx="594.6" cy="668.2" r="1.5" fill="#d9800f"/>
<circle cx="582.2" cy="678.1" r="1.5" fill="#d9800f"/>
<circle cx="586.2" cy="681" r="1.5" fill="#d9800f"/>
<circle cx="591.1" cy="677.5" r="1.5" fill="#d9800f"/>
<circle cx="596.7" cy="680.2" r="1.5" fill="#d9800f"/>
<circle cx="584" cy="680.5" r="1.5" fill="#d9800f"/>
<circle cx="598.5" cy="680.8" r="1.5" fill="#d9800f"/>
<rect x="581.4" y="677" width="18.5" height="3.7000000000000455" fill="none" stroke="#222" stroke-width="1.0"/>
<line x1="581.4" y1="679.6" x2="599.9" y2="679.6" stroke="#222" stroke-width="1.1" />
<circle cx="616.9" cy="543.4" r="1.5" fill="#d9800f"/>
<circle cx="610.9" cy="575.1" r="1.5" fill="#d9800f"/>
<circle cx="616.9" cy="578.4" r="1.5" fill="#d9800f"/>
<circle cx="623.4" cy="577" r="1.5" fill="#d9800f"/>
<circle cx="613.7" cy="588.6" r="1.5" fill="#d9800f"/>
<circle cx="620.3" cy="596.8" r="1.5" fill="#d9800f"/>
<circle cx="620.3" cy="601.6" r="1.5" fill="#d9800f"/>
<circle cx="614" cy="620.6" r="1.5" fill="#d9800f"/>
<circle cx="610.8" cy="637.3" r="1.5" fill="#d9800f"/>
<circle cx="617.1" cy="640.6" r="1.5" fill="#d9800f"/>
<circle cx="623.2" cy="638.8" r="1.5" fill="#d9800f"/>
<rect x="607.5" y="577" width="19.100000000000023" height="43.39999999999998" fill="none" stroke="#222" stroke-width="1.0"/>
<line x1="607.5" y1="596.9" x2="626.6" y2="596.9" stroke="#222" stroke-width="1.1" />
<line x1="423.3" y1="669" x2="461.8" y2="669" stroke="#000" stroke-width="1.9" />
<line x1="423.3" y1="664.8" x2="423.3" y2="673.2" stroke="#000" stroke-width="1.9" />
<line x1="461.8" y1="664.8" x2="461.8" y2="673.2" stroke="#000" stroke-width="1.9" />
<line x1="475" y1="634.5" x2="513.9" y2="634.5" stroke="#000" stroke-width="1.9" />
<line x1="475" y1="630.3" x2="475" y2="638.7" stroke="#000" stroke-width="1.9" />
<line x1="513.9" y1="630.3" x2="513.9" y2="638.7" stroke="#000" stroke-width="1.9" />
<line x1="531.2" y1="626.1" x2="569.9" y2="626.1" stroke="#000" stroke-width="1.9" />
<line x1="531.2" y1="621.9" x2="531.2" y2="630.3000000000001" stroke="#000" stroke-width="1.9" />
<line x1="569.9" y1="621.9" x2="569.9" y2="630.3000000000001" stroke="#000" stroke-width="1.9" />
<line x1="580.8" y1="535.8" x2="619.8" y2="535.8" stroke="#000" stroke-width="1.9" />
<line x1="580.8" y1="531.5999999999999" x2="580.8" y2="540.0" stroke="#000" stroke-width="1.9" />
<line x1="619.8" y1="531.5999999999999" x2="619.8" y2="540.0" stroke="#000" stroke-width="1.9" />
</g></svg></body></html>
